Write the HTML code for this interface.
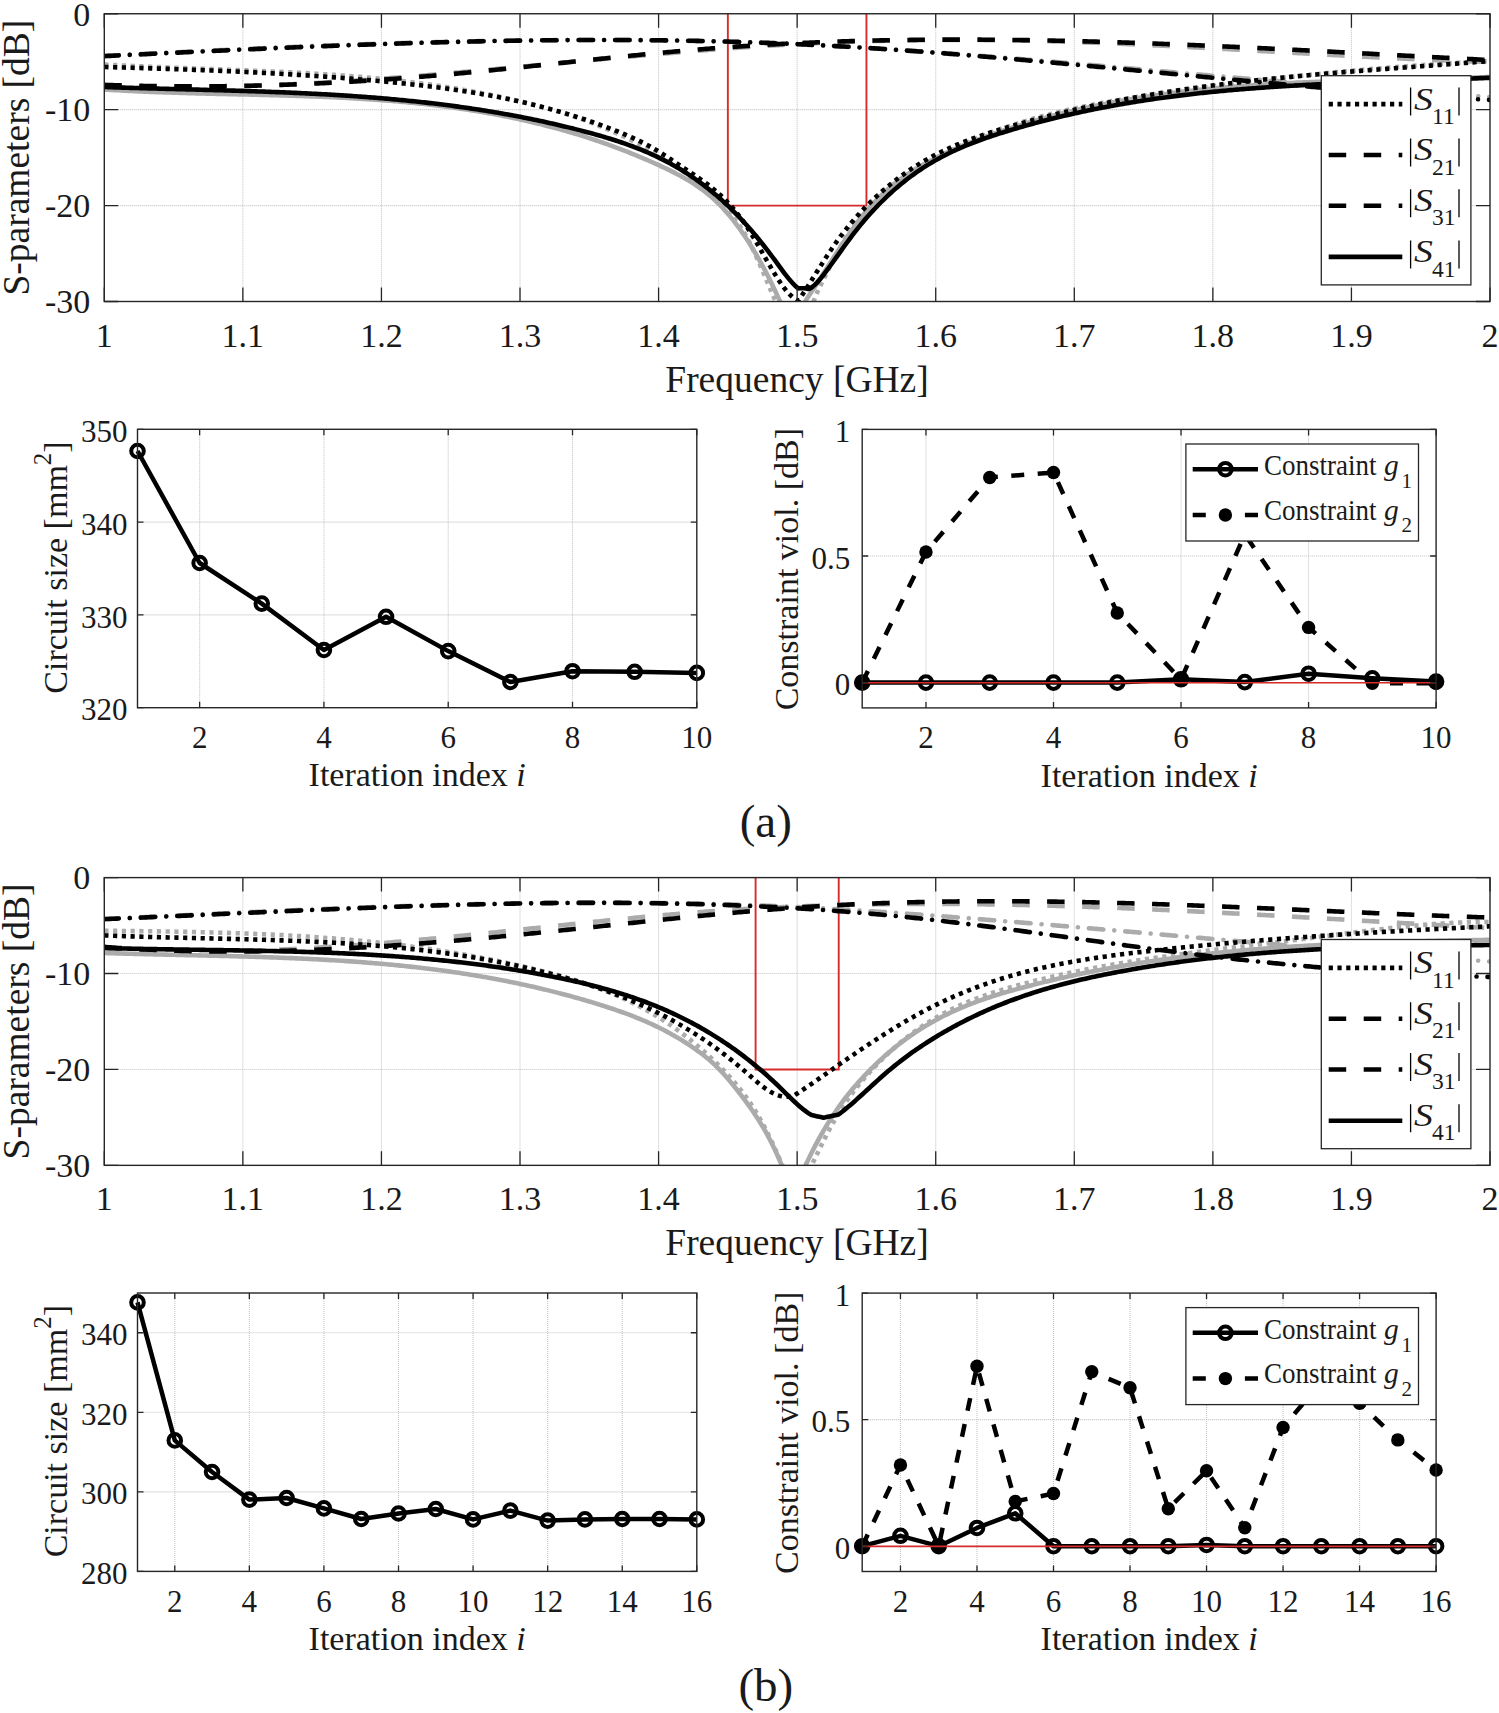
<!DOCTYPE html><html><head><meta charset="utf-8"><style>html,body{margin:0;padding:0;background:#fff;}svg{display:block;}text{font-family:"Liberation Serif",serif;fill:#1a1a1a;}</style></head><body>
<svg width="1499" height="1713" viewBox="0 0 1499 1713">
<rect width="1499" height="1713" fill="#fff"/>
<line x1="242.87" y1="13.75" x2="242.87" y2="301.5" stroke="#c4c4c4" stroke-width="1.1" stroke-dasharray="1 1"/>
<line x1="381.44" y1="13.75" x2="381.44" y2="301.5" stroke="#c4c4c4" stroke-width="1.1" stroke-dasharray="1 1"/>
<line x1="520.01" y1="13.75" x2="520.01" y2="301.5" stroke="#c4c4c4" stroke-width="1.1" stroke-dasharray="1 1"/>
<line x1="658.58" y1="13.75" x2="658.58" y2="301.5" stroke="#c4c4c4" stroke-width="1.1" stroke-dasharray="1 1"/>
<line x1="797.15" y1="13.75" x2="797.15" y2="301.5" stroke="#c4c4c4" stroke-width="1.1" stroke-dasharray="1 1"/>
<line x1="935.72" y1="13.75" x2="935.72" y2="301.5" stroke="#c4c4c4" stroke-width="1.1" stroke-dasharray="1 1"/>
<line x1="1074.29" y1="13.75" x2="1074.29" y2="301.5" stroke="#c4c4c4" stroke-width="1.1" stroke-dasharray="1 1"/>
<line x1="1212.86" y1="13.75" x2="1212.86" y2="301.5" stroke="#c4c4c4" stroke-width="1.1" stroke-dasharray="1 1"/>
<line x1="1351.43" y1="13.75" x2="1351.43" y2="301.5" stroke="#c4c4c4" stroke-width="1.1" stroke-dasharray="1 1"/>
<line x1="104.3" y1="109.67" x2="1490" y2="109.67" stroke="#c4c4c4" stroke-width="1.1" stroke-dasharray="1 1"/>
<line x1="104.3" y1="205.58" x2="1490" y2="205.58" stroke="#c4c4c4" stroke-width="1.1" stroke-dasharray="1 1"/>
<clipPath id="c13"><rect x="104.3" y="13.75" width="1385.7" height="287.75"/></clipPath>
<path d="M727.86,13.75 V205.58 H866.44 V13.75" stroke="#d82c2c" stroke-width="1.9" fill="none"/>
<g clip-path="url(#c13)" fill="none" stroke-width="4.6">
<path d="M104.3,85.02 L106.3,85.12 L108.3,85.2 L110.3,85.29 L112.3,85.37 L114.3,85.46 L116.3,85.53 L118.3,85.61 L120.3,85.69 L122.3,85.76 L124.3,85.83 L126.3,85.89 L128.3,85.96 L130.3,86.02 L132.3,86.08 L134.3,86.14 L136.3,86.19 L138.3,86.24 L140.3,86.29 L142.3,86.34 L144.3,86.39 L146.3,86.43 L148.3,86.47 L150.3,86.51 L152.3,86.55 L154.3,86.58 L156.3,86.61 L158.3,86.64 L160.3,86.67 L162.3,86.7 L164.3,86.72 L166.3,86.74 L168.3,86.76 L170.3,86.78 L172.3,86.79 L174.3,86.8 L176.3,86.81 L178.3,86.82 L180.3,86.83 L182.3,86.83 L184.3,86.83 L186.3,86.83 L188.3,86.83 L190.3,86.83 L192.3,86.82 L194.3,86.81 L196.3,86.8 L198.3,86.79 L200.3,86.78 L202.3,86.76 L204.3,86.74 L206.3,86.72 L208.3,86.7 L210.3,86.68 L212.3,86.65 L214.3,86.63 L216.3,86.6 L218.3,86.56 L220.3,86.53 L222.3,86.5 L224.3,86.46 L226.3,86.42 L228.3,86.38 L230.3,86.34 L232.3,86.29 L234.3,86.25 L236.3,86.2 L238.3,86.15 L240.3,86.1 L242.3,86.04 L244.3,85.99 L246.3,85.93 L248.3,85.87 L250.3,85.81 L252.3,85.75 L254.3,85.69 L256.3,85.62 L258.3,85.56 L260.3,85.49 L262.3,85.42 L264.3,85.35 L266.3,85.27 L268.3,85.2 L270.3,85.12 L272.3,85.05 L274.3,84.97 L276.3,84.88 L278.3,84.8 L280.3,84.72 L282.3,84.63 L284.3,84.54 L286.3,84.46 L288.3,84.37 L290.3,84.27 L292.3,84.18 L294.3,84.09 L296.3,83.99 L298.3,83.89 L300.3,83.79 L302.3,83.69 L304.3,83.59 L306.3,83.49 L308.3,83.38 L310.3,83.28 L312.3,83.17 L314.3,83.06 L316.3,82.95 L318.3,82.84 L320.3,82.73 L322.3,82.61 L324.3,82.5 L326.3,82.38 L328.3,82.27 L330.3,82.15 L332.3,82.03 L334.3,81.91 L336.3,81.78 L338.3,81.66 L340.3,81.53 L342.3,81.41 L344.3,81.28 L346.3,81.15 L348.3,81.02 L350.3,80.89 L352.3,80.76 L354.3,80.63 L356.3,80.49 L358.3,80.36 L360.3,80.22 L362.3,80.08 L364.3,79.94 L366.3,79.8 L368.3,79.66 L370.3,79.52 L372.3,79.38 L374.3,79.24 L376.3,79.09 L378.3,78.95 L380.3,78.8 L382.3,78.65 L384.3,78.5 L386.3,78.35 L388.3,78.2 L390.3,78.05 L392.3,77.9 L394.3,77.75 L396.3,77.59 L398.3,77.44 L400.3,77.28 L402.3,77.12 L404.3,76.97 L406.3,76.81 L408.3,76.65 L410.3,76.49 L412.3,76.33 L414.3,76.17 L416.3,76 L418.3,75.84 L420.3,75.68 L422.3,75.51 L424.3,75.35 L426.3,75.18 L428.3,75.02 L430.3,74.85 L432.3,74.68 L434.3,74.51 L436.3,74.34 L438.3,74.17 L440.3,74 L442.3,73.83 L444.3,73.66 L446.3,73.49 L448.3,73.31 L450.3,73.14 L452.3,72.96 L454.3,72.79 L456.3,72.61 L458.3,72.44 L460.3,72.26 L462.3,72.08 L464.3,71.91 L466.3,71.73 L468.3,71.55 L470.3,71.37 L472.3,71.19 L474.3,71.01 L476.3,70.83 L478.3,70.65 L480.3,70.47 L482.3,70.29 L484.3,70.11 L486.3,69.92 L488.3,69.74 L490.3,69.56 L492.3,69.38 L494.3,69.19 L496.3,69.01 L498.3,68.82 L500.3,68.64 L502.3,68.45 L504.3,68.27 L506.3,68.08 L508.3,67.9 L510.3,67.71 L512.3,67.52 L514.3,67.34 L516.3,67.15 L518.3,66.96 L520.3,66.78 L522.3,66.59 L524.3,66.4 L526.3,66.22 L528.3,66.03 L530.3,65.84 L532.3,65.65 L534.3,65.46 L536.3,65.28 L538.3,65.09 L540.3,64.9 L542.3,64.71 L544.3,64.52 L546.3,64.33 L548.3,64.14 L550.3,63.96 L552.3,63.77 L554.3,63.58 L556.3,63.39 L558.3,63.2 L560.3,63.01 L562.3,62.82 L564.3,62.64 L566.3,62.45 L568.3,62.26 L570.3,62.07 L572.3,61.88 L574.3,61.69 L576.3,61.51 L578.3,61.32 L580.3,61.13 L582.3,60.94 L584.3,60.76 L586.3,60.57 L588.3,60.38 L590.3,60.2 L592.3,60.01 L594.3,59.82 L596.3,59.64 L598.3,59.45 L600.3,59.27 L602.3,59.08 L604.3,58.9 L606.3,58.71 L608.3,58.53 L610.3,58.34 L612.3,58.16 L614.3,57.97 L616.3,57.79 L618.3,57.61 L620.3,57.43 L622.3,57.24 L624.3,57.06 L626.3,56.88 L628.3,56.7 L630.3,56.52 L632.3,56.34 L634.3,56.16 L636.3,55.98 L638.3,55.8 L640.3,55.63 L642.3,55.45 L644.3,55.27 L646.3,55.09 L648.3,54.92 L650.3,54.74 L652.3,54.57 L654.3,54.39 L656.3,54.22 L658.3,54.05 L660.3,53.87 L662.3,53.7 L664.3,53.53 L666.3,53.36 L668.3,53.19 L670.3,53.02 L672.3,52.85 L674.3,52.68 L676.3,52.52 L678.3,52.35 L680.3,52.18 L682.3,52.02 L684.3,51.85 L686.3,51.69 L688.3,51.53 L690.3,51.36 L692.3,51.2 L694.3,51.04 L696.3,50.88 L698.3,50.72 L700.3,50.56 L702.3,50.4 L704.3,50.25 L706.3,50.09 L708.3,49.94 L710.3,49.78 L712.3,49.63 L714.3,49.48 L716.3,49.33 L718.3,49.17 L720.3,49.03 L722.3,48.88 L724.3,48.73 L726.3,48.58 L728.3,48.44 L730.3,48.29 L732.3,48.15 L734.3,48 L736.3,47.86 L738.3,47.72 L740.3,47.58 L742.3,47.44 L744.3,47.31 L746.3,47.17 L748.3,47.03 L750.3,46.9 L752.3,46.77 L754.3,46.63 L756.3,46.5 L758.3,46.37 L760.3,46.24 L762.3,46.12 L764.3,45.99 L766.3,45.86 L768.3,45.74 L770.3,45.62 L772.3,45.5 L774.3,45.38 L776.3,45.26 L778.3,45.14 L780.3,45.02 L782.3,44.91 L784.3,44.79 L786.3,44.68 L788.3,44.57 L790.3,44.46 L792.3,44.35 L794.3,44.24 L796.3,44.14 L798.3,44.03 L800.3,43.93 L802.3,43.83 L804.3,43.72 L806.3,43.63 L808.3,43.53 L810.3,43.43 L812.3,43.34 L814.3,43.24 L816.3,43.15 L818.3,43.06 L820.3,42.97 L822.3,42.88 L824.3,42.79 L826.3,42.71 L828.3,42.62 L830.3,42.54 L832.3,42.46 L834.3,42.38 L836.3,42.3 L838.3,42.22 L840.3,42.15 L842.3,42.07 L844.3,42 L846.3,41.92 L848.3,41.85 L850.3,41.78 L852.3,41.72 L854.3,41.65 L856.3,41.58 L858.3,41.52 L860.3,41.46 L862.3,41.39 L864.3,41.33 L866.3,41.27 L868.3,41.22 L870.3,41.16 L872.3,41.11 L874.3,41.05 L876.3,41 L878.3,40.95 L880.3,40.9 L882.3,40.85 L884.3,40.8 L886.3,40.76 L888.3,40.71 L890.3,40.67 L892.3,40.63 L894.3,40.59 L896.3,40.55 L898.3,40.51 L900.3,40.47 L902.3,40.44 L904.3,40.4 L906.3,40.37 L908.3,40.34 L910.3,40.31 L912.3,40.28 L914.3,40.25 L916.3,40.22 L918.3,40.2 L920.3,40.18 L922.3,40.15 L924.3,40.13 L926.3,40.11 L928.3,40.09 L930.3,40.07 L932.3,40.06 L934.3,40.04 L936.3,40.03 L938.3,40.02 L940.3,40.01 L942.3,40 L944.3,39.99 L946.3,39.98 L948.3,39.98 L950.3,39.97 L952.3,39.97 L954.3,39.96 L956.3,39.96 L958.3,39.96 L960.3,39.97 L962.3,39.97 L964.3,39.97 L966.3,39.98 L968.3,39.98 L970.3,39.99 L972.3,40 L974.3,40.01 L976.3,40.02 L978.3,40.04 L980.3,40.05 L982.3,40.06 L984.3,40.08 L986.3,40.1 L988.3,40.12 L990.3,40.14 L992.3,40.16 L994.3,40.18 L996.3,40.21 L998.3,40.23 L1000.3,40.26 L1002.3,40.29 L1004.3,40.31 L1006.3,40.34 L1008.3,40.38 L1010.3,40.41 L1012.3,40.44 L1014.3,40.48 L1016.3,40.51 L1018.3,40.55 L1020.3,40.59 L1022.3,40.63 L1024.3,40.67 L1026.3,40.71 L1028.3,40.75 L1030.3,40.8 L1032.3,40.84 L1034.3,40.89 L1036.3,40.94 L1038.3,40.98 L1040.3,41.03 L1042.3,41.08 L1044.3,41.14 L1046.3,41.19 L1048.3,41.24 L1050.3,41.3 L1052.3,41.35 L1054.3,41.41 L1056.3,41.47 L1058.3,41.53 L1060.3,41.59 L1062.3,41.65 L1064.3,41.71 L1066.3,41.77 L1068.3,41.83 L1070.3,41.9 L1072.3,41.96 L1074.3,42.03 L1076.3,42.1 L1078.3,42.17 L1080.3,42.24 L1082.3,42.31 L1084.3,42.38 L1086.3,42.45 L1088.3,42.52 L1090.3,42.59 L1092.3,42.67 L1094.3,42.74 L1096.3,42.82 L1098.3,42.9 L1100.3,42.97 L1102.3,43.05 L1104.3,43.13 L1106.3,43.21 L1108.3,43.29 L1110.3,43.37 L1112.3,43.45 L1114.3,43.54 L1116.3,43.62 L1118.3,43.7 L1120.3,43.79 L1122.3,43.88 L1124.3,43.96 L1126.3,44.05 L1128.3,44.14 L1130.3,44.23 L1132.3,44.31 L1134.3,44.4 L1136.3,44.49 L1138.3,44.59 L1140.3,44.68 L1142.3,44.77 L1144.3,44.86 L1146.3,44.96 L1148.3,45.05 L1150.3,45.14 L1152.3,45.24 L1154.3,45.33 L1156.3,45.43 L1158.3,45.53 L1160.3,45.63 L1162.3,45.72 L1164.3,45.82 L1166.3,45.92 L1168.3,46.02 L1170.3,46.12 L1172.3,46.22 L1174.3,46.32 L1176.3,46.42 L1178.3,46.52 L1180.3,46.63 L1182.3,46.73 L1184.3,46.83 L1186.3,46.93 L1188.3,47.04 L1190.3,47.14 L1192.3,47.25 L1194.3,47.35 L1196.3,47.46 L1198.3,47.56 L1200.3,47.67 L1202.3,47.77 L1204.3,47.88 L1206.3,47.99 L1208.3,48.1 L1210.3,48.2 L1212.3,48.31 L1214.3,48.42 L1216.3,48.53 L1218.3,48.64 L1220.3,48.75 L1222.3,48.86 L1224.3,48.96 L1226.3,49.07 L1228.3,49.18 L1230.3,49.29 L1232.3,49.4 L1234.3,49.52 L1236.3,49.63 L1238.3,49.74 L1240.3,49.85 L1242.3,49.96 L1244.3,50.07 L1246.3,50.18 L1248.3,50.29 L1250.3,50.41 L1252.3,50.52 L1254.3,50.63 L1256.3,50.74 L1258.3,50.85 L1260.3,50.97 L1262.3,51.08 L1264.3,51.19 L1266.3,51.3 L1268.3,51.42 L1270.3,51.53 L1272.3,51.64 L1274.3,51.75 L1276.3,51.87 L1278.3,51.98 L1280.3,52.09 L1282.3,52.2 L1284.3,52.32 L1286.3,52.43 L1288.3,52.54 L1290.3,52.65 L1292.3,52.76 L1294.3,52.88 L1296.3,52.99 L1298.3,53.1 L1300.3,53.21 L1302.3,53.32 L1304.3,53.44 L1306.3,53.55 L1308.3,53.66 L1310.3,53.77 L1312.3,53.88 L1314.3,53.99 L1316.3,54.1 L1318.3,54.21 L1320.3,54.32 L1322.3,54.43 L1324.3,54.54 L1326.3,54.65 L1328.3,54.76 L1330.3,54.87 L1332.3,54.98 L1334.3,55.09 L1336.3,55.2 L1338.3,55.31 L1340.3,55.41 L1342.3,55.52 L1344.3,55.63 L1346.3,55.74 L1348.3,55.84 L1350.3,55.95 L1352.3,56.05 L1354.3,56.16 L1356.3,56.27 L1358.3,56.37 L1360.3,56.48 L1362.3,56.58 L1364.3,56.68 L1366.3,56.79 L1368.3,56.89 L1370.3,56.99 L1372.3,57.09 L1374.3,57.2 L1376.3,57.3 L1378.3,57.4 L1380.3,57.5 L1382.3,57.6 L1384.3,57.7 L1386.3,57.8 L1388.3,57.89 L1390.3,57.99 L1392.3,58.09 L1394.3,58.19 L1396.3,58.28 L1398.3,58.38 L1400.3,58.47 L1402.3,58.57 L1404.3,58.66 L1406.3,58.75 L1408.3,58.85 L1410.3,58.94 L1412.3,59.03 L1414.3,59.12 L1416.3,59.21 L1418.3,59.3 L1420.3,59.39 L1422.3,59.48 L1424.3,59.57 L1426.3,59.65 L1428.3,59.74 L1430.3,59.83 L1432.3,59.91 L1434.3,60 L1436.3,60.08 L1438.3,60.16 L1440.3,60.24 L1442.3,60.33 L1444.3,60.41 L1446.3,60.49 L1448.3,60.56 L1450.3,60.64 L1452.3,60.72 L1454.3,60.8 L1456.3,60.87 L1458.3,60.95 L1460.3,61.02 L1462.3,61.09 L1464.3,61.17 L1466.3,61.24 L1468.3,61.31 L1470.3,61.38 L1472.3,61.45 L1474.3,61.52 L1476.3,61.58 L1478.3,61.65 L1480.3,61.72 L1482.3,61.78 L1484.3,61.84 L1486.3,61.91 L1488.3,61.97 L1490,62.02" stroke="#ababab" stroke-dasharray="17.5 17.5" stroke-linecap="butt" stroke-linejoin="round"/>
<path d="M104.3,56.02 L106.3,55.91 L108.3,55.8 L110.3,55.7 L112.3,55.59 L114.3,55.49 L116.3,55.38 L118.3,55.28 L120.3,55.17 L122.3,55.06 L124.3,54.96 L126.3,54.86 L128.3,54.75 L130.3,54.65 L132.3,54.54 L134.3,54.44 L136.3,54.33 L138.3,54.23 L140.3,54.13 L142.3,54.02 L144.3,53.92 L146.3,53.82 L148.3,53.71 L150.3,53.61 L152.3,53.51 L154.3,53.41 L156.3,53.3 L158.3,53.2 L160.3,53.1 L162.3,53 L164.3,52.9 L166.3,52.8 L168.3,52.69 L170.3,52.59 L172.3,52.49 L174.3,52.39 L176.3,52.29 L178.3,52.19 L180.3,52.09 L182.3,51.99 L184.3,51.89 L186.3,51.8 L188.3,51.7 L190.3,51.6 L192.3,51.5 L194.3,51.4 L196.3,51.3 L198.3,51.21 L200.3,51.11 L202.3,51.01 L204.3,50.92 L206.3,50.82 L208.3,50.72 L210.3,50.63 L212.3,50.53 L214.3,50.44 L216.3,50.34 L218.3,50.25 L220.3,50.15 L222.3,50.06 L224.3,49.96 L226.3,49.87 L228.3,49.78 L230.3,49.68 L232.3,49.59 L234.3,49.5 L236.3,49.4 L238.3,49.31 L240.3,49.22 L242.3,49.13 L244.3,49.04 L246.3,48.95 L248.3,48.86 L250.3,48.77 L252.3,48.68 L254.3,48.59 L256.3,48.5 L258.3,48.41 L260.3,48.32 L262.3,48.23 L264.3,48.14 L266.3,48.06 L268.3,47.97 L270.3,47.88 L272.3,47.8 L274.3,47.71 L276.3,47.62 L278.3,47.54 L280.3,47.45 L282.3,47.37 L284.3,47.28 L286.3,47.2 L288.3,47.12 L290.3,47.03 L292.3,46.95 L294.3,46.87 L296.3,46.78 L298.3,46.7 L300.3,46.62 L302.3,46.54 L304.3,46.46 L306.3,46.38 L308.3,46.3 L310.3,46.22 L312.3,46.14 L314.3,46.06 L316.3,45.98 L318.3,45.9 L320.3,45.83 L322.3,45.75 L324.3,45.67 L326.3,45.6 L328.3,45.52 L330.3,45.44 L332.3,45.37 L334.3,45.29 L336.3,45.22 L338.3,45.15 L340.3,45.07 L342.3,45 L344.3,44.93 L346.3,44.85 L348.3,44.78 L350.3,44.71 L352.3,44.64 L354.3,44.57 L356.3,44.5 L358.3,44.43 L360.3,44.36 L362.3,44.29 L364.3,44.22 L366.3,44.16 L368.3,44.09 L370.3,44.02 L372.3,43.95 L374.3,43.89 L376.3,43.82 L378.3,43.76 L380.3,43.69 L382.3,43.63 L384.3,43.57 L386.3,43.5 L388.3,43.44 L390.3,43.38 L392.3,43.32 L394.3,43.25 L396.3,43.19 L398.3,43.13 L400.3,43.07 L402.3,43.02 L404.3,42.96 L406.3,42.9 L408.3,42.84 L410.3,42.78 L412.3,42.73 L414.3,42.67 L416.3,42.61 L418.3,42.56 L420.3,42.5 L422.3,42.45 L424.3,42.4 L426.3,42.34 L428.3,42.29 L430.3,42.24 L432.3,42.19 L434.3,42.14 L436.3,42.09 L438.3,42.04 L440.3,41.99 L442.3,41.94 L444.3,41.89 L446.3,41.84 L448.3,41.8 L450.3,41.75 L452.3,41.7 L454.3,41.66 L456.3,41.61 L458.3,41.57 L460.3,41.53 L462.3,41.48 L464.3,41.44 L466.3,41.4 L468.3,41.36 L470.3,41.32 L472.3,41.28 L474.3,41.24 L476.3,41.2 L478.3,41.16 L480.3,41.12 L482.3,41.08 L484.3,41.05 L486.3,41.01 L488.3,40.98 L490.3,40.94 L492.3,40.91 L494.3,40.87 L496.3,40.84 L498.3,40.81 L500.3,40.78 L502.3,40.75 L504.3,40.72 L506.3,40.69 L508.3,40.66 L510.3,40.63 L512.3,40.6 L514.3,40.57 L516.3,40.55 L518.3,40.52 L520.3,40.49 L522.3,40.47 L524.3,40.45 L526.3,40.42 L528.3,40.4 L530.3,40.38 L532.3,40.36 L534.3,40.34 L536.3,40.32 L538.3,40.3 L540.3,40.28 L542.3,40.26 L544.3,40.24 L546.3,40.22 L548.3,40.21 L550.3,40.19 L552.3,40.18 L554.3,40.16 L556.3,40.15 L558.3,40.14 L560.3,40.13 L562.3,40.12 L564.3,40.1 L566.3,40.1 L568.3,40.09 L570.3,40.08 L572.3,40.07 L574.3,40.06 L576.3,40.06 L578.3,40.05 L580.3,40.05 L582.3,40.04 L584.3,40.04 L586.3,40.04 L588.3,40.03 L590.3,40.03 L592.3,40.03 L594.3,40.03 L596.3,40.03 L598.3,40.04 L600.3,40.04 L602.3,40.04 L604.3,40.04 L606.3,40.05 L608.3,40.06 L610.3,40.06 L612.3,40.07 L614.3,40.08 L616.3,40.08 L618.3,40.09 L620.3,40.1 L622.3,40.11 L624.3,40.13 L626.3,40.14 L628.3,40.15 L630.3,40.17 L632.3,40.18 L634.3,40.2 L636.3,40.21 L638.3,40.23 L640.3,40.25 L642.3,40.27 L644.3,40.29 L646.3,40.31 L648.3,40.33 L650.3,40.35 L652.3,40.37 L654.3,40.4 L656.3,40.42 L658.3,40.44 L660.3,40.47 L662.3,40.5 L664.3,40.52 L666.3,40.55 L668.3,40.58 L670.3,40.61 L672.3,40.64 L674.3,40.68 L676.3,40.71 L678.3,40.74 L680.3,40.78 L682.3,40.81 L684.3,40.85 L686.3,40.88 L688.3,40.92 L690.3,40.96 L692.3,41 L694.3,41.04 L696.3,41.08 L698.3,41.12 L700.3,41.17 L702.3,41.21 L704.3,41.25 L706.3,41.3 L708.3,41.35 L710.3,41.39 L712.3,41.44 L714.3,41.49 L716.3,41.54 L718.3,41.59 L720.3,41.64 L722.3,41.69 L724.3,41.75 L726.3,41.8 L728.3,41.86 L730.3,41.91 L732.3,41.97 L734.3,42.03 L736.3,42.09 L738.3,42.15 L740.3,42.21 L742.3,42.27 L744.3,42.33 L746.3,42.4 L748.3,42.46 L750.3,42.53 L752.3,42.59 L754.3,42.66 L756.3,42.73 L758.3,42.8 L760.3,42.87 L762.3,42.94 L764.3,43.01 L766.3,43.08 L768.3,43.16 L770.3,43.23 L772.3,43.31 L774.3,43.38 L776.3,43.46 L778.3,43.54 L780.3,43.62 L782.3,43.7 L784.3,43.78 L786.3,43.86 L788.3,43.95 L790.3,44.03 L792.3,44.12 L794.3,44.2 L796.3,44.29 L798.3,44.38 L800.3,44.47 L802.3,44.56 L804.3,44.65 L806.3,44.74 L808.3,44.84 L810.3,44.93 L812.3,45.03 L814.3,45.12 L816.3,45.22 L818.3,45.32 L820.3,45.42 L822.3,45.52 L824.3,45.62 L826.3,45.72 L828.3,45.82 L830.3,45.92 L832.3,46.03 L834.3,46.13 L836.3,46.24 L838.3,46.35 L840.3,46.45 L842.3,46.56 L844.3,46.67 L846.3,46.78 L848.3,46.9 L850.3,47.01 L852.3,47.12 L854.3,47.23 L856.3,47.35 L858.3,47.46 L860.3,47.58 L862.3,47.7 L864.3,47.82 L866.3,47.93 L868.3,48.05 L870.3,48.17 L872.3,48.3 L874.3,48.42 L876.3,48.54 L878.3,48.66 L880.3,48.79 L882.3,48.91 L884.3,49.04 L886.3,49.17 L888.3,49.29 L890.3,49.42 L892.3,49.55 L894.3,49.68 L896.3,49.81 L898.3,49.94 L900.3,50.07 L902.3,50.2 L904.3,50.34 L906.3,50.47 L908.3,50.6 L910.3,50.74 L912.3,50.87 L914.3,51.01 L916.3,51.15 L918.3,51.29 L920.3,51.42 L922.3,51.56 L924.3,51.7 L926.3,51.84 L928.3,51.98 L930.3,52.12 L932.3,52.27 L934.3,52.41 L936.3,52.55 L938.3,52.7 L940.3,52.84 L942.3,52.99 L944.3,53.13 L946.3,53.28 L948.3,53.42 L950.3,53.57 L952.3,53.72 L954.3,53.87 L956.3,54.02 L958.3,54.17 L960.3,54.32 L962.3,54.47 L964.3,54.62 L966.3,54.77 L968.3,54.92 L970.3,55.08 L972.3,55.23 L974.3,55.38 L976.3,55.54 L978.3,55.69 L980.3,55.85 L982.3,56 L984.3,56.16 L986.3,56.31 L988.3,56.47 L990.3,56.63 L992.3,56.79 L994.3,56.95 L996.3,57.1 L998.3,57.26 L1000.3,57.42 L1002.3,57.58 L1004.3,57.74 L1006.3,57.9 L1008.3,58.07 L1010.3,58.23 L1012.3,58.39 L1014.3,58.55 L1016.3,58.72 L1018.3,58.88 L1020.3,59.04 L1022.3,59.21 L1024.3,59.37 L1026.3,59.54 L1028.3,59.7 L1030.3,59.87 L1032.3,60.03 L1034.3,60.2 L1036.3,60.36 L1038.3,60.53 L1040.3,60.7 L1042.3,60.86 L1044.3,61.03 L1046.3,61.2 L1048.3,61.37 L1050.3,61.54 L1052.3,61.71 L1054.3,61.87 L1056.3,62.04 L1058.3,62.21 L1060.3,62.38 L1062.3,62.55 L1064.3,62.72 L1066.3,62.89 L1068.3,63.07 L1070.3,63.24 L1072.3,63.41 L1074.3,63.58 L1076.3,63.75 L1078.3,63.92 L1080.3,64.09 L1082.3,64.27 L1084.3,64.44 L1086.3,64.61 L1088.3,64.78 L1090.3,64.96 L1092.3,65.13 L1094.3,65.3 L1096.3,65.48 L1098.3,65.65 L1100.3,65.83 L1102.3,66 L1104.3,66.17 L1106.3,66.35 L1108.3,66.52 L1110.3,66.7 L1112.3,66.87 L1114.3,67.05 L1116.3,67.22 L1118.3,67.4 L1120.3,67.57 L1122.3,67.75 L1124.3,67.92 L1126.3,68.1 L1128.3,68.27 L1130.3,68.45 L1132.3,68.62 L1134.3,68.8 L1136.3,68.98 L1138.3,69.15 L1140.3,69.33 L1142.3,69.5 L1144.3,69.68 L1146.3,69.86 L1148.3,70.03 L1150.3,70.21 L1152.3,70.39 L1154.3,70.56 L1156.3,70.74 L1158.3,70.92 L1160.3,71.09 L1162.3,71.27 L1164.3,71.45 L1166.3,71.62 L1168.3,71.8 L1170.3,71.97 L1172.3,72.15 L1174.3,72.33 L1176.3,72.5 L1178.3,72.68 L1180.3,72.86 L1182.3,73.03 L1184.3,73.21 L1186.3,73.39 L1188.3,73.56 L1190.3,73.74 L1192.3,73.91 L1194.3,74.09 L1196.3,74.27 L1198.3,74.44 L1200.3,74.62 L1202.3,74.79 L1204.3,74.97 L1206.3,75.15 L1208.3,75.32 L1210.3,75.5 L1212.3,75.67 L1214.3,75.85 L1216.3,76.02 L1218.3,76.2 L1220.3,76.37 L1222.3,76.55 L1224.3,76.72 L1226.3,76.9 L1228.3,77.07 L1230.3,77.25 L1232.3,77.42 L1234.3,77.59 L1236.3,77.77 L1238.3,77.94 L1240.3,78.12 L1242.3,78.29 L1244.3,78.46 L1246.3,78.63 L1248.3,78.81 L1250.3,78.98 L1252.3,79.15 L1254.3,79.33 L1256.3,79.5 L1258.3,79.67 L1260.3,79.84 L1262.3,80.01 L1264.3,80.18 L1266.3,80.35 L1268.3,80.53 L1270.3,80.7 L1272.3,80.87 L1274.3,81.04 L1276.3,81.21 L1278.3,81.38 L1280.3,81.55 L1282.3,81.71 L1284.3,81.88 L1286.3,82.05 L1288.3,82.22 L1290.3,82.39 L1292.3,82.56 L1294.3,82.72 L1296.3,82.89 L1298.3,83.06 L1300.3,83.22 L1302.3,83.39 L1304.3,83.56 L1306.3,83.72 L1308.3,83.89 L1310.3,84.05 L1312.3,84.22 L1314.3,84.38 L1316.3,84.54 L1318.3,84.71 L1320.3,84.87 L1322.3,85.03 L1324.3,85.2 L1326.3,85.36 L1328.3,85.52 L1330.3,85.68 L1332.3,85.84 L1334.3,86 L1336.3,86.17 L1338.3,86.33 L1340.3,86.48 L1342.3,86.64 L1344.3,86.8 L1346.3,86.96 L1348.3,87.12 L1350.3,87.28 L1352.3,87.43 L1354.3,87.59 L1356.3,87.75 L1358.3,87.9 L1360.3,88.06 L1362.3,88.21 L1364.3,88.37 L1366.3,88.52 L1368.3,88.68 L1370.3,88.83 L1372.3,88.98 L1374.3,89.13 L1376.3,89.29 L1378.3,89.44 L1380.3,89.59 L1382.3,89.74 L1384.3,89.89 L1386.3,90.04 L1388.3,90.19 L1390.3,90.34 L1392.3,90.48 L1394.3,90.63 L1396.3,90.78 L1398.3,90.92 L1400.3,91.07 L1402.3,91.21 L1404.3,91.36 L1406.3,91.5 L1408.3,91.65 L1410.3,91.79 L1412.3,91.93 L1414.3,92.07 L1416.3,92.22 L1418.3,92.36 L1420.3,92.5 L1422.3,92.64 L1424.3,92.78 L1426.3,92.91 L1428.3,93.05 L1430.3,93.19 L1432.3,93.33 L1434.3,93.46 L1436.3,93.6 L1438.3,93.73 L1440.3,93.87 L1442.3,94 L1444.3,94.13 L1446.3,94.27 L1448.3,94.4 L1450.3,94.53 L1452.3,94.66 L1454.3,94.79 L1456.3,94.92 L1458.3,95.05 L1460.3,95.17 L1462.3,95.3 L1464.3,95.43 L1466.3,95.55 L1468.3,95.68 L1470.3,95.8 L1472.3,95.93 L1474.3,96.05 L1476.3,96.17 L1478.3,96.29 L1480.3,96.42 L1482.3,96.54 L1484.3,96.65 L1486.3,96.77 L1488.3,96.89 L1490,96.99" stroke="#ababab" stroke-dasharray="14.5 11 0.01 11" stroke-linecap="round" stroke-linejoin="round"/>
<path d="M104.3,64.5 L106.3,64.61 L108.3,64.72 L110.3,64.83 L112.3,64.94 L114.3,65.05 L116.3,65.16 L118.3,65.26 L120.3,65.36 L122.3,65.47 L124.3,65.57 L126.3,65.67 L128.3,65.76 L130.3,65.86 L132.3,65.95 L134.3,66.05 L136.3,66.14 L138.3,66.23 L140.3,66.32 L142.3,66.41 L144.3,66.5 L146.3,66.59 L148.3,66.67 L150.3,66.76 L152.3,66.84 L154.3,66.93 L156.3,67.01 L158.3,67.09 L160.3,67.17 L162.3,67.25 L164.3,67.33 L166.3,67.41 L168.3,67.49 L170.3,67.57 L172.3,67.64 L174.3,67.72 L176.3,67.8 L178.3,67.87 L180.3,67.95 L182.3,68.02 L184.3,68.09 L186.3,68.17 L188.3,68.24 L190.3,68.31 L192.3,68.39 L194.3,68.46 L196.3,68.53 L198.3,68.6 L200.3,68.67 L202.3,68.75 L204.3,68.82 L206.3,68.89 L208.3,68.96 L210.3,69.03 L212.3,69.1 L214.3,69.18 L216.3,69.25 L218.3,69.32 L220.3,69.39 L222.3,69.47 L224.3,69.54 L226.3,69.61 L228.3,69.69 L230.3,69.76 L232.3,69.83 L234.3,69.91 L236.3,69.98 L238.3,70.06 L240.3,70.13 L242.3,70.21 L244.3,70.29 L246.3,70.37 L248.3,70.44 L250.3,70.52 L252.3,70.6 L254.3,70.68 L256.3,70.77 L258.3,70.85 L260.3,70.93 L262.3,71.02 L264.3,71.1 L266.3,71.19 L268.3,71.27 L270.3,71.36 L272.3,71.45 L274.3,71.54 L276.3,71.63 L278.3,71.72 L280.3,71.82 L282.3,71.91 L284.3,72.01 L286.3,72.1 L288.3,72.2 L290.3,72.3 L292.3,72.4 L294.3,72.51 L296.3,72.61 L298.3,72.72 L300.3,72.82 L302.3,72.93 L304.3,73.04 L306.3,73.15 L308.3,73.27 L310.3,73.38 L312.3,73.5 L314.3,73.62 L316.3,73.74 L318.3,73.86 L320.3,73.98 L322.3,74.11 L324.3,74.24 L326.3,74.37 L328.3,74.5 L330.3,74.63 L332.3,74.77 L334.3,74.91 L336.3,75.05 L338.3,75.19 L340.3,75.33 L342.3,75.48 L344.3,75.63 L346.3,75.78 L348.3,75.93 L350.3,76.09 L352.3,76.25 L354.3,76.41 L356.3,76.57 L358.3,76.74 L360.3,76.9 L362.3,77.07 L364.3,77.25 L366.3,77.42 L368.3,77.6 L370.3,77.78 L372.3,77.97 L374.3,78.15 L376.3,78.34 L378.3,78.53 L380.3,78.73 L382.3,78.92 L384.3,79.13 L386.3,79.33 L388.3,79.54 L390.3,79.74 L392.3,79.96 L394.3,80.17 L396.3,80.39 L398.3,80.61 L400.3,80.84 L402.3,81.07 L404.3,81.3 L406.3,81.53 L408.3,81.77 L410.3,82.01 L412.3,82.25 L414.3,82.5 L416.3,82.75 L418.3,83.01 L420.3,83.27 L422.3,83.53 L424.3,83.79 L426.3,84.06 L428.3,84.34 L430.3,84.61 L432.3,84.89 L434.3,85.18 L436.3,85.46 L438.3,85.75 L440.3,86.05 L442.3,86.35 L444.3,86.65 L446.3,86.96 L448.3,87.27 L450.3,87.58 L452.3,87.9 L454.3,88.23 L456.3,88.55 L458.3,88.88 L460.3,89.22 L462.3,89.56 L464.3,89.9 L466.3,90.25 L468.3,90.6 L470.3,90.96 L472.3,91.32 L474.3,91.68 L476.3,92.05 L478.3,92.43 L480.3,92.81 L482.3,93.19 L484.3,93.58 L486.3,93.97 L488.3,94.37 L490.3,94.77 L492.3,95.17 L494.3,95.58 L496.3,96 L498.3,96.42 L500.3,96.85 L502.3,97.28 L504.3,97.71 L506.3,98.15 L508.3,98.59 L510.3,99.04 L512.3,99.5 L514.3,99.96 L516.3,100.42 L518.3,100.89 L520.3,101.37 L522.3,101.85 L524.3,102.34 L526.3,102.83 L528.3,103.32 L530.3,103.83 L532.3,104.33 L534.3,104.85 L536.3,105.37 L538.3,105.9 L540.3,106.43 L542.3,106.97 L544.3,107.52 L546.3,108.07 L548.3,108.64 L550.3,109.21 L552.3,109.78 L554.3,110.37 L556.3,110.96 L558.3,111.56 L560.3,112.17 L562.3,112.78 L564.3,113.41 L566.3,114.04 L568.3,114.68 L570.3,115.33 L572.3,115.99 L574.3,116.66 L576.3,117.34 L578.3,118.02 L580.3,118.72 L582.3,119.43 L584.3,120.14 L586.3,120.87 L588.3,121.61 L590.3,122.36 L592.3,123.11 L594.3,123.88 L596.3,124.66 L598.3,125.45 L600.3,126.25 L602.3,127.06 L604.3,127.89 L606.3,128.72 L608.3,129.57 L610.3,130.43 L612.3,131.3 L614.3,132.18 L616.3,133.08 L618.3,133.99 L620.3,134.91 L622.3,135.84 L624.3,136.78 L626.3,137.74 L628.3,138.72 L630.3,139.7 L632.3,140.7 L634.3,141.71 L636.3,142.74 L638.3,143.78 L640.3,144.84 L642.3,145.91 L644.3,146.99 L646.3,148.09 L648.3,149.2 L650.3,150.33 L652.3,151.47 L654.3,152.63 L656.3,153.8 L658.3,154.99 L660.3,156.19 L662.3,157.42 L664.3,158.65 L666.3,159.91 L668.3,161.18 L670.3,162.48 L672.3,163.79 L674.3,165.12 L676.3,166.48 L678.3,167.86 L680.3,169.26 L682.3,170.68 L684.3,172.13 L686.3,173.61 L688.3,175.11 L690.3,176.64 L692.3,178.2 L694.3,179.78 L696.3,181.39 L698.3,183.04 L700.3,184.71 L702.3,186.42 L704.3,188.15 L706.3,189.92 L708.3,191.73 L710.3,193.57 L712.3,195.44 L714.3,197.35 L716.3,199.3 L718.3,201.28 L720.3,203.31 L722.3,205.37 L724.3,207.47 L726.3,209.61 L728.3,211.8 L730.3,214.04 L732.3,216.36 L734.3,218.77 L736.3,221.31 L738.3,223.97 L740.3,226.8 L742.3,229.79 L744.3,232.99 L746.3,236.39 L748.3,240.03 L750.3,243.89 L752.3,247.94 L754.3,252.16 L756.3,256.52 L758.3,261 L760.3,265.58 L762.3,270.23 L764.3,274.93 L766.3,279.65 L768.3,284.37 L770.3,289.05 L772.3,293.69 L774.3,298.25 L776.3,302.71 L778.3,307.04 L780.3,311.23 L782.3,315.23 L784.3,319.04 L786.3,322.63 L788.3,325.97 L790.3,329.03 L792.3,331.8 L794.3,334.24 L795,335.02 L797,336.99 L799,336.81 L801,334.8 L803,331.29 L805,326.63 L807,321.13 L809,315.15 L811,309.01 L813,303.05 L815,297.61 L817,292.82 L819,288.51 L821,284.46 L823,280.47 L825,276.49 L827,272.52 L829,268.57 L831,264.65 L833,260.77 L835,256.93 L837,253.14 L839,249.4 L841,245.73 L843,242.13 L845,238.61 L847,235.17 L849,231.82 L851,228.57 L853,225.42 L855,222.39 L857,219.48 L859,216.69 L861,214.03 L863,211.48 L865,209.05 L867,206.73 L869,204.51 L871,202.39 L873,200.36 L875,198.42 L877,196.56 L879,194.77 L881,193.05 L883,191.4 L885,189.81 L887,188.27 L889,186.78 L891,185.33 L893,183.91 L895,182.53 L897,181.18 L899,179.84 L901,178.52 L903,177.21 L905,175.92 L907,174.65 L909,173.39 L911,172.14 L913,170.9 L915,169.68 L917,168.48 L919,167.29 L921,166.11 L923,164.94 L925,163.79 L927,162.66 L929,161.53 L931,160.42 L933,159.32 L935,158.24 L937,157.17 L939,156.11 L941,155.06 L943,154.03 L945,153 L947,152 L949,151 L951,150.01 L953,149.04 L955,148.08 L957,147.13 L959,146.19 L961,145.27 L963,144.35 L965,143.45 L967,142.56 L969,141.68 L971,140.81 L973,139.95 L975,139.11 L977,138.27 L979,137.44 L981,136.63 L983,135.82 L985,135.03 L987,134.25 L989,133.47 L991,132.71 L993,131.95 L995,131.21 L997,130.48 L999,129.75 L1001,129.04 L1003,128.33 L1005,127.63 L1007,126.95 L1009,126.27 L1011,125.6 L1013,124.94 L1015,124.29 L1017,123.65 L1019,123.01 L1021,122.39 L1023,121.77 L1025,121.16 L1027,120.56 L1029,119.97 L1031,119.38 L1033,118.81 L1035,118.24 L1037,117.68 L1039,117.12 L1041,116.58 L1043,116.04 L1045,115.5 L1047,114.98 L1049,114.46 L1051,113.95 L1053,113.45 L1055,112.95 L1057,112.46 L1059,111.97 L1061,111.5 L1063,111.03 L1065,110.56 L1067,110.1 L1069,109.65 L1071,109.2 L1073,108.76 L1075,108.32 L1077,107.89 L1079,107.47 L1081,107.05 L1083,106.63 L1085,106.22 L1087,105.82 L1089,105.42 L1091,105.03 L1093,104.64 L1095,104.25 L1097,103.87 L1099,103.49 L1101,103.12 L1103,102.75 L1105,102.39 L1107,102.03 L1109,101.67 L1111,101.32 L1113,100.97 L1115,100.63 L1117,100.29 L1119,99.95 L1121,99.62 L1123,99.28 L1125,98.95 L1127,98.63 L1129,98.31 L1131,97.99 L1133,97.67 L1135,97.35 L1137,97.04 L1139,96.73 L1141,96.42 L1143,96.12 L1145,95.81 L1147,95.51 L1149,95.21 L1151,94.91 L1153,94.61 L1155,94.32 L1157,94.02 L1159,93.73 L1161,93.44 L1163,93.15 L1165,92.86 L1167,92.57 L1169,92.28 L1171,92 L1173,91.71 L1175,91.43 L1177,91.14 L1179,90.86 L1181,90.58 L1183,90.3 L1185,90.02 L1187,89.75 L1189,89.47 L1191,89.19 L1193,88.92 L1195,88.65 L1197,88.38 L1199,88.1 L1201,87.84 L1203,87.57 L1205,87.3 L1207,87.03 L1209,86.77 L1211,86.5 L1213,86.24 L1215,85.98 L1217,85.72 L1219,85.46 L1221,85.2 L1223,84.94 L1225,84.69 L1227,84.43 L1229,84.18 L1231,83.92 L1233,83.67 L1235,83.42 L1237,83.17 L1239,82.92 L1241,82.68 L1243,82.43 L1245,82.19 L1247,81.94 L1249,81.7 L1251,81.46 L1253,81.22 L1255,80.98 L1257,80.74 L1259,80.5 L1261,80.27 L1263,80.03 L1265,79.8 L1267,79.57 L1269,79.34 L1271,79.11 L1273,78.88 L1275,78.65 L1277,78.42 L1279,78.2 L1281,77.97 L1283,77.75 L1285,77.53 L1287,77.31 L1289,77.09 L1291,76.87 L1293,76.65 L1295,76.43 L1297,76.22 L1299,76 L1301,75.79 L1303,75.58 L1305,75.37 L1307,75.16 L1309,74.95 L1311,74.74 L1313,74.54 L1315,74.33 L1317,74.13 L1319,73.93 L1321,73.73 L1323,73.53 L1325,73.33 L1327,73.13 L1329,72.93 L1331,72.74 L1333,72.54 L1335,72.35 L1337,72.16 L1339,71.97 L1341,71.78 L1343,71.59 L1345,71.4 L1347,71.22 L1349,71.03 L1351,70.85 L1353,70.66 L1355,70.48 L1357,70.3 L1359,70.12 L1361,69.95 L1363,69.77 L1365,69.59 L1367,69.42 L1369,69.25 L1371,69.07 L1373,68.9 L1375,68.73 L1377,68.57 L1379,68.4 L1381,68.23 L1383,68.07 L1385,67.9 L1387,67.74 L1389,67.58 L1391,67.42 L1393,67.26 L1395,67.1 L1397,66.95 L1399,66.79 L1401,66.64 L1403,66.48 L1405,66.33 L1407,66.18 L1409,66.03 L1411,65.88 L1413,65.74 L1415,65.59 L1417,65.45 L1419,65.3 L1421,65.16 L1423,65.02 L1425,64.88 L1427,64.74 L1429,64.61 L1431,64.47 L1433,64.33 L1435,64.2 L1437,64.07 L1439,63.94 L1441,63.81 L1443,63.68 L1445,63.55 L1447,63.42 L1449,63.3 L1451,63.17 L1453,63.05 L1455,62.93 L1457,62.81 L1459,62.69 L1461,62.57 L1463,62.46 L1465,62.34 L1467,62.23 L1469,62.11 L1471,62 L1473,61.89 L1475,61.78 L1477,61.67 L1479,61.57 L1481,61.46 L1483,61.36 L1485,61.25 L1487,61.15 L1489,61.05 L1490,61" stroke="#ababab" stroke-dasharray="4.2 4.56" stroke-linecap="butt" stroke-linejoin="round"/>
<path d="M104.3,89.49 L106.3,89.62 L108.3,89.74 L110.3,89.86 L112.3,89.98 L114.3,90.1 L116.3,90.21 L118.3,90.32 L120.3,90.44 L122.3,90.54 L124.3,90.65 L126.3,90.75 L128.3,90.85 L130.3,90.95 L132.3,91.05 L134.3,91.15 L136.3,91.24 L138.3,91.33 L140.3,91.42 L142.3,91.51 L144.3,91.59 L146.3,91.68 L148.3,91.76 L150.3,91.84 L152.3,91.92 L154.3,92 L156.3,92.08 L158.3,92.15 L160.3,92.22 L162.3,92.3 L164.3,92.37 L166.3,92.44 L168.3,92.5 L170.3,92.57 L172.3,92.63 L174.3,92.7 L176.3,92.76 L178.3,92.82 L180.3,92.88 L182.3,92.94 L184.3,93 L186.3,93.06 L188.3,93.12 L190.3,93.17 L192.3,93.23 L194.3,93.28 L196.3,93.33 L198.3,93.39 L200.3,93.44 L202.3,93.49 L204.3,93.54 L206.3,93.59 L208.3,93.64 L210.3,93.69 L212.3,93.74 L214.3,93.78 L216.3,93.83 L218.3,93.88 L220.3,93.92 L222.3,93.97 L224.3,94.02 L226.3,94.06 L228.3,94.11 L230.3,94.16 L232.3,94.2 L234.3,94.25 L236.3,94.29 L238.3,94.34 L240.3,94.38 L242.3,94.43 L244.3,94.48 L246.3,94.52 L248.3,94.57 L250.3,94.62 L252.3,94.66 L254.3,94.71 L256.3,94.76 L258.3,94.81 L260.3,94.85 L262.3,94.9 L264.3,94.95 L266.3,95 L268.3,95.05 L270.3,95.11 L272.3,95.16 L274.3,95.21 L276.3,95.26 L278.3,95.32 L280.3,95.37 L282.3,95.43 L284.3,95.49 L286.3,95.54 L288.3,95.6 L290.3,95.66 L292.3,95.72 L294.3,95.79 L296.3,95.85 L298.3,95.91 L300.3,95.98 L302.3,96.05 L304.3,96.12 L306.3,96.18 L308.3,96.26 L310.3,96.33 L312.3,96.4 L314.3,96.48 L316.3,96.55 L318.3,96.63 L320.3,96.71 L322.3,96.79 L324.3,96.88 L326.3,96.96 L328.3,97.05 L330.3,97.14 L332.3,97.23 L334.3,97.32 L336.3,97.42 L338.3,97.51 L340.3,97.61 L342.3,97.71 L344.3,97.81 L346.3,97.92 L348.3,98.02 L350.3,98.13 L352.3,98.24 L354.3,98.36 L356.3,98.47 L358.3,98.59 L360.3,98.71 L362.3,98.83 L364.3,98.96 L366.3,99.09 L368.3,99.22 L370.3,99.35 L372.3,99.49 L374.3,99.62 L376.3,99.77 L378.3,99.91 L380.3,100.05 L382.3,100.2 L384.3,100.36 L386.3,100.51 L388.3,100.67 L390.3,100.83 L392.3,100.99 L394.3,101.16 L396.3,101.33 L398.3,101.5 L400.3,101.68 L402.3,101.86 L404.3,102.04 L406.3,102.23 L408.3,102.42 L410.3,102.61 L412.3,102.8 L414.3,103 L416.3,103.21 L418.3,103.41 L420.3,103.62 L422.3,103.83 L424.3,104.05 L426.3,104.27 L428.3,104.5 L430.3,104.72 L432.3,104.96 L434.3,105.19 L436.3,105.43 L438.3,105.67 L440.3,105.92 L442.3,106.17 L444.3,106.43 L446.3,106.69 L448.3,106.95 L450.3,107.22 L452.3,107.49 L454.3,107.77 L456.3,108.05 L458.3,108.33 L460.3,108.62 L462.3,108.91 L464.3,109.21 L466.3,109.51 L468.3,109.82 L470.3,110.13 L472.3,110.44 L474.3,110.76 L476.3,111.09 L478.3,111.42 L480.3,111.75 L482.3,112.09 L484.3,112.43 L486.3,112.78 L488.3,113.13 L490.3,113.49 L492.3,113.86 L494.3,114.22 L496.3,114.6 L498.3,114.97 L500.3,115.36 L502.3,115.74 L504.3,116.14 L506.3,116.54 L508.3,116.94 L510.3,117.35 L512.3,117.76 L514.3,118.18 L516.3,118.61 L518.3,119.04 L520.3,119.47 L522.3,119.92 L524.3,120.36 L526.3,120.81 L528.3,121.27 L530.3,121.74 L532.3,122.21 L534.3,122.68 L536.3,123.16 L538.3,123.65 L540.3,124.14 L542.3,124.64 L544.3,125.15 L546.3,125.66 L548.3,126.17 L550.3,126.69 L552.3,127.22 L554.3,127.76 L556.3,128.3 L558.3,128.85 L560.3,129.4 L562.3,129.96 L564.3,130.53 L566.3,131.1 L568.3,131.68 L570.3,132.26 L572.3,132.85 L574.3,133.45 L576.3,134.06 L578.3,134.67 L580.3,135.28 L582.3,135.91 L584.3,136.54 L586.3,137.18 L588.3,137.82 L590.3,138.47 L592.3,139.13 L594.3,139.8 L596.3,140.47 L598.3,141.15 L600.3,141.84 L602.3,142.53 L604.3,143.23 L606.3,143.94 L608.3,144.65 L610.3,145.37 L612.3,146.1 L614.3,146.84 L616.3,147.58 L618.3,148.33 L620.3,149.09 L622.3,149.86 L624.3,150.63 L626.3,151.41 L628.3,152.2 L630.3,153 L632.3,153.8 L634.3,154.61 L636.3,155.43 L638.3,156.26 L640.3,157.09 L642.3,157.94 L644.3,158.79 L646.3,159.64 L648.3,160.51 L650.3,161.38 L652.3,162.27 L654.3,163.16 L656.3,164.05 L658.3,164.96 L660.3,165.88 L662.3,166.8 L664.3,167.73 L666.3,168.68 L668.3,169.64 L670.3,170.62 L672.3,171.62 L674.3,172.63 L676.3,173.67 L678.3,174.72 L680.3,175.8 L682.3,176.91 L684.3,178.04 L686.3,179.2 L688.3,180.4 L690.3,181.62 L692.3,182.87 L694.3,184.17 L696.3,185.49 L698.3,186.86 L700.3,188.27 L702.3,189.73 L704.3,191.24 L706.3,192.8 L708.3,194.41 L710.3,196.09 L712.3,197.82 L714.3,199.62 L716.3,201.49 L718.3,203.42 L720.3,205.43 L722.3,207.52 L724.3,209.68 L726.3,211.91 L728.3,214.23 L730.3,216.62 L732.3,219.09 L734.3,221.63 L736.3,224.25 L738.3,226.95 L740.3,229.72 L742.3,232.58 L744.3,235.51 L746.3,238.51 L748.3,241.6 L750.3,244.76 L752.3,248 L754.3,251.32 L756.3,254.72 L758.3,258.2 L760.3,261.76 L762.3,265.4 L764.3,269.12 L766.3,272.93 L768.3,276.82 L770.3,280.8 L772.3,284.87 L774.3,289.03 L776.3,293.28 L778.3,297.62 L780.3,302.06 L782.3,306.59 L784.3,311.22 L786.3,315.95 L788.3,320.78 L790.3,325.71 L792,329.99 L794,324.38 L796,319.33 L798,314.79 L800,310.67 L802,306.91 L804,303.43 L806,300.16 L808,297.02 L810,293.98 L812,290.97 L814,287.94 L816,284.89 L818,281.82 L820,278.74 L822,275.64 L824,272.54 L826,269.42 L828,266.3 L830,263.18 L832,260.07 L834,256.95 L836,253.84 L838,250.74 L840,247.66 L842,244.59 L844,241.56 L846,238.55 L848,235.59 L850,232.68 L852,229.82 L854,227.01 L856,224.27 L858,221.61 L860,219.01 L862,216.48 L864,214.02 L866,211.62 L868,209.29 L870,207.02 L872,204.81 L874,202.66 L876,200.57 L878,198.54 L880,196.56 L882,194.64 L884,192.77 L886,190.95 L888,189.18 L890,187.46 L892,185.78 L894,184.15 L896,182.57 L898,181.03 L900,179.53 L902,178.06 L904,176.64 L906,175.25 L908,173.9 L910,172.59 L912,171.3 L914,170.05 L916,168.82 L918,167.63 L920,166.46 L922,165.32 L924,164.2 L926,163.1 L928,162.02 L930,160.96 L932,159.92 L934,158.9 L936,157.89 L938,156.9 L940,155.92 L942,154.95 L944,154 L946,153.06 L948,152.13 L950,151.21 L952,150.31 L954,149.42 L956,148.54 L958,147.67 L960,146.81 L962,145.97 L964,145.13 L966,144.31 L968,143.49 L970,142.69 L972,141.89 L974,141.11 L976,140.33 L978,139.57 L980,138.81 L982,138.06 L984,137.32 L986,136.59 L988,135.87 L990,135.15 L992,134.44 L994,133.74 L996,133.05 L998,132.37 L1000,131.69 L1002,131.02 L1004,130.35 L1006,129.69 L1008,129.04 L1010,128.39 L1012,127.75 L1014,127.11 L1016,126.48 L1018,125.86 L1020,125.24 L1022,124.63 L1024,124.02 L1026,123.42 L1028,122.83 L1030,122.24 L1032,121.65 L1034,121.08 L1036,120.5 L1038,119.94 L1040,119.38 L1042,118.82 L1044,118.27 L1046,117.73 L1048,117.19 L1050,116.65 L1052,116.12 L1054,115.6 L1056,115.08 L1058,114.57 L1060,114.06 L1062,113.56 L1064,113.07 L1066,112.57 L1068,112.09 L1070,111.61 L1072,111.13 L1074,110.66 L1076,110.19 L1078,109.73 L1080,109.28 L1082,108.82 L1084,108.38 L1086,107.94 L1088,107.5 L1090,107.07 L1092,106.64 L1094,106.22 L1096,105.8 L1098,105.39 L1100,104.98 L1102,104.58 L1104,104.18 L1106,103.78 L1108,103.39 L1110,103.01 L1112,102.63 L1114,102.25 L1116,101.88 L1118,101.51 L1120,101.15 L1122,100.79 L1124,100.43 L1126,100.08 L1128,99.74 L1130,99.4 L1132,99.06 L1134,98.72 L1136,98.4 L1138,98.07 L1140,97.75 L1142,97.43 L1144,97.12 L1146,96.81 L1148,96.5 L1150,96.2 L1152,95.9 L1154,95.61 L1156,95.32 L1158,95.04 L1160,94.75 L1162,94.47 L1164,94.2 L1166,93.93 L1168,93.66 L1170,93.4 L1172,93.14 L1174,92.88 L1176,92.63 L1178,92.38 L1180,92.13 L1182,91.89 L1184,91.65 L1186,91.41 L1188,91.18 L1190,90.95 L1192,90.72 L1194,90.5 L1196,90.28 L1198,90.07 L1200,89.85 L1202,89.64 L1204,89.43 L1206,89.23 L1208,89.03 L1210,88.83 L1212,88.64 L1214,88.45 L1216,88.26 L1218,88.07 L1220,87.89 L1222,87.71 L1224,87.53 L1226,87.35 L1228,87.18 L1230,87.01 L1232,86.85 L1234,86.68 L1236,86.52 L1238,86.36 L1240,86.21 L1242,86.05 L1244,85.9 L1246,85.75 L1248,85.61 L1250,85.46 L1252,85.32 L1254,85.18 L1256,85.05 L1258,84.91 L1260,84.78 L1262,84.65 L1264,84.52 L1266,84.4 L1268,84.27 L1270,84.15 L1272,84.03 L1274,83.92 L1276,83.8 L1278,83.69 L1280,83.58 L1282,83.47 L1284,83.36 L1286,83.26 L1288,83.15 L1290,83.05 L1292,82.95 L1294,82.85 L1296,82.76 L1298,82.66 L1300,82.57 L1302,82.48 L1304,82.39 L1306,82.3 L1308,82.22 L1310,82.13 L1312,82.05 L1314,81.96 L1316,81.88 L1318,81.81 L1320,81.73 L1322,81.65 L1324,81.58 L1326,81.5 L1328,81.43 L1330,81.36 L1332,81.29 L1334,81.22 L1336,81.15 L1338,81.08 L1340,81.02 L1342,80.95 L1344,80.89 L1346,80.83 L1348,80.77 L1350,80.71 L1352,80.65 L1354,80.59 L1356,80.53 L1358,80.47 L1360,80.42 L1362,80.36 L1364,80.3 L1366,80.25 L1368,80.2 L1370,80.14 L1372,80.09 L1374,80.04 L1376,79.99 L1378,79.94 L1380,79.89 L1382,79.84 L1384,79.79 L1386,79.74 L1388,79.69 L1390,79.64 L1392,79.59 L1394,79.55 L1396,79.5 L1398,79.45 L1400,79.4 L1402,79.36 L1404,79.31 L1406,79.26 L1408,79.22 L1410,79.17 L1412,79.12 L1414,79.08 L1416,79.03 L1418,78.98 L1420,78.94 L1422,78.89 L1424,78.84 L1426,78.79 L1428,78.75 L1430,78.7 L1432,78.65 L1434,78.6 L1436,78.55 L1438,78.5 L1440,78.45 L1442,78.4 L1444,78.35 L1446,78.3 L1448,78.25 L1450,78.2 L1452,78.14 L1454,78.09 L1456,78.04 L1458,77.98 L1460,77.93 L1462,77.87 L1464,77.81 L1466,77.75 L1468,77.7 L1470,77.64 L1472,77.58 L1474,77.51 L1476,77.45 L1478,77.39 L1480,77.32 L1482,77.26 L1484,77.19 L1486,77.13 L1488,77.06 L1490,76.99" stroke="#ababab" stroke-linecap="butt" stroke-linejoin="round"/>
<path d="M104.3,84.88 L106.3,84.95 L108.3,85.02 L110.3,85.08 L112.3,85.15 L114.3,85.21 L116.3,85.27 L118.3,85.33 L120.3,85.38 L122.3,85.44 L124.3,85.49 L126.3,85.55 L128.3,85.6 L130.3,85.65 L132.3,85.69 L134.3,85.74 L136.3,85.78 L138.3,85.83 L140.3,85.87 L142.3,85.91 L144.3,85.94 L146.3,85.98 L148.3,86.01 L150.3,86.05 L152.3,86.08 L154.3,86.11 L156.3,86.14 L158.3,86.16 L160.3,86.19 L162.3,86.21 L164.3,86.24 L166.3,86.26 L168.3,86.28 L170.3,86.29 L172.3,86.31 L174.3,86.32 L176.3,86.34 L178.3,86.35 L180.3,86.36 L182.3,86.36 L184.3,86.37 L186.3,86.38 L188.3,86.38 L190.3,86.38 L192.3,86.38 L194.3,86.38 L196.3,86.38 L198.3,86.37 L200.3,86.37 L202.3,86.36 L204.3,86.35 L206.3,86.34 L208.3,86.33 L210.3,86.32 L212.3,86.3 L214.3,86.29 L216.3,86.27 L218.3,86.25 L220.3,86.23 L222.3,86.2 L224.3,86.18 L226.3,86.16 L228.3,86.13 L230.3,86.1 L232.3,86.07 L234.3,86.04 L236.3,86.01 L238.3,85.97 L240.3,85.93 L242.3,85.9 L244.3,85.86 L246.3,85.82 L248.3,85.78 L250.3,85.73 L252.3,85.69 L254.3,85.64 L256.3,85.59 L258.3,85.54 L260.3,85.49 L262.3,85.44 L264.3,85.39 L266.3,85.33 L268.3,85.28 L270.3,85.22 L272.3,85.16 L274.3,85.1 L276.3,85.03 L278.3,84.97 L280.3,84.9 L282.3,84.84 L284.3,84.77 L286.3,84.7 L288.3,84.63 L290.3,84.56 L292.3,84.48 L294.3,84.41 L296.3,84.33 L298.3,84.25 L300.3,84.17 L302.3,84.09 L304.3,84.01 L306.3,83.92 L308.3,83.84 L310.3,83.75 L312.3,83.66 L314.3,83.57 L316.3,83.48 L318.3,83.39 L320.3,83.29 L322.3,83.2 L324.3,83.1 L326.3,83 L328.3,82.9 L330.3,82.8 L332.3,82.7 L334.3,82.59 L336.3,82.49 L338.3,82.38 L340.3,82.27 L342.3,82.16 L344.3,82.05 L346.3,81.94 L348.3,81.82 L350.3,81.71 L352.3,81.59 L354.3,81.47 L356.3,81.35 L358.3,81.23 L360.3,81.11 L362.3,80.99 L364.3,80.86 L366.3,80.74 L368.3,80.61 L370.3,80.48 L372.3,80.35 L374.3,80.22 L376.3,80.08 L378.3,79.95 L380.3,79.81 L382.3,79.68 L384.3,79.54 L386.3,79.4 L388.3,79.26 L390.3,79.11 L392.3,78.97 L394.3,78.82 L396.3,78.68 L398.3,78.53 L400.3,78.38 L402.3,78.23 L404.3,78.08 L406.3,77.92 L408.3,77.77 L410.3,77.61 L412.3,77.45 L414.3,77.29 L416.3,77.13 L418.3,76.97 L420.3,76.81 L422.3,76.65 L424.3,76.48 L426.3,76.31 L428.3,76.14 L430.3,75.98 L432.3,75.8 L434.3,75.63 L436.3,75.46 L438.3,75.28 L440.3,75.11 L442.3,74.93 L444.3,74.75 L446.3,74.57 L448.3,74.39 L450.3,74.21 L452.3,74.03 L454.3,73.84 L456.3,73.66 L458.3,73.47 L460.3,73.29 L462.3,73.1 L464.3,72.91 L466.3,72.72 L468.3,72.53 L470.3,72.34 L472.3,72.14 L474.3,71.95 L476.3,71.75 L478.3,71.56 L480.3,71.36 L482.3,71.17 L484.3,70.97 L486.3,70.77 L488.3,70.57 L490.3,70.37 L492.3,70.17 L494.3,69.97 L496.3,69.77 L498.3,69.56 L500.3,69.36 L502.3,69.15 L504.3,68.95 L506.3,68.74 L508.3,68.54 L510.3,68.33 L512.3,68.13 L514.3,67.92 L516.3,67.71 L518.3,67.5 L520.3,67.29 L522.3,67.09 L524.3,66.88 L526.3,66.67 L528.3,66.46 L530.3,66.25 L532.3,66.04 L534.3,65.82 L536.3,65.61 L538.3,65.4 L540.3,65.19 L542.3,64.98 L544.3,64.77 L546.3,64.55 L548.3,64.34 L550.3,64.13 L552.3,63.92 L554.3,63.7 L556.3,63.49 L558.3,63.28 L560.3,63.07 L562.3,62.85 L564.3,62.64 L566.3,62.43 L568.3,62.22 L570.3,62 L572.3,61.79 L574.3,61.58 L576.3,61.37 L578.3,61.15 L580.3,60.94 L582.3,60.73 L584.3,60.52 L586.3,60.31 L588.3,60.1 L590.3,59.89 L592.3,59.68 L594.3,59.47 L596.3,59.26 L598.3,59.05 L600.3,58.84 L602.3,58.63 L604.3,58.42 L606.3,58.22 L608.3,58.01 L610.3,57.8 L612.3,57.6 L614.3,57.39 L616.3,57.19 L618.3,56.98 L620.3,56.78 L622.3,56.57 L624.3,56.37 L626.3,56.17 L628.3,55.97 L630.3,55.77 L632.3,55.57 L634.3,55.37 L636.3,55.17 L638.3,54.97 L640.3,54.78 L642.3,54.58 L644.3,54.39 L646.3,54.19 L648.3,54 L650.3,53.81 L652.3,53.62 L654.3,53.42 L656.3,53.24 L658.3,53.05 L660.3,52.86 L662.3,52.67 L664.3,52.49 L666.3,52.3 L668.3,52.12 L670.3,51.94 L672.3,51.76 L674.3,51.58 L676.3,51.4 L678.3,51.22 L680.3,51.04 L682.3,50.87 L684.3,50.69 L686.3,50.52 L688.3,50.35 L690.3,50.18 L692.3,50.01 L694.3,49.84 L696.3,49.68 L698.3,49.51 L700.3,49.35 L702.3,49.19 L704.3,49.03 L706.3,48.87 L708.3,48.71 L710.3,48.55 L712.3,48.4 L714.3,48.25 L716.3,48.09 L718.3,47.94 L720.3,47.8 L722.3,47.65 L724.3,47.5 L726.3,47.36 L728.3,47.22 L730.3,47.08 L732.3,46.94 L734.3,46.8 L736.3,46.66 L738.3,46.53 L740.3,46.39 L742.3,46.26 L744.3,46.13 L746.3,46 L748.3,45.87 L750.3,45.75 L752.3,45.62 L754.3,45.5 L756.3,45.38 L758.3,45.26 L760.3,45.14 L762.3,45.02 L764.3,44.9 L766.3,44.79 L768.3,44.67 L770.3,44.56 L772.3,44.45 L774.3,44.34 L776.3,44.23 L778.3,44.13 L780.3,44.02 L782.3,43.92 L784.3,43.82 L786.3,43.71 L788.3,43.61 L790.3,43.52 L792.3,43.42 L794.3,43.32 L796.3,43.23 L798.3,43.14 L800.3,43.04 L802.3,42.95 L804.3,42.86 L806.3,42.78 L808.3,42.69 L810.3,42.6 L812.3,42.52 L814.3,42.44 L816.3,42.36 L818.3,42.28 L820.3,42.2 L822.3,42.12 L824.3,42.04 L826.3,41.97 L828.3,41.89 L830.3,41.82 L832.3,41.75 L834.3,41.68 L836.3,41.61 L838.3,41.55 L840.3,41.48 L842.3,41.41 L844.3,41.35 L846.3,41.29 L848.3,41.23 L850.3,41.17 L852.3,41.11 L854.3,41.05 L856.3,40.99 L858.3,40.94 L860.3,40.88 L862.3,40.83 L864.3,40.78 L866.3,40.73 L868.3,40.68 L870.3,40.63 L872.3,40.59 L874.3,40.54 L876.3,40.5 L878.3,40.45 L880.3,40.41 L882.3,40.37 L884.3,40.33 L886.3,40.29 L888.3,40.25 L890.3,40.22 L892.3,40.18 L894.3,40.15 L896.3,40.11 L898.3,40.08 L900.3,40.05 L902.3,40.02 L904.3,39.99 L906.3,39.96 L908.3,39.94 L910.3,39.91 L912.3,39.89 L914.3,39.86 L916.3,39.84 L918.3,39.82 L920.3,39.8 L922.3,39.78 L924.3,39.76 L926.3,39.74 L928.3,39.73 L930.3,39.71 L932.3,39.7 L934.3,39.69 L936.3,39.68 L938.3,39.66 L940.3,39.65 L942.3,39.65 L944.3,39.64 L946.3,39.63 L948.3,39.63 L950.3,39.62 L952.3,39.62 L954.3,39.61 L956.3,39.61 L958.3,39.61 L960.3,39.61 L962.3,39.61 L964.3,39.62 L966.3,39.62 L968.3,39.62 L970.3,39.63 L972.3,39.63 L974.3,39.64 L976.3,39.65 L978.3,39.66 L980.3,39.67 L982.3,39.68 L984.3,39.69 L986.3,39.7 L988.3,39.71 L990.3,39.73 L992.3,39.74 L994.3,39.76 L996.3,39.78 L998.3,39.79 L1000.3,39.81 L1002.3,39.83 L1004.3,39.85 L1006.3,39.87 L1008.3,39.9 L1010.3,39.92 L1012.3,39.94 L1014.3,39.97 L1016.3,39.99 L1018.3,40.02 L1020.3,40.05 L1022.3,40.08 L1024.3,40.1 L1026.3,40.13 L1028.3,40.17 L1030.3,40.2 L1032.3,40.23 L1034.3,40.26 L1036.3,40.3 L1038.3,40.33 L1040.3,40.37 L1042.3,40.4 L1044.3,40.44 L1046.3,40.48 L1048.3,40.52 L1050.3,40.56 L1052.3,40.6 L1054.3,40.64 L1056.3,40.68 L1058.3,40.72 L1060.3,40.76 L1062.3,40.81 L1064.3,40.85 L1066.3,40.9 L1068.3,40.94 L1070.3,40.99 L1072.3,41.04 L1074.3,41.09 L1076.3,41.14 L1078.3,41.19 L1080.3,41.24 L1082.3,41.29 L1084.3,41.34 L1086.3,41.39 L1088.3,41.45 L1090.3,41.5 L1092.3,41.55 L1094.3,41.61 L1096.3,41.67 L1098.3,41.72 L1100.3,41.78 L1102.3,41.84 L1104.3,41.9 L1106.3,41.96 L1108.3,42.02 L1110.3,42.08 L1112.3,42.14 L1114.3,42.2 L1116.3,42.26 L1118.3,42.33 L1120.3,42.39 L1122.3,42.45 L1124.3,42.52 L1126.3,42.58 L1128.3,42.65 L1130.3,42.72 L1132.3,42.78 L1134.3,42.85 L1136.3,42.92 L1138.3,42.99 L1140.3,43.06 L1142.3,43.13 L1144.3,43.2 L1146.3,43.27 L1148.3,43.34 L1150.3,43.42 L1152.3,43.49 L1154.3,43.56 L1156.3,43.64 L1158.3,43.71 L1160.3,43.79 L1162.3,43.86 L1164.3,43.94 L1166.3,44.02 L1168.3,44.09 L1170.3,44.17 L1172.3,44.25 L1174.3,44.33 L1176.3,44.41 L1178.3,44.49 L1180.3,44.57 L1182.3,44.65 L1184.3,44.73 L1186.3,44.81 L1188.3,44.89 L1190.3,44.98 L1192.3,45.06 L1194.3,45.14 L1196.3,45.23 L1198.3,45.31 L1200.3,45.4 L1202.3,45.48 L1204.3,45.57 L1206.3,45.65 L1208.3,45.74 L1210.3,45.83 L1212.3,45.92 L1214.3,46 L1216.3,46.09 L1218.3,46.18 L1220.3,46.27 L1222.3,46.36 L1224.3,46.45 L1226.3,46.54 L1228.3,46.63 L1230.3,46.72 L1232.3,46.81 L1234.3,46.9 L1236.3,47 L1238.3,47.09 L1240.3,47.18 L1242.3,47.27 L1244.3,47.37 L1246.3,47.46 L1248.3,47.56 L1250.3,47.65 L1252.3,47.75 L1254.3,47.84 L1256.3,47.94 L1258.3,48.03 L1260.3,48.13 L1262.3,48.23 L1264.3,48.32 L1266.3,48.42 L1268.3,48.52 L1270.3,48.61 L1272.3,48.71 L1274.3,48.81 L1276.3,48.91 L1278.3,49.01 L1280.3,49.11 L1282.3,49.21 L1284.3,49.3 L1286.3,49.4 L1288.3,49.5 L1290.3,49.6 L1292.3,49.71 L1294.3,49.81 L1296.3,49.91 L1298.3,50.01 L1300.3,50.11 L1302.3,50.21 L1304.3,50.31 L1306.3,50.42 L1308.3,50.52 L1310.3,50.62 L1312.3,50.72 L1314.3,50.83 L1316.3,50.93 L1318.3,51.03 L1320.3,51.14 L1322.3,51.24 L1324.3,51.34 L1326.3,51.45 L1328.3,51.55 L1330.3,51.65 L1332.3,51.76 L1334.3,51.86 L1336.3,51.97 L1338.3,52.07 L1340.3,52.18 L1342.3,52.28 L1344.3,52.39 L1346.3,52.49 L1348.3,52.6 L1350.3,52.7 L1352.3,52.81 L1354.3,52.92 L1356.3,53.02 L1358.3,53.13 L1360.3,53.23 L1362.3,53.34 L1364.3,53.45 L1366.3,53.55 L1368.3,53.66 L1370.3,53.76 L1372.3,53.87 L1374.3,53.98 L1376.3,54.08 L1378.3,54.19 L1380.3,54.3 L1382.3,54.4 L1384.3,54.51 L1386.3,54.62 L1388.3,54.72 L1390.3,54.83 L1392.3,54.94 L1394.3,55.04 L1396.3,55.15 L1398.3,55.26 L1400.3,55.36 L1402.3,55.47 L1404.3,55.58 L1406.3,55.69 L1408.3,55.79 L1410.3,55.9 L1412.3,56.01 L1414.3,56.11 L1416.3,56.22 L1418.3,56.33 L1420.3,56.43 L1422.3,56.54 L1424.3,56.64 L1426.3,56.75 L1428.3,56.86 L1430.3,56.96 L1432.3,57.07 L1434.3,57.18 L1436.3,57.28 L1438.3,57.39 L1440.3,57.49 L1442.3,57.6 L1444.3,57.71 L1446.3,57.81 L1448.3,57.92 L1450.3,58.02 L1452.3,58.13 L1454.3,58.23 L1456.3,58.34 L1458.3,58.44 L1460.3,58.55 L1462.3,58.65 L1464.3,58.76 L1466.3,58.86 L1468.3,58.96 L1470.3,59.07 L1472.3,59.17 L1474.3,59.28 L1476.3,59.38 L1478.3,59.48 L1480.3,59.59 L1482.3,59.69 L1484.3,59.79 L1486.3,59.89 L1488.3,60 L1490,60.08" stroke="#000" stroke-dasharray="17.5 17.5" stroke-linecap="butt" stroke-linejoin="round"/>
<path d="M104.3,56.12 L106.3,56.02 L108.3,55.92 L110.3,55.83 L112.3,55.73 L114.3,55.64 L116.3,55.54 L118.3,55.44 L120.3,55.35 L122.3,55.25 L124.3,55.15 L126.3,55.06 L128.3,54.96 L130.3,54.87 L132.3,54.77 L134.3,54.68 L136.3,54.58 L138.3,54.48 L140.3,54.39 L142.3,54.29 L144.3,54.2 L146.3,54.1 L148.3,54 L150.3,53.91 L152.3,53.81 L154.3,53.72 L156.3,53.62 L158.3,53.53 L160.3,53.43 L162.3,53.34 L164.3,53.24 L166.3,53.15 L168.3,53.05 L170.3,52.96 L172.3,52.86 L174.3,52.77 L176.3,52.67 L178.3,52.58 L180.3,52.48 L182.3,52.39 L184.3,52.3 L186.3,52.2 L188.3,52.11 L190.3,52.01 L192.3,51.92 L194.3,51.83 L196.3,51.73 L198.3,51.64 L200.3,51.55 L202.3,51.45 L204.3,51.36 L206.3,51.27 L208.3,51.18 L210.3,51.08 L212.3,50.99 L214.3,50.9 L216.3,50.81 L218.3,50.71 L220.3,50.62 L222.3,50.53 L224.3,50.44 L226.3,50.35 L228.3,50.26 L230.3,50.17 L232.3,50.08 L234.3,49.99 L236.3,49.9 L238.3,49.81 L240.3,49.72 L242.3,49.63 L244.3,49.54 L246.3,49.45 L248.3,49.36 L250.3,49.27 L252.3,49.18 L254.3,49.09 L256.3,49.01 L258.3,48.92 L260.3,48.83 L262.3,48.74 L264.3,48.66 L266.3,48.57 L268.3,48.48 L270.3,48.4 L272.3,48.31 L274.3,48.22 L276.3,48.14 L278.3,48.05 L280.3,47.97 L282.3,47.88 L284.3,47.8 L286.3,47.71 L288.3,47.63 L290.3,47.55 L292.3,47.46 L294.3,47.38 L296.3,47.3 L298.3,47.21 L300.3,47.13 L302.3,47.05 L304.3,46.97 L306.3,46.89 L308.3,46.8 L310.3,46.72 L312.3,46.64 L314.3,46.56 L316.3,46.48 L318.3,46.4 L320.3,46.32 L322.3,46.25 L324.3,46.17 L326.3,46.09 L328.3,46.01 L330.3,45.93 L332.3,45.86 L334.3,45.78 L336.3,45.7 L338.3,45.63 L340.3,45.55 L342.3,45.48 L344.3,45.4 L346.3,45.33 L348.3,45.25 L350.3,45.18 L352.3,45.1 L354.3,45.03 L356.3,44.96 L358.3,44.89 L360.3,44.81 L362.3,44.74 L364.3,44.67 L366.3,44.6 L368.3,44.53 L370.3,44.46 L372.3,44.39 L374.3,44.32 L376.3,44.25 L378.3,44.18 L380.3,44.12 L382.3,44.05 L384.3,43.98 L386.3,43.91 L388.3,43.85 L390.3,43.78 L392.3,43.72 L394.3,43.65 L396.3,43.59 L398.3,43.52 L400.3,43.46 L402.3,43.4 L404.3,43.34 L406.3,43.27 L408.3,43.21 L410.3,43.15 L412.3,43.09 L414.3,43.03 L416.3,42.97 L418.3,42.91 L420.3,42.85 L422.3,42.79 L424.3,42.74 L426.3,42.68 L428.3,42.62 L430.3,42.57 L432.3,42.51 L434.3,42.45 L436.3,42.4 L438.3,42.35 L440.3,42.29 L442.3,42.24 L444.3,42.19 L446.3,42.13 L448.3,42.08 L450.3,42.03 L452.3,41.98 L454.3,41.93 L456.3,41.88 L458.3,41.83 L460.3,41.78 L462.3,41.74 L464.3,41.69 L466.3,41.64 L468.3,41.6 L470.3,41.55 L472.3,41.51 L474.3,41.46 L476.3,41.42 L478.3,41.38 L480.3,41.33 L482.3,41.29 L484.3,41.25 L486.3,41.21 L488.3,41.17 L490.3,41.13 L492.3,41.09 L494.3,41.05 L496.3,41.01 L498.3,40.98 L500.3,40.94 L502.3,40.9 L504.3,40.87 L506.3,40.83 L508.3,40.8 L510.3,40.77 L512.3,40.73 L514.3,40.7 L516.3,40.67 L518.3,40.64 L520.3,40.61 L522.3,40.58 L524.3,40.55 L526.3,40.52 L528.3,40.49 L530.3,40.47 L532.3,40.44 L534.3,40.41 L536.3,40.39 L538.3,40.36 L540.3,40.34 L542.3,40.32 L544.3,40.3 L546.3,40.27 L548.3,40.25 L550.3,40.23 L552.3,40.21 L554.3,40.2 L556.3,40.18 L558.3,40.16 L560.3,40.14 L562.3,40.13 L564.3,40.11 L566.3,40.1 L568.3,40.08 L570.3,40.07 L572.3,40.06 L574.3,40.05 L576.3,40.04 L578.3,40.03 L580.3,40.02 L582.3,40.01 L584.3,40 L586.3,39.99 L588.3,39.99 L590.3,39.98 L592.3,39.98 L594.3,39.97 L596.3,39.97 L598.3,39.97 L600.3,39.97 L602.3,39.96 L604.3,39.96 L606.3,39.97 L608.3,39.97 L610.3,39.97 L612.3,39.97 L614.3,39.98 L616.3,39.98 L618.3,39.99 L620.3,39.99 L622.3,40 L624.3,40.01 L626.3,40.02 L628.3,40.03 L630.3,40.04 L632.3,40.05 L634.3,40.06 L636.3,40.07 L638.3,40.09 L640.3,40.1 L642.3,40.12 L644.3,40.13 L646.3,40.15 L648.3,40.17 L650.3,40.19 L652.3,40.2 L654.3,40.23 L656.3,40.25 L658.3,40.27 L660.3,40.29 L662.3,40.32 L664.3,40.34 L666.3,40.37 L668.3,40.39 L670.3,40.42 L672.3,40.45 L674.3,40.48 L676.3,40.51 L678.3,40.54 L680.3,40.57 L682.3,40.6 L684.3,40.64 L686.3,40.67 L688.3,40.71 L690.3,40.75 L692.3,40.78 L694.3,40.82 L696.3,40.86 L698.3,40.9 L700.3,40.94 L702.3,40.98 L704.3,41.03 L706.3,41.07 L708.3,41.12 L710.3,41.16 L712.3,41.21 L714.3,41.26 L716.3,41.31 L718.3,41.36 L720.3,41.41 L722.3,41.46 L724.3,41.51 L726.3,41.56 L728.3,41.62 L730.3,41.68 L732.3,41.73 L734.3,41.79 L736.3,41.85 L738.3,41.91 L740.3,41.97 L742.3,42.03 L744.3,42.09 L746.3,42.16 L748.3,42.22 L750.3,42.29 L752.3,42.35 L754.3,42.42 L756.3,42.49 L758.3,42.56 L760.3,42.63 L762.3,42.7 L764.3,42.78 L766.3,42.85 L768.3,42.92 L770.3,43 L772.3,43.08 L774.3,43.16 L776.3,43.24 L778.3,43.32 L780.3,43.4 L782.3,43.48 L784.3,43.56 L786.3,43.65 L788.3,43.73 L790.3,43.82 L792.3,43.91 L794.3,44 L796.3,44.09 L798.3,44.18 L800.3,44.27 L802.3,44.36 L804.3,44.46 L806.3,44.55 L808.3,44.65 L810.3,44.75 L812.3,44.85 L814.3,44.94 L816.3,45.05 L818.3,45.15 L820.3,45.25 L822.3,45.35 L824.3,45.46 L826.3,45.56 L828.3,45.67 L830.3,45.78 L832.3,45.89 L834.3,46 L836.3,46.11 L838.3,46.22 L840.3,46.33 L842.3,46.45 L844.3,46.56 L846.3,46.68 L848.3,46.79 L850.3,46.91 L852.3,47.03 L854.3,47.15 L856.3,47.27 L858.3,47.39 L860.3,47.51 L862.3,47.64 L864.3,47.76 L866.3,47.88 L868.3,48.01 L870.3,48.14 L872.3,48.26 L874.3,48.39 L876.3,48.52 L878.3,48.65 L880.3,48.78 L882.3,48.92 L884.3,49.05 L886.3,49.18 L888.3,49.32 L890.3,49.45 L892.3,49.59 L894.3,49.72 L896.3,49.86 L898.3,50 L900.3,50.14 L902.3,50.28 L904.3,50.42 L906.3,50.56 L908.3,50.7 L910.3,50.85 L912.3,50.99 L914.3,51.13 L916.3,51.28 L918.3,51.43 L920.3,51.57 L922.3,51.72 L924.3,51.87 L926.3,52.02 L928.3,52.17 L930.3,52.32 L932.3,52.47 L934.3,52.62 L936.3,52.77 L938.3,52.93 L940.3,53.08 L942.3,53.23 L944.3,53.39 L946.3,53.54 L948.3,53.7 L950.3,53.86 L952.3,54.02 L954.3,54.17 L956.3,54.33 L958.3,54.49 L960.3,54.65 L962.3,54.81 L964.3,54.97 L966.3,55.14 L968.3,55.3 L970.3,55.46 L972.3,55.63 L974.3,55.79 L976.3,55.95 L978.3,56.12 L980.3,56.29 L982.3,56.45 L984.3,56.62 L986.3,56.79 L988.3,56.96 L990.3,57.12 L992.3,57.29 L994.3,57.46 L996.3,57.63 L998.3,57.8 L1000.3,57.98 L1002.3,58.15 L1004.3,58.32 L1006.3,58.49 L1008.3,58.66 L1010.3,58.84 L1012.3,59.01 L1014.3,59.19 L1016.3,59.36 L1018.3,59.54 L1020.3,59.71 L1022.3,59.89 L1024.3,60.07 L1026.3,60.24 L1028.3,60.42 L1030.3,60.6 L1032.3,60.78 L1034.3,60.95 L1036.3,61.13 L1038.3,61.31 L1040.3,61.49 L1042.3,61.67 L1044.3,61.85 L1046.3,62.03 L1048.3,62.22 L1050.3,62.4 L1052.3,62.58 L1054.3,62.76 L1056.3,62.94 L1058.3,63.13 L1060.3,63.31 L1062.3,63.49 L1064.3,63.68 L1066.3,63.86 L1068.3,64.05 L1070.3,64.23 L1072.3,64.42 L1074.3,64.6 L1076.3,64.79 L1078.3,64.97 L1080.3,65.16 L1082.3,65.35 L1084.3,65.53 L1086.3,65.72 L1088.3,65.91 L1090.3,66.09 L1092.3,66.28 L1094.3,66.47 L1096.3,66.66 L1098.3,66.84 L1100.3,67.03 L1102.3,67.22 L1104.3,67.41 L1106.3,67.6 L1108.3,67.79 L1110.3,67.98 L1112.3,68.17 L1114.3,68.36 L1116.3,68.54 L1118.3,68.73 L1120.3,68.92 L1122.3,69.11 L1124.3,69.3 L1126.3,69.49 L1128.3,69.69 L1130.3,69.88 L1132.3,70.07 L1134.3,70.26 L1136.3,70.45 L1138.3,70.64 L1140.3,70.83 L1142.3,71.02 L1144.3,71.21 L1146.3,71.4 L1148.3,71.59 L1150.3,71.79 L1152.3,71.98 L1154.3,72.17 L1156.3,72.36 L1158.3,72.55 L1160.3,72.74 L1162.3,72.93 L1164.3,73.12 L1166.3,73.32 L1168.3,73.51 L1170.3,73.7 L1172.3,73.89 L1174.3,74.08 L1176.3,74.27 L1178.3,74.46 L1180.3,74.66 L1182.3,74.85 L1184.3,75.04 L1186.3,75.23 L1188.3,75.42 L1190.3,75.61 L1192.3,75.8 L1194.3,75.99 L1196.3,76.18 L1198.3,76.37 L1200.3,76.56 L1202.3,76.75 L1204.3,76.94 L1206.3,77.13 L1208.3,77.32 L1210.3,77.51 L1212.3,77.7 L1214.3,77.89 L1216.3,78.08 L1218.3,78.27 L1220.3,78.46 L1222.3,78.65 L1224.3,78.84 L1226.3,79.03 L1228.3,79.22 L1230.3,79.4 L1232.3,79.59 L1234.3,79.78 L1236.3,79.97 L1238.3,80.15 L1240.3,80.34 L1242.3,80.53 L1244.3,80.71 L1246.3,80.9 L1248.3,81.09 L1250.3,81.27 L1252.3,81.46 L1254.3,81.64 L1256.3,81.83 L1258.3,82.01 L1260.3,82.2 L1262.3,82.38 L1264.3,82.57 L1266.3,82.75 L1268.3,82.93 L1270.3,83.12 L1272.3,83.3 L1274.3,83.48 L1276.3,83.66 L1278.3,83.85 L1280.3,84.03 L1282.3,84.21 L1284.3,84.39 L1286.3,84.57 L1288.3,84.75 L1290.3,84.93 L1292.3,85.11 L1294.3,85.29 L1296.3,85.47 L1298.3,85.64 L1300.3,85.82 L1302.3,86 L1304.3,86.18 L1306.3,86.35 L1308.3,86.53 L1310.3,86.7 L1312.3,86.88 L1314.3,87.05 L1316.3,87.23 L1318.3,87.4 L1320.3,87.57 L1322.3,87.75 L1324.3,87.92 L1326.3,88.09 L1328.3,88.26 L1330.3,88.43 L1332.3,88.6 L1334.3,88.77 L1336.3,88.94 L1338.3,89.11 L1340.3,89.28 L1342.3,89.45 L1344.3,89.62 L1346.3,89.78 L1348.3,89.95 L1350.3,90.11 L1352.3,90.28 L1354.3,90.44 L1356.3,90.61 L1358.3,90.77 L1360.3,90.93 L1362.3,91.1 L1364.3,91.26 L1366.3,91.42 L1368.3,91.58 L1370.3,91.74 L1372.3,91.9 L1374.3,92.06 L1376.3,92.22 L1378.3,92.37 L1380.3,92.53 L1382.3,92.69 L1384.3,92.84 L1386.3,93 L1388.3,93.15 L1390.3,93.3 L1392.3,93.46 L1394.3,93.61 L1396.3,93.76 L1398.3,93.91 L1400.3,94.06 L1402.3,94.21 L1404.3,94.36 L1406.3,94.51 L1408.3,94.65 L1410.3,94.8 L1412.3,94.94 L1414.3,95.09 L1416.3,95.23 L1418.3,95.38 L1420.3,95.52 L1422.3,95.66 L1424.3,95.8 L1426.3,95.94 L1428.3,96.08 L1430.3,96.22 L1432.3,96.36 L1434.3,96.5 L1436.3,96.63 L1438.3,96.77 L1440.3,96.9 L1442.3,97.04 L1444.3,97.17 L1446.3,97.3 L1448.3,97.43 L1450.3,97.56 L1452.3,97.69 L1454.3,97.82 L1456.3,97.95 L1458.3,98.08 L1460.3,98.2 L1462.3,98.33 L1464.3,98.45 L1466.3,98.58 L1468.3,98.7 L1470.3,98.82 L1472.3,98.94 L1474.3,99.06 L1476.3,99.18 L1478.3,99.3 L1480.3,99.41 L1482.3,99.53 L1484.3,99.65 L1486.3,99.76 L1488.3,99.87 L1490,99.97" stroke="#000" stroke-dasharray="14.5 11 0.01 11" stroke-linecap="round" stroke-linejoin="round"/>
<path d="M104.3,67.01 L106.3,67.06 L108.3,67.12 L110.3,67.17 L112.3,67.23 L114.3,67.28 L116.3,67.34 L118.3,67.39 L120.3,67.45 L122.3,67.51 L124.3,67.56 L126.3,67.62 L128.3,67.68 L130.3,67.74 L132.3,67.79 L134.3,67.85 L136.3,67.91 L138.3,67.97 L140.3,68.03 L142.3,68.09 L144.3,68.15 L146.3,68.21 L148.3,68.27 L150.3,68.33 L152.3,68.4 L154.3,68.46 L156.3,68.52 L158.3,68.59 L160.3,68.65 L162.3,68.71 L164.3,68.78 L166.3,68.85 L168.3,68.91 L170.3,68.98 L172.3,69.05 L174.3,69.11 L176.3,69.18 L178.3,69.25 L180.3,69.32 L182.3,69.39 L184.3,69.46 L186.3,69.53 L188.3,69.61 L190.3,69.68 L192.3,69.75 L194.3,69.83 L196.3,69.9 L198.3,69.98 L200.3,70.05 L202.3,70.13 L204.3,70.21 L206.3,70.29 L208.3,70.37 L210.3,70.45 L212.3,70.53 L214.3,70.61 L216.3,70.69 L218.3,70.77 L220.3,70.86 L222.3,70.94 L224.3,71.03 L226.3,71.11 L228.3,71.2 L230.3,71.29 L232.3,71.38 L234.3,71.47 L236.3,71.56 L238.3,71.65 L240.3,71.74 L242.3,71.84 L244.3,71.93 L246.3,72.03 L248.3,72.13 L250.3,72.22 L252.3,72.32 L254.3,72.42 L256.3,72.52 L258.3,72.62 L260.3,72.73 L262.3,72.83 L264.3,72.93 L266.3,73.04 L268.3,73.15 L270.3,73.25 L272.3,73.36 L274.3,73.47 L276.3,73.59 L278.3,73.7 L280.3,73.81 L282.3,73.93 L284.3,74.04 L286.3,74.16 L288.3,74.28 L290.3,74.4 L292.3,74.52 L294.3,74.64 L296.3,74.76 L298.3,74.89 L300.3,75.01 L302.3,75.14 L304.3,75.27 L306.3,75.4 L308.3,75.53 L310.3,75.66 L312.3,75.79 L314.3,75.93 L316.3,76.06 L318.3,76.2 L320.3,76.34 L322.3,76.48 L324.3,76.62 L326.3,76.77 L328.3,76.91 L330.3,77.06 L332.3,77.2 L334.3,77.35 L336.3,77.5 L338.3,77.65 L340.3,77.81 L342.3,77.96 L344.3,78.12 L346.3,78.27 L348.3,78.43 L350.3,78.59 L352.3,78.75 L354.3,78.92 L356.3,79.08 L358.3,79.25 L360.3,79.42 L362.3,79.59 L364.3,79.76 L366.3,79.93 L368.3,80.11 L370.3,80.28 L372.3,80.46 L374.3,80.64 L376.3,80.82 L378.3,81 L380.3,81.19 L382.3,81.38 L384.3,81.56 L386.3,81.75 L388.3,81.94 L390.3,82.14 L392.3,82.33 L394.3,82.53 L396.3,82.73 L398.3,82.93 L400.3,83.14 L402.3,83.35 L404.3,83.55 L406.3,83.77 L408.3,83.98 L410.3,84.2 L412.3,84.42 L414.3,84.64 L416.3,84.86 L418.3,85.09 L420.3,85.32 L422.3,85.55 L424.3,85.79 L426.3,86.03 L428.3,86.27 L430.3,86.51 L432.3,86.76 L434.3,87.01 L436.3,87.27 L438.3,87.53 L440.3,87.79 L442.3,88.05 L444.3,88.32 L446.3,88.59 L448.3,88.87 L450.3,89.15 L452.3,89.43 L454.3,89.72 L456.3,90.01 L458.3,90.3 L460.3,90.6 L462.3,90.9 L464.3,91.21 L466.3,91.52 L468.3,91.84 L470.3,92.16 L472.3,92.48 L474.3,92.81 L476.3,93.14 L478.3,93.48 L480.3,93.82 L482.3,94.17 L484.3,94.52 L486.3,94.87 L488.3,95.23 L490.3,95.6 L492.3,95.97 L494.3,96.34 L496.3,96.72 L498.3,97.11 L500.3,97.5 L502.3,97.89 L504.3,98.3 L506.3,98.7 L508.3,99.11 L510.3,99.53 L512.3,99.95 L514.3,100.38 L516.3,100.81 L518.3,101.25 L520.3,101.7 L522.3,102.15 L524.3,102.61 L526.3,103.07 L528.3,103.54 L530.3,104.01 L532.3,104.49 L534.3,104.98 L536.3,105.47 L538.3,105.97 L540.3,106.48 L542.3,106.99 L544.3,107.5 L546.3,108.03 L548.3,108.56 L550.3,109.1 L552.3,109.64 L554.3,110.19 L556.3,110.75 L558.3,111.32 L560.3,111.89 L562.3,112.47 L564.3,113.05 L566.3,113.64 L568.3,114.24 L570.3,114.85 L572.3,115.46 L574.3,116.08 L576.3,116.71 L578.3,117.35 L580.3,117.99 L582.3,118.64 L584.3,119.3 L586.3,119.97 L588.3,120.64 L590.3,121.32 L592.3,122.01 L594.3,122.71 L596.3,123.41 L598.3,124.13 L600.3,124.85 L602.3,125.58 L604.3,126.31 L606.3,127.06 L608.3,127.81 L610.3,128.58 L612.3,129.35 L614.3,130.12 L616.3,130.91 L618.3,131.71 L620.3,132.52 L622.3,133.34 L624.3,134.17 L626.3,135.02 L628.3,135.88 L630.3,136.76 L632.3,137.66 L634.3,138.57 L636.3,139.5 L638.3,140.45 L640.3,141.43 L642.3,142.42 L644.3,143.44 L646.3,144.48 L648.3,145.55 L650.3,146.64 L652.3,147.76 L654.3,148.9 L656.3,150.08 L658.3,151.28 L660.3,152.52 L662.3,153.78 L664.3,155.07 L666.3,156.37 L668.3,157.7 L670.3,159.03 L672.3,160.37 L674.3,161.72 L676.3,163.06 L678.3,164.4 L680.3,165.73 L682.3,167.05 L684.3,168.37 L686.3,169.68 L688.3,170.99 L690.3,172.3 L692.3,173.62 L694.3,174.96 L696.3,176.3 L698.3,177.67 L700.3,179.06 L702.3,180.48 L704.3,181.92 L706.3,183.4 L708.3,184.92 L710.3,186.48 L712.3,188.09 L714.3,189.74 L716.3,191.45 L718.3,193.21 L720.3,195.04 L722.3,196.93 L724.3,198.88 L726.3,200.91 L728.3,203.02 L730.3,205.2 L732.3,207.47 L734.3,209.82 L736.3,212.26 L738.3,214.8 L740.3,217.44 L742.3,220.18 L744.3,223.02 L746.3,225.98 L748.3,229.04 L750.3,232.21 L752.3,235.47 L754.3,238.8 L756.3,242.2 L758.3,245.64 L760.3,249.11 L762.3,252.61 L764.3,256.11 L766.3,259.6 L768.3,263.07 L770.3,266.5 L772.3,269.88 L774.3,273.2 L776.3,276.43 L778.3,279.56 L780.3,282.57 L782.3,285.43 L784.3,288.12 L786.3,290.63 L788.3,292.92 L790.3,294.99 L792.3,296.79 L794.3,298.32 L796.3,299.55 L798.3,300.46 L798.5,300.54 L800.5,297.53 L802.5,294.49 L804.5,291.41 L806.5,288.29 L808.5,285.15 L810.5,281.99 L812.5,278.82 L814.5,275.63 L816.5,272.45 L818.5,269.27 L820.5,266.1 L822.5,262.95 L824.5,259.82 L826.5,256.73 L828.5,253.67 L830.5,250.65 L832.5,247.69 L834.5,244.78 L836.5,241.93 L838.5,239.15 L840.5,236.44 L842.5,233.79 L844.5,231.2 L846.5,228.66 L848.5,226.19 L850.5,223.77 L852.5,221.4 L854.5,219.09 L856.5,216.82 L858.5,214.6 L860.5,212.42 L862.5,210.29 L864.5,208.2 L866.5,206.14 L868.5,204.13 L870.5,202.15 L872.5,200.2 L874.5,198.3 L876.5,196.42 L878.5,194.59 L880.5,192.78 L882.5,191.01 L884.5,189.28 L886.5,187.57 L888.5,185.9 L890.5,184.26 L892.5,182.65 L894.5,181.08 L896.5,179.53 L898.5,178.01 L900.5,176.53 L902.5,175.07 L904.5,173.64 L906.5,172.24 L908.5,170.87 L910.5,169.52 L912.5,168.2 L914.5,166.91 L916.5,165.64 L918.5,164.4 L920.5,163.18 L922.5,161.99 L924.5,160.82 L926.5,159.67 L928.5,158.55 L930.5,157.45 L932.5,156.37 L934.5,155.32 L936.5,154.28 L938.5,153.26 L940.5,152.27 L942.5,151.29 L944.5,150.34 L946.5,149.4 L948.5,148.48 L950.5,147.58 L952.5,146.69 L954.5,145.83 L956.5,144.98 L958.5,144.14 L960.5,143.32 L962.5,142.52 L964.5,141.72 L966.5,140.95 L968.5,140.18 L970.5,139.43 L972.5,138.7 L974.5,137.97 L976.5,137.26 L978.5,136.55 L980.5,135.86 L982.5,135.18 L984.5,134.51 L986.5,133.84 L988.5,133.19 L990.5,132.54 L992.5,131.9 L994.5,131.27 L996.5,130.65 L998.5,130.03 L1000.5,129.42 L1002.5,128.81 L1004.5,128.21 L1006.5,127.61 L1008.5,127.02 L1010.5,126.43 L1012.5,125.84 L1014.5,125.26 L1016.5,124.69 L1018.5,124.12 L1020.5,123.55 L1022.5,122.99 L1024.5,122.43 L1026.5,121.87 L1028.5,121.32 L1030.5,120.78 L1032.5,120.24 L1034.5,119.7 L1036.5,119.16 L1038.5,118.63 L1040.5,118.11 L1042.5,117.58 L1044.5,117.07 L1046.5,116.55 L1048.5,116.04 L1050.5,115.54 L1052.5,115.03 L1054.5,114.53 L1056.5,114.04 L1058.5,113.55 L1060.5,113.06 L1062.5,112.58 L1064.5,112.1 L1066.5,111.62 L1068.5,111.15 L1070.5,110.68 L1072.5,110.22 L1074.5,109.76 L1076.5,109.3 L1078.5,108.85 L1080.5,108.4 L1082.5,107.95 L1084.5,107.51 L1086.5,107.07 L1088.5,106.63 L1090.5,106.2 L1092.5,105.77 L1094.5,105.34 L1096.5,104.92 L1098.5,104.5 L1100.5,104.09 L1102.5,103.67 L1104.5,103.27 L1106.5,102.86 L1108.5,102.46 L1110.5,102.06 L1112.5,101.66 L1114.5,101.27 L1116.5,100.88 L1118.5,100.5 L1120.5,100.11 L1122.5,99.73 L1124.5,99.36 L1126.5,98.98 L1128.5,98.61 L1130.5,98.24 L1132.5,97.88 L1134.5,97.52 L1136.5,97.16 L1138.5,96.81 L1140.5,96.45 L1142.5,96.1 L1144.5,95.76 L1146.5,95.41 L1148.5,95.07 L1150.5,94.73 L1152.5,94.4 L1154.5,94.07 L1156.5,93.74 L1158.5,93.41 L1160.5,93.09 L1162.5,92.77 L1164.5,92.45 L1166.5,92.13 L1168.5,91.82 L1170.5,91.51 L1172.5,91.2 L1174.5,90.89 L1176.5,90.59 L1178.5,90.29 L1180.5,89.99 L1182.5,89.7 L1184.5,89.4 L1186.5,89.11 L1188.5,88.83 L1190.5,88.54 L1192.5,88.26 L1194.5,87.98 L1196.5,87.7 L1198.5,87.42 L1200.5,87.15 L1202.5,86.88 L1204.5,86.61 L1206.5,86.34 L1208.5,86.08 L1210.5,85.81 L1212.5,85.55 L1214.5,85.3 L1216.5,85.04 L1218.5,84.79 L1220.5,84.53 L1222.5,84.28 L1224.5,84.04 L1226.5,83.79 L1228.5,83.55 L1230.5,83.31 L1232.5,83.07 L1234.5,82.83 L1236.5,82.59 L1238.5,82.36 L1240.5,82.13 L1242.5,81.9 L1244.5,81.67 L1246.5,81.44 L1248.5,81.22 L1250.5,81 L1252.5,80.78 L1254.5,80.56 L1256.5,80.34 L1258.5,80.12 L1260.5,79.91 L1262.5,79.7 L1264.5,79.49 L1266.5,79.28 L1268.5,79.07 L1270.5,78.86 L1272.5,78.66 L1274.5,78.46 L1276.5,78.25 L1278.5,78.05 L1280.5,77.86 L1282.5,77.66 L1284.5,77.46 L1286.5,77.27 L1288.5,77.08 L1290.5,76.88 L1292.5,76.69 L1294.5,76.5 L1296.5,76.32 L1298.5,76.13 L1300.5,75.95 L1302.5,75.76 L1304.5,75.58 L1306.5,75.4 L1308.5,75.22 L1310.5,75.04 L1312.5,74.86 L1314.5,74.68 L1316.5,74.51 L1318.5,74.33 L1320.5,74.16 L1322.5,73.99 L1324.5,73.82 L1326.5,73.64 L1328.5,73.47 L1330.5,73.31 L1332.5,73.14 L1334.5,72.97 L1336.5,72.81 L1338.5,72.64 L1340.5,72.48 L1342.5,72.31 L1344.5,72.15 L1346.5,71.99 L1348.5,71.83 L1350.5,71.66 L1352.5,71.5 L1354.5,71.35 L1356.5,71.19 L1358.5,71.03 L1360.5,70.87 L1362.5,70.71 L1364.5,70.56 L1366.5,70.4 L1368.5,70.25 L1370.5,70.09 L1372.5,69.94 L1374.5,69.79 L1376.5,69.63 L1378.5,69.48 L1380.5,69.33 L1382.5,69.18 L1384.5,69.02 L1386.5,68.87 L1388.5,68.72 L1390.5,68.57 L1392.5,68.42 L1394.5,68.27 L1396.5,68.12 L1398.5,67.97 L1400.5,67.82 L1402.5,67.67 L1404.5,67.52 L1406.5,67.37 L1408.5,67.22 L1410.5,67.08 L1412.5,66.93 L1414.5,66.78 L1416.5,66.63 L1418.5,66.48 L1420.5,66.33 L1422.5,66.18 L1424.5,66.03 L1426.5,65.89 L1428.5,65.74 L1430.5,65.59 L1432.5,65.44 L1434.5,65.29 L1436.5,65.14 L1438.5,64.99 L1440.5,64.84 L1442.5,64.69 L1444.5,64.54 L1446.5,64.39 L1448.5,64.23 L1450.5,64.08 L1452.5,63.93 L1454.5,63.78 L1456.5,63.63 L1458.5,63.47 L1460.5,63.32 L1462.5,63.16 L1464.5,63.01 L1466.5,62.85 L1468.5,62.7 L1470.5,62.54 L1472.5,62.39 L1474.5,62.23 L1476.5,62.07 L1478.5,61.91 L1480.5,61.75 L1482.5,61.59 L1484.5,61.43 L1486.5,61.27 L1488.5,61.11 L1490,60.99" stroke="#000" stroke-dasharray="4.2 4.56" stroke-linecap="butt" stroke-linejoin="round"/>
<path d="M104.3,86.99 L106.3,87.06 L108.3,87.13 L110.3,87.2 L112.3,87.26 L114.3,87.33 L116.3,87.4 L118.3,87.46 L120.3,87.53 L122.3,87.59 L124.3,87.65 L126.3,87.71 L128.3,87.77 L130.3,87.83 L132.3,87.89 L134.3,87.95 L136.3,88.01 L138.3,88.07 L140.3,88.13 L142.3,88.18 L144.3,88.24 L146.3,88.3 L148.3,88.35 L150.3,88.41 L152.3,88.46 L154.3,88.52 L156.3,88.57 L158.3,88.63 L160.3,88.68 L162.3,88.73 L164.3,88.79 L166.3,88.84 L168.3,88.89 L170.3,88.94 L172.3,89 L174.3,89.05 L176.3,89.1 L178.3,89.15 L180.3,89.2 L182.3,89.25 L184.3,89.31 L186.3,89.36 L188.3,89.41 L190.3,89.46 L192.3,89.51 L194.3,89.57 L196.3,89.62 L198.3,89.67 L200.3,89.72 L202.3,89.78 L204.3,89.83 L206.3,89.88 L208.3,89.94 L210.3,89.99 L212.3,90.04 L214.3,90.1 L216.3,90.15 L218.3,90.21 L220.3,90.26 L222.3,90.32 L224.3,90.38 L226.3,90.43 L228.3,90.49 L230.3,90.55 L232.3,90.61 L234.3,90.67 L236.3,90.73 L238.3,90.79 L240.3,90.85 L242.3,90.91 L244.3,90.97 L246.3,91.03 L248.3,91.1 L250.3,91.16 L252.3,91.23 L254.3,91.29 L256.3,91.36 L258.3,91.43 L260.3,91.5 L262.3,91.57 L264.3,91.64 L266.3,91.71 L268.3,91.78 L270.3,91.86 L272.3,91.93 L274.3,92.01 L276.3,92.08 L278.3,92.16 L280.3,92.24 L282.3,92.32 L284.3,92.4 L286.3,92.48 L288.3,92.57 L290.3,92.65 L292.3,92.74 L294.3,92.83 L296.3,92.92 L298.3,93.01 L300.3,93.1 L302.3,93.19 L304.3,93.28 L306.3,93.38 L308.3,93.48 L310.3,93.58 L312.3,93.68 L314.3,93.78 L316.3,93.88 L318.3,93.99 L320.3,94.09 L322.3,94.2 L324.3,94.31 L326.3,94.42 L328.3,94.53 L330.3,94.65 L332.3,94.77 L334.3,94.88 L336.3,95 L338.3,95.13 L340.3,95.25 L342.3,95.38 L344.3,95.5 L346.3,95.63 L348.3,95.76 L350.3,95.9 L352.3,96.03 L354.3,96.17 L356.3,96.31 L358.3,96.45 L360.3,96.59 L362.3,96.74 L364.3,96.89 L366.3,97.03 L368.3,97.19 L370.3,97.34 L372.3,97.5 L374.3,97.66 L376.3,97.82 L378.3,97.98 L380.3,98.14 L382.3,98.31 L384.3,98.48 L386.3,98.65 L388.3,98.83 L390.3,99.01 L392.3,99.19 L394.3,99.37 L396.3,99.55 L398.3,99.74 L400.3,99.93 L402.3,100.12 L404.3,100.32 L406.3,100.51 L408.3,100.71 L410.3,100.92 L412.3,101.12 L414.3,101.33 L416.3,101.54 L418.3,101.76 L420.3,101.97 L422.3,102.19 L424.3,102.41 L426.3,102.64 L428.3,102.87 L430.3,103.1 L432.3,103.33 L434.3,103.57 L436.3,103.81 L438.3,104.05 L440.3,104.29 L442.3,104.54 L444.3,104.79 L446.3,105.05 L448.3,105.31 L450.3,105.57 L452.3,105.83 L454.3,106.1 L456.3,106.37 L458.3,106.64 L460.3,106.92 L462.3,107.2 L464.3,107.48 L466.3,107.77 L468.3,108.06 L470.3,108.35 L472.3,108.65 L474.3,108.95 L476.3,109.26 L478.3,109.56 L480.3,109.87 L482.3,110.19 L484.3,110.51 L486.3,110.83 L488.3,111.15 L490.3,111.48 L492.3,111.81 L494.3,112.15 L496.3,112.49 L498.3,112.83 L500.3,113.18 L502.3,113.53 L504.3,113.89 L506.3,114.24 L508.3,114.61 L510.3,114.97 L512.3,115.34 L514.3,115.72 L516.3,116.09 L518.3,116.47 L520.3,116.86 L522.3,117.25 L524.3,117.64 L526.3,118.04 L528.3,118.44 L530.3,118.85 L532.3,119.26 L534.3,119.67 L536.3,120.09 L538.3,120.51 L540.3,120.94 L542.3,121.37 L544.3,121.81 L546.3,122.24 L548.3,122.69 L550.3,123.14 L552.3,123.59 L554.3,124.04 L556.3,124.51 L558.3,124.97 L560.3,125.44 L562.3,125.92 L564.3,126.39 L566.3,126.88 L568.3,127.37 L570.3,127.86 L572.3,128.35 L574.3,128.86 L576.3,129.36 L578.3,129.87 L580.3,130.39 L582.3,130.91 L584.3,131.43 L586.3,131.96 L588.3,132.5 L590.3,133.04 L592.3,133.58 L594.3,134.13 L596.3,134.69 L598.3,135.26 L600.3,135.83 L602.3,136.41 L604.3,136.99 L606.3,137.59 L608.3,138.19 L610.3,138.81 L612.3,139.43 L614.3,140.06 L616.3,140.71 L618.3,141.36 L620.3,142.03 L622.3,142.7 L624.3,143.39 L626.3,144.09 L628.3,144.81 L630.3,145.54 L632.3,146.28 L634.3,147.04 L636.3,147.81 L638.3,148.59 L640.3,149.39 L642.3,150.21 L644.3,151.05 L646.3,151.9 L648.3,152.76 L650.3,153.65 L652.3,154.55 L654.3,155.47 L656.3,156.41 L658.3,157.37 L660.3,158.35 L662.3,159.35 L664.3,160.37 L666.3,161.41 L668.3,162.47 L670.3,163.55 L672.3,164.65 L674.3,165.78 L676.3,166.93 L678.3,168.1 L680.3,169.3 L682.3,170.52 L684.3,171.77 L686.3,173.04 L688.3,174.33 L690.3,175.65 L692.3,177 L694.3,178.37 L696.3,179.78 L698.3,181.2 L700.3,182.66 L702.3,184.14 L704.3,185.66 L706.3,187.2 L708.3,188.77 L710.3,190.37 L712.3,192.01 L714.3,193.67 L716.3,195.36 L718.3,197.09 L720.3,198.84 L722.3,200.63 L724.3,202.46 L726.3,204.31 L728.3,206.2 L730.3,208.12 L732.3,210.08 L734.3,212.07 L736.3,214.1 L738.3,216.16 L740.3,218.26 L742.3,220.39 L744.3,222.55 L746.3,224.76 L748.3,227 L750.3,229.27 L752.3,231.58 L754.3,233.93 L756.3,236.32 L758.3,238.74 L760.3,241.2 L762.3,243.7 L764.3,246.23 L766.3,248.8 L768.3,251.41 L770.3,254.06 L772.3,256.75 L774.3,259.47 L776.3,262.21 L778.3,264.96 L780.3,267.68 L782.3,270.37 L784.3,273.02 L786.3,275.59 L788.3,278.07 L790.3,280.45 L792.3,282.71 L794.3,284.84 L796.3,286.8 L798,288.33 L800,288.3 L802,288.3 L804,288.3 L806,288.58 L808,288.86 L809,289 L811,287.9 L813,286.4 L815,284.63 L817,282.62 L819,280.4 L821,278.01 L823,275.49 L825,272.88 L827,270.21 L829,267.49 L831,264.75 L833,261.98 L835,259.2 L837,256.4 L839,253.6 L841,250.8 L843,248.01 L845,245.24 L847,242.49 L849,239.78 L851,237.1 L853,234.46 L855,231.87 L857,229.33 L859,226.83 L861,224.38 L863,221.97 L865,219.61 L867,217.29 L869,215.02 L871,212.79 L873,210.6 L875,208.45 L877,206.34 L879,204.27 L881,202.25 L883,200.26 L885,198.31 L887,196.4 L889,194.53 L891,192.69 L893,190.9 L895,189.13 L897,187.41 L899,185.72 L901,184.06 L903,182.44 L905,180.85 L907,179.29 L909,177.76 L911,176.27 L913,174.81 L915,173.38 L917,171.98 L919,170.61 L921,169.26 L923,167.95 L925,166.66 L927,165.41 L929,164.17 L931,162.97 L933,161.79 L935,160.63 L937,159.5 L939,158.4 L941,157.32 L943,156.26 L945,155.22 L947,154.2 L949,153.21 L951,152.24 L953,151.28 L955,150.35 L957,149.44 L959,148.54 L961,147.66 L963,146.8 L965,145.96 L967,145.13 L969,144.32 L971,143.53 L973,142.75 L975,141.98 L977,141.23 L979,140.49 L981,139.76 L983,139.04 L985,138.34 L987,137.65 L989,136.96 L991,136.29 L993,135.63 L995,134.97 L997,134.32 L999,133.68 L1001,133.05 L1003,132.43 L1005,131.81 L1007,131.19 L1009,130.58 L1011,129.98 L1013,129.38 L1015,128.79 L1017,128.2 L1019,127.62 L1021,127.04 L1023,126.47 L1025,125.9 L1027,125.34 L1029,124.78 L1031,124.23 L1033,123.68 L1035,123.14 L1037,122.6 L1039,122.07 L1041,121.55 L1043,121.02 L1045,120.51 L1047,119.99 L1049,119.49 L1051,118.98 L1053,118.49 L1055,117.99 L1057,117.51 L1059,117.02 L1061,116.54 L1063,116.07 L1065,115.6 L1067,115.14 L1069,114.68 L1071,114.22 L1073,113.77 L1075,113.32 L1077,112.88 L1079,112.44 L1081,112.01 L1083,111.58 L1085,111.15 L1087,110.73 L1089,110.32 L1091,109.91 L1093,109.5 L1095,109.09 L1097,108.7 L1099,108.3 L1101,107.91 L1103,107.52 L1105,107.14 L1107,106.76 L1109,106.39 L1111,106.02 L1113,105.65 L1115,105.29 L1117,104.93 L1119,104.58 L1121,104.22 L1123,103.88 L1125,103.53 L1127,103.2 L1129,102.86 L1131,102.53 L1133,102.2 L1135,101.88 L1137,101.56 L1139,101.24 L1141,100.93 L1143,100.62 L1145,100.31 L1147,100.01 L1149,99.71 L1151,99.41 L1153,99.12 L1155,98.83 L1157,98.55 L1159,98.26 L1161,97.99 L1163,97.71 L1165,97.44 L1167,97.17 L1169,96.9 L1171,96.64 L1173,96.38 L1175,96.13 L1177,95.87 L1179,95.62 L1181,95.38 L1183,95.13 L1185,94.89 L1187,94.66 L1189,94.42 L1191,94.19 L1193,93.96 L1195,93.74 L1197,93.51 L1199,93.29 L1201,93.08 L1203,92.86 L1205,92.65 L1207,92.44 L1209,92.24 L1211,92.03 L1213,91.83 L1215,91.63 L1217,91.44 L1219,91.25 L1221,91.06 L1223,90.87 L1225,90.68 L1227,90.5 L1229,90.32 L1231,90.14 L1233,89.97 L1235,89.79 L1237,89.62 L1239,89.45 L1241,89.29 L1243,89.12 L1245,88.96 L1247,88.8 L1249,88.64 L1251,88.49 L1253,88.34 L1255,88.19 L1257,88.04 L1259,87.89 L1261,87.75 L1263,87.6 L1265,87.46 L1267,87.32 L1269,87.19 L1271,87.05 L1273,86.92 L1275,86.79 L1277,86.66 L1279,86.53 L1281,86.4 L1283,86.28 L1285,86.16 L1287,86.04 L1289,85.92 L1291,85.8 L1293,85.68 L1295,85.57 L1297,85.46 L1299,85.35 L1301,85.24 L1303,85.13 L1305,85.02 L1307,84.92 L1309,84.81 L1311,84.71 L1313,84.61 L1315,84.51 L1317,84.41 L1319,84.31 L1321,84.22 L1323,84.12 L1325,84.03 L1327,83.93 L1329,83.84 L1331,83.75 L1333,83.66 L1335,83.58 L1337,83.49 L1339,83.4 L1341,83.32 L1343,83.23 L1345,83.15 L1347,83.07 L1349,82.98 L1351,82.9 L1353,82.82 L1355,82.74 L1357,82.67 L1359,82.59 L1361,82.51 L1363,82.43 L1365,82.36 L1367,82.28 L1369,82.21 L1371,82.14 L1373,82.06 L1375,81.99 L1377,81.92 L1379,81.84 L1381,81.77 L1383,81.7 L1385,81.63 L1387,81.56 L1389,81.49 L1391,81.42 L1393,81.35 L1395,81.28 L1397,81.21 L1399,81.15 L1401,81.08 L1403,81.01 L1405,80.94 L1407,80.87 L1409,80.8 L1411,80.74 L1413,80.67 L1415,80.6 L1417,80.53 L1419,80.46 L1421,80.39 L1423,80.33 L1425,80.26 L1427,80.19 L1429,80.12 L1431,80.05 L1433,79.98 L1435,79.91 L1437,79.84 L1439,79.77 L1441,79.7 L1443,79.63 L1445,79.56 L1447,79.49 L1449,79.41 L1451,79.34 L1453,79.27 L1455,79.19 L1457,79.12 L1459,79.04 L1461,78.97 L1463,78.89 L1465,78.82 L1467,78.74 L1469,78.66 L1471,78.58 L1473,78.5 L1475,78.42 L1477,78.34 L1479,78.25 L1481,78.17 L1483,78.09 L1485,78 L1487,77.92 L1489,77.83 L1490,77.78" stroke="#000" stroke-linecap="butt" stroke-linejoin="round"/>
</g>
<path d="M104.3,301.5 V287.5 M104.3,13.75 V27.75 M242.87,301.5 V287.5 M242.87,13.75 V27.75 M381.44,301.5 V287.5 M381.44,13.75 V27.75 M520.01,301.5 V287.5 M520.01,13.75 V27.75 M658.58,301.5 V287.5 M658.58,13.75 V27.75 M797.15,301.5 V287.5 M797.15,13.75 V27.75 M935.72,301.5 V287.5 M935.72,13.75 V27.75 M1074.29,301.5 V287.5 M1074.29,13.75 V27.75 M1212.86,301.5 V287.5 M1212.86,13.75 V27.75 M1351.43,301.5 V287.5 M1351.43,13.75 V27.75 M1490,301.5 V287.5 M1490,13.75 V27.75 M104.3,13.75 H118.3 M1490,13.75 H1476 M104.3,109.67 H118.3 M1490,109.67 H1476 M104.3,205.58 H118.3 M1490,205.58 H1476 M104.3,301.5 H118.3 M1490,301.5 H1476" stroke="#262626" stroke-width="1.3" fill="none"/>
<rect x="104.3" y="13.75" width="1385.7" height="287.75" stroke="#262626" stroke-width="1.4" fill="none"/>
<text x="104.3" y="346.5" font-size="34" text-anchor="middle">1</text>
<text x="242.87" y="346.5" font-size="34" text-anchor="middle">1.1</text>
<text x="381.44" y="346.5" font-size="34" text-anchor="middle">1.2</text>
<text x="520.01" y="346.5" font-size="34" text-anchor="middle">1.3</text>
<text x="658.58" y="346.5" font-size="34" text-anchor="middle">1.4</text>
<text x="797.15" y="346.5" font-size="34" text-anchor="middle">1.5</text>
<text x="935.72" y="346.5" font-size="34" text-anchor="middle">1.6</text>
<text x="1074.29" y="346.5" font-size="34" text-anchor="middle">1.7</text>
<text x="1212.86" y="346.5" font-size="34" text-anchor="middle">1.8</text>
<text x="1351.43" y="346.5" font-size="34" text-anchor="middle">1.9</text>
<text x="1490" y="346.5" font-size="34" text-anchor="middle">2</text>
<text x="90.3" y="25.55" font-size="34" text-anchor="end">0</text>
<text x="90.3" y="121.47" font-size="34" text-anchor="end">-10</text>
<text x="90.3" y="217.38" font-size="34" text-anchor="end">-20</text>
<text x="90.3" y="313.3" font-size="34" text-anchor="end">-30</text>
<text x="797" y="391.5" font-size="37.5" text-anchor="middle">Frequency [GHz]</text>
<text transform="translate(29,157.62) rotate(-90)" font-size="37.5" text-anchor="middle">S-parameters [dB]</text>
<rect x="1321.3" y="75.7" width="149.6" height="209.2" fill="#fff" stroke="#262626" stroke-width="1.3"/>
<line x1="1328.7" y1="104.1" x2="1402.3" y2="104.1" stroke="#000" stroke-width="4.6" stroke-dasharray="4.2 4.56"/>
<line x1="1328.7" y1="155" x2="1402.3" y2="155" stroke="#000" stroke-width="4.6" stroke-dasharray="17.5 17.5"/>
<line x1="1328.7" y1="205.7" x2="1402.3" y2="205.7" stroke="#000" stroke-width="4.6" stroke-dasharray="17.5 17.5"/>
<line x1="1328.7" y1="256.9" x2="1402.3" y2="256.9" stroke="#000" stroke-width="4.6"/>
<path d="M1410.6,87.6 v28 M1459,87.6 v28" stroke="#000" stroke-width="1.3"/>
<text transform="translate(1414.1,109.5) scale(1.22,1)" font-size="31" font-style="italic" fill="#000">S</text>
<text x="1432.1" y="123.7" font-size="23.5" fill="#000">11</text>
<path d="M1410.6,138.5 v28 M1459,138.5 v28" stroke="#000" stroke-width="1.3"/>
<text transform="translate(1414.1,160.4) scale(1.22,1)" font-size="31" font-style="italic" fill="#000">S</text>
<text x="1432.1" y="174.6" font-size="23.5" fill="#000">21</text>
<path d="M1410.6,189.2 v28 M1459,189.2 v28" stroke="#000" stroke-width="1.3"/>
<text transform="translate(1414.1,211.1) scale(1.22,1)" font-size="31" font-style="italic" fill="#000">S</text>
<text x="1432.1" y="225.3" font-size="23.5" fill="#000">31</text>
<path d="M1410.6,240.4 v28 M1459,240.4 v28" stroke="#000" stroke-width="1.3"/>
<text transform="translate(1414.1,262.3) scale(1.22,1)" font-size="31" font-style="italic" fill="#000">S</text>
<text x="1432.1" y="276.5" font-size="23.5" fill="#000">41</text>
<line x1="242.87" y1="877.6" x2="242.87" y2="1165.35" stroke="#c4c4c4" stroke-width="1.1" stroke-dasharray="1 1"/>
<line x1="381.44" y1="877.6" x2="381.44" y2="1165.35" stroke="#c4c4c4" stroke-width="1.1" stroke-dasharray="1 1"/>
<line x1="520.01" y1="877.6" x2="520.01" y2="1165.35" stroke="#c4c4c4" stroke-width="1.1" stroke-dasharray="1 1"/>
<line x1="658.58" y1="877.6" x2="658.58" y2="1165.35" stroke="#c4c4c4" stroke-width="1.1" stroke-dasharray="1 1"/>
<line x1="797.15" y1="877.6" x2="797.15" y2="1165.35" stroke="#c4c4c4" stroke-width="1.1" stroke-dasharray="1 1"/>
<line x1="935.72" y1="877.6" x2="935.72" y2="1165.35" stroke="#c4c4c4" stroke-width="1.1" stroke-dasharray="1 1"/>
<line x1="1074.29" y1="877.6" x2="1074.29" y2="1165.35" stroke="#c4c4c4" stroke-width="1.1" stroke-dasharray="1 1"/>
<line x1="1212.86" y1="877.6" x2="1212.86" y2="1165.35" stroke="#c4c4c4" stroke-width="1.1" stroke-dasharray="1 1"/>
<line x1="1351.43" y1="877.6" x2="1351.43" y2="1165.35" stroke="#c4c4c4" stroke-width="1.1" stroke-dasharray="1 1"/>
<line x1="104.3" y1="973.52" x2="1490" y2="973.52" stroke="#c4c4c4" stroke-width="1.1" stroke-dasharray="1 1"/>
<line x1="104.3" y1="1069.43" x2="1490" y2="1069.43" stroke="#c4c4c4" stroke-width="1.1" stroke-dasharray="1 1"/>
<clipPath id="c877"><rect x="104.3" y="877.6" width="1385.7" height="287.75"/></clipPath>
<path d="M755.58,877.6 V1069.43 H838.72 V877.6" stroke="#d82c2c" stroke-width="1.9" fill="none"/>
<g clip-path="url(#c877)" fill="none" stroke-width="4.6">
<path d="M104.3,947.97 L106.3,948.11 L108.3,948.24 L110.3,948.38 L112.3,948.5 L114.3,948.63 L116.3,948.75 L118.3,948.87 L120.3,948.99 L122.3,949.1 L124.3,949.21 L126.3,949.32 L128.3,949.42 L130.3,949.53 L132.3,949.62 L134.3,949.72 L136.3,949.81 L138.3,949.9 L140.3,949.99 L142.3,950.07 L144.3,950.15 L146.3,950.23 L148.3,950.31 L150.3,950.38 L152.3,950.45 L154.3,950.51 L156.3,950.58 L158.3,950.64 L160.3,950.7 L162.3,950.75 L164.3,950.8 L166.3,950.85 L168.3,950.9 L170.3,950.94 L172.3,950.99 L174.3,951.02 L176.3,951.06 L178.3,951.09 L180.3,951.12 L182.3,951.15 L184.3,951.18 L186.3,951.2 L188.3,951.22 L190.3,951.24 L192.3,951.25 L194.3,951.27 L196.3,951.28 L198.3,951.28 L200.3,951.29 L202.3,951.29 L204.3,951.29 L206.3,951.29 L208.3,951.28 L210.3,951.28 L212.3,951.27 L214.3,951.26 L216.3,951.24 L218.3,951.22 L220.3,951.2 L222.3,951.18 L224.3,951.16 L226.3,951.13 L228.3,951.1 L230.3,951.07 L232.3,951.04 L234.3,951 L236.3,950.97 L238.3,950.93 L240.3,950.88 L242.3,950.84 L244.3,950.79 L246.3,950.74 L248.3,950.69 L250.3,950.64 L252.3,950.59 L254.3,950.53 L256.3,950.47 L258.3,950.41 L260.3,950.34 L262.3,950.28 L264.3,950.21 L266.3,950.14 L268.3,950.07 L270.3,949.99 L272.3,949.92 L274.3,949.84 L276.3,949.76 L278.3,949.68 L280.3,949.59 L282.3,949.51 L284.3,949.42 L286.3,949.33 L288.3,949.24 L290.3,949.15 L292.3,949.05 L294.3,948.96 L296.3,948.86 L298.3,948.76 L300.3,948.65 L302.3,948.55 L304.3,948.44 L306.3,948.34 L308.3,948.23 L310.3,948.12 L312.3,948 L314.3,947.89 L316.3,947.77 L318.3,947.65 L320.3,947.54 L322.3,947.41 L324.3,947.29 L326.3,947.17 L328.3,947.04 L330.3,946.91 L332.3,946.78 L334.3,946.65 L336.3,946.52 L338.3,946.39 L340.3,946.25 L342.3,946.12 L344.3,945.98 L346.3,945.84 L348.3,945.7 L350.3,945.55 L352.3,945.41 L354.3,945.26 L356.3,945.12 L358.3,944.97 L360.3,944.82 L362.3,944.67 L364.3,944.52 L366.3,944.36 L368.3,944.21 L370.3,944.05 L372.3,943.89 L374.3,943.74 L376.3,943.58 L378.3,943.41 L380.3,943.25 L382.3,943.09 L384.3,942.92 L386.3,942.76 L388.3,942.59 L390.3,942.42 L392.3,942.25 L394.3,942.08 L396.3,941.91 L398.3,941.74 L400.3,941.56 L402.3,941.39 L404.3,941.21 L406.3,941.03 L408.3,940.86 L410.3,940.68 L412.3,940.5 L414.3,940.31 L416.3,940.13 L418.3,939.95 L420.3,939.77 L422.3,939.58 L424.3,939.39 L426.3,939.21 L428.3,939.02 L430.3,938.83 L432.3,938.64 L434.3,938.45 L436.3,938.26 L438.3,938.07 L440.3,937.88 L442.3,937.68 L444.3,937.49 L446.3,937.29 L448.3,937.1 L450.3,936.9 L452.3,936.7 L454.3,936.51 L456.3,936.31 L458.3,936.11 L460.3,935.91 L462.3,935.71 L464.3,935.51 L466.3,935.3 L468.3,935.1 L470.3,934.9 L472.3,934.7 L474.3,934.49 L476.3,934.29 L478.3,934.08 L480.3,933.88 L482.3,933.67 L484.3,933.46 L486.3,933.26 L488.3,933.05 L490.3,932.84 L492.3,932.63 L494.3,932.42 L496.3,932.21 L498.3,932 L500.3,931.79 L502.3,931.58 L504.3,931.37 L506.3,931.16 L508.3,930.95 L510.3,930.74 L512.3,930.53 L514.3,930.32 L516.3,930.1 L518.3,929.89 L520.3,929.68 L522.3,929.47 L524.3,929.25 L526.3,929.04 L528.3,928.83 L530.3,928.61 L532.3,928.4 L534.3,928.19 L536.3,927.97 L538.3,927.76 L540.3,927.54 L542.3,927.33 L544.3,927.12 L546.3,926.9 L548.3,926.69 L550.3,926.48 L552.3,926.26 L554.3,926.05 L556.3,925.84 L558.3,925.62 L560.3,925.41 L562.3,925.2 L564.3,924.99 L566.3,924.78 L568.3,924.56 L570.3,924.35 L572.3,924.14 L574.3,923.93 L576.3,923.72 L578.3,923.51 L580.3,923.3 L582.3,923.09 L584.3,922.88 L586.3,922.67 L588.3,922.46 L590.3,922.26 L592.3,922.05 L594.3,921.84 L596.3,921.64 L598.3,921.43 L600.3,921.23 L602.3,921.02 L604.3,920.82 L606.3,920.61 L608.3,920.41 L610.3,920.21 L612.3,920.01 L614.3,919.81 L616.3,919.61 L618.3,919.41 L620.3,919.21 L622.3,919.01 L624.3,918.81 L626.3,918.62 L628.3,918.42 L630.3,918.23 L632.3,918.03 L634.3,917.84 L636.3,917.65 L638.3,917.46 L640.3,917.27 L642.3,917.08 L644.3,916.89 L646.3,916.7 L648.3,916.52 L650.3,916.33 L652.3,916.15 L654.3,915.96 L656.3,915.78 L658.3,915.6 L660.3,915.42 L662.3,915.24 L664.3,915.07 L666.3,914.89 L668.3,914.71 L670.3,914.54 L672.3,914.37 L674.3,914.2 L676.3,914.02 L678.3,913.86 L680.3,913.69 L682.3,913.52 L684.3,913.36 L686.3,913.19 L688.3,913.03 L690.3,912.87 L692.3,912.71 L694.3,912.55 L696.3,912.39 L698.3,912.24 L700.3,912.09 L702.3,911.93 L704.3,911.78 L706.3,911.63 L708.3,911.49 L710.3,911.34 L712.3,911.2 L714.3,911.05 L716.3,910.91 L718.3,910.77 L720.3,910.63 L722.3,910.5 L724.3,910.36 L726.3,910.23 L728.3,910.1 L730.3,909.97 L732.3,909.84 L734.3,909.71 L736.3,909.58 L738.3,909.46 L740.3,909.34 L742.3,909.22 L744.3,909.1 L746.3,908.98 L748.3,908.86 L750.3,908.75 L752.3,908.63 L754.3,908.52 L756.3,908.41 L758.3,908.3 L760.3,908.19 L762.3,908.09 L764.3,907.98 L766.3,907.88 L768.3,907.78 L770.3,907.68 L772.3,907.58 L774.3,907.48 L776.3,907.38 L778.3,907.29 L780.3,907.19 L782.3,907.1 L784.3,907.01 L786.3,906.92 L788.3,906.84 L790.3,906.75 L792.3,906.66 L794.3,906.58 L796.3,906.5 L798.3,906.42 L800.3,906.34 L802.3,906.26 L804.3,906.18 L806.3,906.11 L808.3,906.04 L810.3,905.96 L812.3,905.89 L814.3,905.82 L816.3,905.75 L818.3,905.69 L820.3,905.62 L822.3,905.56 L824.3,905.49 L826.3,905.43 L828.3,905.37 L830.3,905.31 L832.3,905.25 L834.3,905.2 L836.3,905.14 L838.3,905.09 L840.3,905.04 L842.3,904.98 L844.3,904.93 L846.3,904.89 L848.3,904.84 L850.3,904.79 L852.3,904.75 L854.3,904.7 L856.3,904.66 L858.3,904.62 L860.3,904.58 L862.3,904.54 L864.3,904.5 L866.3,904.47 L868.3,904.43 L870.3,904.4 L872.3,904.36 L874.3,904.33 L876.3,904.3 L878.3,904.27 L880.3,904.24 L882.3,904.22 L884.3,904.19 L886.3,904.17 L888.3,904.14 L890.3,904.12 L892.3,904.1 L894.3,904.08 L896.3,904.06 L898.3,904.04 L900.3,904.03 L902.3,904.01 L904.3,904 L906.3,903.98 L908.3,903.97 L910.3,903.96 L912.3,903.95 L914.3,903.94 L916.3,903.94 L918.3,903.93 L920.3,903.92 L922.3,903.92 L924.3,903.92 L926.3,903.91 L928.3,903.91 L930.3,903.91 L932.3,903.91 L934.3,903.92 L936.3,903.92 L938.3,903.92 L940.3,903.93 L942.3,903.94 L944.3,903.94 L946.3,903.95 L948.3,903.96 L950.3,903.97 L952.3,903.98 L954.3,903.99 L956.3,904.01 L958.3,904.02 L960.3,904.04 L962.3,904.05 L964.3,904.07 L966.3,904.09 L968.3,904.11 L970.3,904.13 L972.3,904.15 L974.3,904.17 L976.3,904.2 L978.3,904.22 L980.3,904.25 L982.3,904.27 L984.3,904.3 L986.3,904.33 L988.3,904.36 L990.3,904.39 L992.3,904.42 L994.3,904.45 L996.3,904.48 L998.3,904.51 L1000.3,904.55 L1002.3,904.58 L1004.3,904.62 L1006.3,904.66 L1008.3,904.69 L1010.3,904.73 L1012.3,904.77 L1014.3,904.81 L1016.3,904.85 L1018.3,904.9 L1020.3,904.94 L1022.3,904.98 L1024.3,905.03 L1026.3,905.07 L1028.3,905.12 L1030.3,905.17 L1032.3,905.22 L1034.3,905.26 L1036.3,905.31 L1038.3,905.36 L1040.3,905.42 L1042.3,905.47 L1044.3,905.52 L1046.3,905.57 L1048.3,905.63 L1050.3,905.68 L1052.3,905.74 L1054.3,905.8 L1056.3,905.85 L1058.3,905.91 L1060.3,905.97 L1062.3,906.03 L1064.3,906.09 L1066.3,906.15 L1068.3,906.21 L1070.3,906.28 L1072.3,906.34 L1074.3,906.41 L1076.3,906.47 L1078.3,906.54 L1080.3,906.6 L1082.3,906.67 L1084.3,906.74 L1086.3,906.8 L1088.3,906.87 L1090.3,906.94 L1092.3,907.01 L1094.3,907.09 L1096.3,907.16 L1098.3,907.23 L1100.3,907.3 L1102.3,907.38 L1104.3,907.45 L1106.3,907.53 L1108.3,907.6 L1110.3,907.68 L1112.3,907.75 L1114.3,907.83 L1116.3,907.91 L1118.3,907.99 L1120.3,908.07 L1122.3,908.15 L1124.3,908.23 L1126.3,908.31 L1128.3,908.39 L1130.3,908.47 L1132.3,908.56 L1134.3,908.64 L1136.3,908.72 L1138.3,908.81 L1140.3,908.89 L1142.3,908.98 L1144.3,909.07 L1146.3,909.15 L1148.3,909.24 L1150.3,909.33 L1152.3,909.42 L1154.3,909.51 L1156.3,909.6 L1158.3,909.69 L1160.3,909.78 L1162.3,909.87 L1164.3,909.96 L1166.3,910.05 L1168.3,910.14 L1170.3,910.24 L1172.3,910.33 L1174.3,910.42 L1176.3,910.52 L1178.3,910.61 L1180.3,910.71 L1182.3,910.81 L1184.3,910.9 L1186.3,911 L1188.3,911.1 L1190.3,911.19 L1192.3,911.29 L1194.3,911.39 L1196.3,911.49 L1198.3,911.59 L1200.3,911.69 L1202.3,911.79 L1204.3,911.89 L1206.3,911.99 L1208.3,912.09 L1210.3,912.19 L1212.3,912.3 L1214.3,912.4 L1216.3,912.5 L1218.3,912.6 L1220.3,912.71 L1222.3,912.81 L1224.3,912.92 L1226.3,913.02 L1228.3,913.13 L1230.3,913.23 L1232.3,913.34 L1234.3,913.44 L1236.3,913.55 L1238.3,913.66 L1240.3,913.76 L1242.3,913.87 L1244.3,913.98 L1246.3,914.09 L1248.3,914.2 L1250.3,914.3 L1252.3,914.41 L1254.3,914.52 L1256.3,914.63 L1258.3,914.74 L1260.3,914.85 L1262.3,914.96 L1264.3,915.07 L1266.3,915.18 L1268.3,915.3 L1270.3,915.41 L1272.3,915.52 L1274.3,915.63 L1276.3,915.74 L1278.3,915.85 L1280.3,915.97 L1282.3,916.08 L1284.3,916.19 L1286.3,916.31 L1288.3,916.42 L1290.3,916.53 L1292.3,916.65 L1294.3,916.76 L1296.3,916.88 L1298.3,916.99 L1300.3,917.1 L1302.3,917.22 L1304.3,917.33 L1306.3,917.45 L1308.3,917.56 L1310.3,917.68 L1312.3,917.79 L1314.3,917.91 L1316.3,918.03 L1318.3,918.14 L1320.3,918.26 L1322.3,918.37 L1324.3,918.49 L1326.3,918.61 L1328.3,918.72 L1330.3,918.84 L1332.3,918.96 L1334.3,919.07 L1336.3,919.19 L1338.3,919.31 L1340.3,919.42 L1342.3,919.54 L1344.3,919.66 L1346.3,919.78 L1348.3,919.89 L1350.3,920.01 L1352.3,920.13 L1354.3,920.25 L1356.3,920.36 L1358.3,920.48 L1360.3,920.6 L1362.3,920.72 L1364.3,920.83 L1366.3,920.95 L1368.3,921.07 L1370.3,921.19 L1372.3,921.3 L1374.3,921.42 L1376.3,921.54 L1378.3,921.66 L1380.3,921.77 L1382.3,921.89 L1384.3,922.01 L1386.3,922.13 L1388.3,922.25 L1390.3,922.36 L1392.3,922.48 L1394.3,922.6 L1396.3,922.71 L1398.3,922.83 L1400.3,922.95 L1402.3,923.07 L1404.3,923.18 L1406.3,923.3 L1408.3,923.42 L1410.3,923.53 L1412.3,923.65 L1414.3,923.77 L1416.3,923.88 L1418.3,924 L1420.3,924.12 L1422.3,924.23 L1424.3,924.35 L1426.3,924.47 L1428.3,924.58 L1430.3,924.7 L1432.3,924.81 L1434.3,924.93 L1436.3,925.04 L1438.3,925.16 L1440.3,925.27 L1442.3,925.39 L1444.3,925.5 L1446.3,925.62 L1448.3,925.73 L1450.3,925.85 L1452.3,925.96 L1454.3,926.07 L1456.3,926.19 L1458.3,926.3 L1460.3,926.41 L1462.3,926.53 L1464.3,926.64 L1466.3,926.75 L1468.3,926.86 L1470.3,926.97 L1472.3,927.09 L1474.3,927.2 L1476.3,927.31 L1478.3,927.42 L1480.3,927.53 L1482.3,927.64 L1484.3,927.75 L1486.3,927.86 L1488.3,927.97 L1490,928.06" stroke="#ababab" stroke-dasharray="17.5 17.5" stroke-linecap="butt" stroke-linejoin="round"/>
<path d="M104.3,919.06 L106.3,918.96 L108.3,918.87 L110.3,918.77 L112.3,918.68 L114.3,918.58 L116.3,918.49 L118.3,918.39 L120.3,918.29 L122.3,918.2 L124.3,918.1 L126.3,918.01 L128.3,917.91 L130.3,917.82 L132.3,917.72 L134.3,917.62 L136.3,917.53 L138.3,917.43 L140.3,917.34 L142.3,917.24 L144.3,917.14 L146.3,917.05 L148.3,916.95 L150.3,916.86 L152.3,916.76 L154.3,916.67 L156.3,916.57 L158.3,916.47 L160.3,916.38 L162.3,916.28 L164.3,916.19 L166.3,916.09 L168.3,916 L170.3,915.9 L172.3,915.81 L174.3,915.71 L176.3,915.61 L178.3,915.52 L180.3,915.42 L182.3,915.33 L184.3,915.23 L186.3,915.14 L188.3,915.04 L190.3,914.95 L192.3,914.86 L194.3,914.76 L196.3,914.67 L198.3,914.57 L200.3,914.48 L202.3,914.38 L204.3,914.29 L206.3,914.2 L208.3,914.1 L210.3,914.01 L212.3,913.91 L214.3,913.82 L216.3,913.73 L218.3,913.64 L220.3,913.54 L222.3,913.45 L224.3,913.36 L226.3,913.26 L228.3,913.17 L230.3,913.08 L232.3,912.99 L234.3,912.9 L236.3,912.8 L238.3,912.71 L240.3,912.62 L242.3,912.53 L244.3,912.44 L246.3,912.35 L248.3,912.26 L250.3,912.17 L252.3,912.08 L254.3,911.99 L256.3,911.9 L258.3,911.81 L260.3,911.72 L262.3,911.63 L264.3,911.54 L266.3,911.45 L268.3,911.36 L270.3,911.27 L272.3,911.19 L274.3,911.1 L276.3,911.01 L278.3,910.92 L280.3,910.84 L282.3,910.75 L284.3,910.66 L286.3,910.58 L288.3,910.49 L290.3,910.41 L292.3,910.32 L294.3,910.24 L296.3,910.15 L298.3,910.07 L300.3,909.98 L302.3,909.9 L304.3,909.81 L306.3,909.73 L308.3,909.65 L310.3,909.56 L312.3,909.48 L314.3,909.4 L316.3,909.32 L318.3,909.24 L320.3,909.15 L322.3,909.07 L324.3,908.99 L326.3,908.91 L328.3,908.83 L330.3,908.75 L332.3,908.67 L334.3,908.59 L336.3,908.52 L338.3,908.44 L340.3,908.36 L342.3,908.28 L344.3,908.2 L346.3,908.13 L348.3,908.05 L350.3,907.98 L352.3,907.9 L354.3,907.82 L356.3,907.75 L358.3,907.68 L360.3,907.6 L362.3,907.53 L364.3,907.45 L366.3,907.38 L368.3,907.31 L370.3,907.24 L372.3,907.16 L374.3,907.09 L376.3,907.02 L378.3,906.95 L380.3,906.88 L382.3,906.81 L384.3,906.74 L386.3,906.67 L388.3,906.61 L390.3,906.54 L392.3,906.47 L394.3,906.4 L396.3,906.34 L398.3,906.27 L400.3,906.21 L402.3,906.14 L404.3,906.08 L406.3,906.01 L408.3,905.95 L410.3,905.88 L412.3,905.82 L414.3,905.76 L416.3,905.7 L418.3,905.64 L420.3,905.58 L422.3,905.52 L424.3,905.46 L426.3,905.4 L428.3,905.34 L430.3,905.28 L432.3,905.22 L434.3,905.17 L436.3,905.11 L438.3,905.05 L440.3,905 L442.3,904.94 L444.3,904.89 L446.3,904.83 L448.3,904.78 L450.3,904.73 L452.3,904.67 L454.3,904.62 L456.3,904.57 L458.3,904.52 L460.3,904.47 L462.3,904.42 L464.3,904.37 L466.3,904.32 L468.3,904.28 L470.3,904.23 L472.3,904.18 L474.3,904.14 L476.3,904.09 L478.3,904.05 L480.3,904 L482.3,903.96 L484.3,903.92 L486.3,903.87 L488.3,903.83 L490.3,903.79 L492.3,903.75 L494.3,903.71 L496.3,903.67 L498.3,903.63 L500.3,903.6 L502.3,903.56 L504.3,903.52 L506.3,903.49 L508.3,903.45 L510.3,903.42 L512.3,903.38 L514.3,903.35 L516.3,903.32 L518.3,903.28 L520.3,903.25 L522.3,903.22 L524.3,903.19 L526.3,903.16 L528.3,903.13 L530.3,903.11 L532.3,903.08 L534.3,903.05 L536.3,903.03 L538.3,903 L540.3,902.98 L542.3,902.95 L544.3,902.93 L546.3,902.91 L548.3,902.89 L550.3,902.87 L552.3,902.85 L554.3,902.83 L556.3,902.81 L558.3,902.79 L560.3,902.77 L562.3,902.76 L564.3,902.74 L566.3,902.73 L568.3,902.71 L570.3,902.7 L572.3,902.69 L574.3,902.68 L576.3,902.67 L578.3,902.66 L580.3,902.65 L582.3,902.64 L584.3,902.63 L586.3,902.62 L588.3,902.62 L590.3,902.61 L592.3,902.61 L594.3,902.6 L596.3,902.6 L598.3,902.6 L600.3,902.6 L602.3,902.6 L604.3,902.6 L606.3,902.6 L608.3,902.6 L610.3,902.6 L612.3,902.61 L614.3,902.61 L616.3,902.62 L618.3,902.62 L620.3,902.63 L622.3,902.64 L624.3,902.65 L626.3,902.66 L628.3,902.67 L630.3,902.68 L632.3,902.69 L634.3,902.7 L636.3,902.72 L638.3,902.73 L640.3,902.75 L642.3,902.76 L644.3,902.78 L646.3,902.8 L648.3,902.82 L650.3,902.84 L652.3,902.86 L654.3,902.88 L656.3,902.91 L658.3,902.93 L660.3,902.96 L662.3,902.98 L664.3,903.01 L666.3,903.04 L668.3,903.06 L670.3,903.09 L672.3,903.12 L674.3,903.16 L676.3,903.19 L678.3,903.22 L680.3,903.26 L682.3,903.29 L684.3,903.33 L686.3,903.36 L688.3,903.4 L690.3,903.44 L692.3,903.48 L694.3,903.52 L696.3,903.57 L698.3,903.61 L700.3,903.65 L702.3,903.7 L704.3,903.74 L706.3,903.79 L708.3,903.84 L710.3,903.89 L712.3,903.94 L714.3,903.99 L716.3,904.04 L718.3,904.1 L720.3,904.15 L722.3,904.21 L724.3,904.26 L726.3,904.32 L728.3,904.38 L730.3,904.44 L732.3,904.5 L734.3,904.56 L736.3,904.62 L738.3,904.69 L740.3,904.75 L742.3,904.82 L744.3,904.88 L746.3,904.95 L748.3,905.02 L750.3,905.09 L752.3,905.16 L754.3,905.24 L756.3,905.31 L758.3,905.38 L760.3,905.46 L762.3,905.54 L764.3,905.61 L766.3,905.69 L768.3,905.77 L770.3,905.85 L772.3,905.94 L774.3,906.02 L776.3,906.11 L778.3,906.19 L780.3,906.28 L782.3,906.37 L784.3,906.45 L786.3,906.54 L788.3,906.64 L790.3,906.73 L792.3,906.82 L794.3,906.92 L796.3,907.01 L798.3,907.11 L800.3,907.2 L802.3,907.3 L804.3,907.4 L806.3,907.5 L808.3,907.6 L810.3,907.71 L812.3,907.81 L814.3,907.91 L816.3,908.02 L818.3,908.13 L820.3,908.23 L822.3,908.34 L824.3,908.45 L826.3,908.56 L828.3,908.67 L830.3,908.78 L832.3,908.9 L834.3,909.01 L836.3,909.12 L838.3,909.24 L840.3,909.36 L842.3,909.47 L844.3,909.59 L846.3,909.71 L848.3,909.83 L850.3,909.95 L852.3,910.07 L854.3,910.19 L856.3,910.32 L858.3,910.44 L860.3,910.56 L862.3,910.69 L864.3,910.82 L866.3,910.94 L868.3,911.07 L870.3,911.2 L872.3,911.33 L874.3,911.46 L876.3,911.59 L878.3,911.72 L880.3,911.85 L882.3,911.98 L884.3,912.12 L886.3,912.25 L888.3,912.39 L890.3,912.52 L892.3,912.66 L894.3,912.8 L896.3,912.93 L898.3,913.07 L900.3,913.21 L902.3,913.35 L904.3,913.49 L906.3,913.63 L908.3,913.77 L910.3,913.92 L912.3,914.06 L914.3,914.2 L916.3,914.35 L918.3,914.49 L920.3,914.63 L922.3,914.78 L924.3,914.93 L926.3,915.07 L928.3,915.22 L930.3,915.37 L932.3,915.52 L934.3,915.67 L936.3,915.82 L938.3,915.97 L940.3,916.12 L942.3,916.27 L944.3,916.42 L946.3,916.57 L948.3,916.72 L950.3,916.88 L952.3,917.03 L954.3,917.18 L956.3,917.34 L958.3,917.49 L960.3,917.65 L962.3,917.8 L964.3,917.96 L966.3,918.11 L968.3,918.27 L970.3,918.43 L972.3,918.59 L974.3,918.74 L976.3,918.9 L978.3,919.06 L980.3,919.22 L982.3,919.38 L984.3,919.54 L986.3,919.7 L988.3,919.86 L990.3,920.02 L992.3,920.18 L994.3,920.34 L996.3,920.5 L998.3,920.67 L1000.3,920.83 L1002.3,920.99 L1004.3,921.15 L1006.3,921.32 L1008.3,921.48 L1010.3,921.64 L1012.3,921.81 L1014.3,921.97 L1016.3,922.13 L1018.3,922.3 L1020.3,922.46 L1022.3,922.63 L1024.3,922.79 L1026.3,922.96 L1028.3,923.12 L1030.3,923.29 L1032.3,923.46 L1034.3,923.62 L1036.3,923.79 L1038.3,923.96 L1040.3,924.12 L1042.3,924.29 L1044.3,924.46 L1046.3,924.62 L1048.3,924.79 L1050.3,924.96 L1052.3,925.13 L1054.3,925.3 L1056.3,925.46 L1058.3,925.63 L1060.3,925.8 L1062.3,925.97 L1064.3,926.14 L1066.3,926.31 L1068.3,926.48 L1070.3,926.65 L1072.3,926.82 L1074.3,926.99 L1076.3,927.16 L1078.3,927.33 L1080.3,927.5 L1082.3,927.67 L1084.3,927.84 L1086.3,928.01 L1088.3,928.18 L1090.3,928.35 L1092.3,928.53 L1094.3,928.7 L1096.3,928.87 L1098.3,929.04 L1100.3,929.21 L1102.3,929.38 L1104.3,929.56 L1106.3,929.73 L1108.3,929.9 L1110.3,930.07 L1112.3,930.25 L1114.3,930.42 L1116.3,930.59 L1118.3,930.77 L1120.3,930.94 L1122.3,931.11 L1124.3,931.28 L1126.3,931.46 L1128.3,931.63 L1130.3,931.8 L1132.3,931.98 L1134.3,932.15 L1136.3,932.33 L1138.3,932.5 L1140.3,932.67 L1142.3,932.85 L1144.3,933.02 L1146.3,933.19 L1148.3,933.37 L1150.3,933.54 L1152.3,933.72 L1154.3,933.89 L1156.3,934.07 L1158.3,934.24 L1160.3,934.41 L1162.3,934.59 L1164.3,934.76 L1166.3,934.94 L1168.3,935.11 L1170.3,935.29 L1172.3,935.46 L1174.3,935.63 L1176.3,935.81 L1178.3,935.98 L1180.3,936.16 L1182.3,936.33 L1184.3,936.51 L1186.3,936.68 L1188.3,936.86 L1190.3,937.03 L1192.3,937.21 L1194.3,937.38 L1196.3,937.56 L1198.3,937.73 L1200.3,937.9 L1202.3,938.08 L1204.3,938.25 L1206.3,938.43 L1208.3,938.6 L1210.3,938.78 L1212.3,938.95 L1214.3,939.13 L1216.3,939.3 L1218.3,939.47 L1220.3,939.65 L1222.3,939.82 L1224.3,940 L1226.3,940.17 L1228.3,940.34 L1230.3,940.52 L1232.3,940.69 L1234.3,940.87 L1236.3,941.04 L1238.3,941.21 L1240.3,941.39 L1242.3,941.56 L1244.3,941.73 L1246.3,941.91 L1248.3,942.08 L1250.3,942.25 L1252.3,942.43 L1254.3,942.6 L1256.3,942.77 L1258.3,942.95 L1260.3,943.12 L1262.3,943.29 L1264.3,943.46 L1266.3,943.64 L1268.3,943.81 L1270.3,943.98 L1272.3,944.15 L1274.3,944.32 L1276.3,944.5 L1278.3,944.67 L1280.3,944.84 L1282.3,945.01 L1284.3,945.18 L1286.3,945.35 L1288.3,945.52 L1290.3,945.69 L1292.3,945.87 L1294.3,946.04 L1296.3,946.21 L1298.3,946.38 L1300.3,946.55 L1302.3,946.72 L1304.3,946.89 L1306.3,947.06 L1308.3,947.22 L1310.3,947.39 L1312.3,947.56 L1314.3,947.73 L1316.3,947.9 L1318.3,948.07 L1320.3,948.24 L1322.3,948.41 L1324.3,948.57 L1326.3,948.74 L1328.3,948.91 L1330.3,949.08 L1332.3,949.24 L1334.3,949.41 L1336.3,949.58 L1338.3,949.74 L1340.3,949.91 L1342.3,950.08 L1344.3,950.24 L1346.3,950.41 L1348.3,950.57 L1350.3,950.74 L1352.3,950.9 L1354.3,951.07 L1356.3,951.23 L1358.3,951.4 L1360.3,951.56 L1362.3,951.72 L1364.3,951.89 L1366.3,952.05 L1368.3,952.21 L1370.3,952.38 L1372.3,952.54 L1374.3,952.7 L1376.3,952.86 L1378.3,953.02 L1380.3,953.19 L1382.3,953.35 L1384.3,953.51 L1386.3,953.67 L1388.3,953.83 L1390.3,953.99 L1392.3,954.15 L1394.3,954.31 L1396.3,954.47 L1398.3,954.62 L1400.3,954.78 L1402.3,954.94 L1404.3,955.1 L1406.3,955.26 L1408.3,955.41 L1410.3,955.57 L1412.3,955.73 L1414.3,955.88 L1416.3,956.04 L1418.3,956.2 L1420.3,956.35 L1422.3,956.51 L1424.3,956.66 L1426.3,956.81 L1428.3,956.97 L1430.3,957.12 L1432.3,957.28 L1434.3,957.43 L1436.3,957.58 L1438.3,957.73 L1440.3,957.88 L1442.3,958.04 L1444.3,958.19 L1446.3,958.34 L1448.3,958.49 L1450.3,958.64 L1452.3,958.79 L1454.3,958.94 L1456.3,959.09 L1458.3,959.23 L1460.3,959.38 L1462.3,959.53 L1464.3,959.68 L1466.3,959.83 L1468.3,959.97 L1470.3,960.12 L1472.3,960.26 L1474.3,960.41 L1476.3,960.55 L1478.3,960.7 L1480.3,960.84 L1482.3,960.99 L1484.3,961.13 L1486.3,961.27 L1488.3,961.41 L1490,961.54" stroke="#ababab" stroke-dasharray="14.5 11 0.01 11" stroke-linecap="round" stroke-linejoin="round"/>
<path d="M104.3,930.8 L106.3,930.82 L108.3,930.84 L110.3,930.86 L112.3,930.88 L114.3,930.9 L116.3,930.91 L118.3,930.93 L120.3,930.95 L122.3,930.97 L124.3,930.99 L126.3,931.01 L128.3,931.04 L130.3,931.06 L132.3,931.08 L134.3,931.1 L136.3,931.12 L138.3,931.15 L140.3,931.17 L142.3,931.19 L144.3,931.22 L146.3,931.24 L148.3,931.27 L150.3,931.29 L152.3,931.32 L154.3,931.35 L156.3,931.37 L158.3,931.4 L160.3,931.43 L162.3,931.46 L164.3,931.49 L166.3,931.52 L168.3,931.55 L170.3,931.58 L172.3,931.62 L174.3,931.65 L176.3,931.69 L178.3,931.72 L180.3,931.76 L182.3,931.79 L184.3,931.83 L186.3,931.87 L188.3,931.91 L190.3,931.95 L192.3,931.99 L194.3,932.04 L196.3,932.08 L198.3,932.12 L200.3,932.17 L202.3,932.21 L204.3,932.26 L206.3,932.31 L208.3,932.36 L210.3,932.41 L212.3,932.46 L214.3,932.52 L216.3,932.57 L218.3,932.63 L220.3,932.68 L222.3,932.74 L224.3,932.8 L226.3,932.86 L228.3,932.92 L230.3,932.98 L232.3,933.05 L234.3,933.11 L236.3,933.18 L238.3,933.25 L240.3,933.32 L242.3,933.39 L244.3,933.46 L246.3,933.54 L248.3,933.61 L250.3,933.69 L252.3,933.77 L254.3,933.85 L256.3,933.93 L258.3,934.01 L260.3,934.1 L262.3,934.19 L264.3,934.27 L266.3,934.36 L268.3,934.45 L270.3,934.55 L272.3,934.64 L274.3,934.74 L276.3,934.84 L278.3,934.94 L280.3,935.04 L282.3,935.14 L284.3,935.25 L286.3,935.35 L288.3,935.46 L290.3,935.57 L292.3,935.69 L294.3,935.8 L296.3,935.92 L298.3,936.04 L300.3,936.16 L302.3,936.28 L304.3,936.41 L306.3,936.53 L308.3,936.66 L310.3,936.79 L312.3,936.92 L314.3,937.06 L316.3,937.2 L318.3,937.34 L320.3,937.48 L322.3,937.62 L324.3,937.77 L326.3,937.92 L328.3,938.07 L330.3,938.22 L332.3,938.37 L334.3,938.53 L336.3,938.69 L338.3,938.85 L340.3,939.02 L342.3,939.18 L344.3,939.35 L346.3,939.52 L348.3,939.7 L350.3,939.87 L352.3,940.05 L354.3,940.23 L356.3,940.42 L358.3,940.6 L360.3,940.79 L362.3,940.98 L364.3,941.18 L366.3,941.37 L368.3,941.57 L370.3,941.77 L372.3,941.98 L374.3,942.19 L376.3,942.4 L378.3,942.61 L380.3,942.82 L382.3,943.04 L384.3,943.26 L386.3,943.49 L388.3,943.71 L390.3,943.94 L392.3,944.17 L394.3,944.41 L396.3,944.65 L398.3,944.89 L400.3,945.13 L402.3,945.38 L404.3,945.63 L406.3,945.88 L408.3,946.14 L410.3,946.4 L412.3,946.66 L414.3,946.92 L416.3,947.19 L418.3,947.46 L420.3,947.74 L422.3,948.01 L424.3,948.29 L426.3,948.58 L428.3,948.86 L430.3,949.15 L432.3,949.45 L434.3,949.74 L436.3,950.04 L438.3,950.35 L440.3,950.65 L442.3,950.96 L444.3,951.28 L446.3,951.59 L448.3,951.91 L450.3,952.24 L452.3,952.56 L454.3,952.89 L456.3,953.23 L458.3,953.57 L460.3,953.91 L462.3,954.25 L464.3,954.6 L466.3,954.95 L468.3,955.3 L470.3,955.66 L472.3,956.03 L474.3,956.39 L476.3,956.76 L478.3,957.13 L480.3,957.51 L482.3,957.89 L484.3,958.28 L486.3,958.66 L488.3,959.06 L490.3,959.45 L492.3,959.85 L494.3,960.25 L496.3,960.66 L498.3,961.07 L500.3,961.49 L502.3,961.91 L504.3,962.33 L506.3,962.76 L508.3,963.19 L510.3,963.62 L512.3,964.06 L514.3,964.5 L516.3,964.95 L518.3,965.4 L520.3,965.85 L522.3,966.31 L524.3,966.78 L526.3,967.24 L528.3,967.72 L530.3,968.19 L532.3,968.67 L534.3,969.15 L536.3,969.64 L538.3,970.14 L540.3,970.63 L542.3,971.13 L544.3,971.64 L546.3,972.15 L548.3,972.67 L550.3,973.19 L552.3,973.71 L554.3,974.25 L556.3,974.79 L558.3,975.33 L560.3,975.88 L562.3,976.44 L564.3,977.01 L566.3,977.59 L568.3,978.17 L570.3,978.76 L572.3,979.36 L574.3,979.97 L576.3,980.59 L578.3,981.21 L580.3,981.85 L582.3,982.49 L584.3,983.15 L586.3,983.82 L588.3,984.5 L590.3,985.18 L592.3,985.88 L594.3,986.6 L596.3,987.32 L598.3,988.05 L600.3,988.8 L602.3,989.56 L604.3,990.34 L606.3,991.12 L608.3,991.92 L610.3,992.74 L612.3,993.57 L614.3,994.41 L616.3,995.27 L618.3,996.14 L620.3,997.03 L622.3,997.93 L624.3,998.85 L626.3,999.78 L628.3,1000.73 L630.3,1001.7 L632.3,1002.68 L634.3,1003.69 L636.3,1004.7 L638.3,1005.74 L640.3,1006.8 L642.3,1007.87 L644.3,1008.96 L646.3,1010.07 L648.3,1011.2 L650.3,1012.35 L652.3,1013.52 L654.3,1014.7 L656.3,1015.91 L658.3,1017.14 L660.3,1018.39 L662.3,1019.66 L664.3,1020.95 L666.3,1022.27 L668.3,1023.6 L670.3,1024.96 L672.3,1026.34 L674.3,1027.74 L676.3,1029.17 L678.3,1030.62 L680.3,1032.09 L682.3,1033.59 L684.3,1035.11 L686.3,1036.65 L688.3,1038.22 L690.3,1039.82 L692.3,1041.44 L694.3,1043.08 L696.3,1044.75 L698.3,1046.45 L700.3,1048.17 L702.3,1049.92 L704.3,1051.7 L706.3,1053.5 L708.3,1055.33 L710.3,1057.19 L712.3,1059.08 L714.3,1061 L716.3,1062.94 L718.3,1064.91 L720.3,1066.92 L722.3,1068.95 L724.3,1071.01 L726.3,1073.12 L728.3,1075.27 L730.3,1077.47 L732.3,1079.72 L734.3,1082.03 L736.3,1084.4 L738.3,1086.83 L740.3,1089.34 L742.3,1091.92 L744.3,1094.59 L746.3,1097.33 L748.3,1100.17 L750.3,1103.1 L752.3,1106.13 L754.3,1109.26 L756.3,1112.5 L758.3,1115.85 L760.3,1119.31 L762.3,1122.9 L764.3,1126.61 L766.3,1130.46 L768.3,1134.43 L770.3,1138.55 L772.3,1142.8 L774.3,1147.16 L776.3,1151.6 L778.3,1156.09 L780.3,1160.6 L782.3,1165.1 L784.3,1169.56 L786.3,1173.95 L788.3,1178.24 L790.3,1182.4 L792.3,1186.41 L794.3,1190.23 L796.3,1193.83 L797,1195.03 L799,1191.19 L801,1187.25 L803,1183.24 L805,1179.17 L807,1175.05 L809,1170.89 L811,1166.72 L813,1162.54 L815,1158.37 L817,1154.21 L819,1150.08 L821,1145.99 L823,1141.95 L825,1137.97 L827,1134.06 L829,1130.24 L831,1126.51 L833,1122.89 L835,1119.38 L837,1115.98 L839,1112.69 L841,1109.5 L843,1106.4 L845,1103.4 L847,1100.49 L849,1097.65 L851,1094.9 L853,1092.22 L855,1089.61 L857,1087.07 L859,1084.59 L861,1082.17 L863,1079.8 L865,1077.47 L867,1075.19 L869,1072.95 L871,1070.75 L873,1068.59 L875,1066.47 L877,1064.38 L879,1062.33 L881,1060.32 L883,1058.34 L885,1056.41 L887,1054.5 L889,1052.63 L891,1050.8 L893,1049 L895,1047.23 L897,1045.49 L899,1043.79 L901,1042.12 L903,1040.49 L905,1038.88 L907,1037.31 L909,1035.76 L911,1034.25 L913,1032.76 L915,1031.31 L917,1029.88 L919,1028.49 L921,1027.12 L923,1025.77 L925,1024.46 L927,1023.17 L929,1021.91 L931,1020.67 L933,1019.46 L935,1018.27 L937,1017.11 L939,1015.97 L941,1014.85 L943,1013.76 L945,1012.69 L947,1011.65 L949,1010.62 L951,1009.62 L953,1008.63 L955,1007.67 L957,1006.73 L959,1005.8 L961,1004.9 L963,1004.01 L965,1003.15 L967,1002.3 L969,1001.47 L971,1000.65 L973,999.85 L975,999.07 L977,998.3 L979,997.55 L981,996.81 L983,996.09 L985,995.38 L987,994.68 L989,994 L991,993.33 L993,992.67 L995,992.02 L997,991.38 L999,990.76 L1001,990.14 L1003,989.54 L1005,988.94 L1007,988.35 L1009,987.78 L1011,987.2 L1013,986.64 L1015,986.09 L1017,985.54 L1019,984.99 L1021,984.46 L1023,983.93 L1025,983.4 L1027,982.88 L1029,982.36 L1031,981.85 L1033,981.34 L1035,980.84 L1037,980.34 L1039,979.85 L1041,979.36 L1043,978.88 L1045,978.4 L1047,977.93 L1049,977.46 L1051,976.99 L1053,976.53 L1055,976.08 L1057,975.62 L1059,975.18 L1061,974.73 L1063,974.29 L1065,973.86 L1067,973.43 L1069,973 L1071,972.58 L1073,972.16 L1075,971.74 L1077,971.33 L1079,970.93 L1081,970.52 L1083,970.12 L1085,969.73 L1087,969.33 L1089,968.95 L1091,968.56 L1093,968.18 L1095,967.8 L1097,967.43 L1099,967.06 L1101,966.69 L1103,966.32 L1105,965.96 L1107,965.6 L1109,965.25 L1111,964.9 L1113,964.55 L1115,964.2 L1117,963.86 L1119,963.52 L1121,963.19 L1123,962.85 L1125,962.52 L1127,962.19 L1129,961.87 L1131,961.54 L1133,961.22 L1135,960.91 L1137,960.59 L1139,960.28 L1141,959.97 L1143,959.66 L1145,959.36 L1147,959.06 L1149,958.76 L1151,958.46 L1153,958.16 L1155,957.87 L1157,957.58 L1159,957.29 L1161,957 L1163,956.71 L1165,956.43 L1167,956.15 L1169,955.87 L1171,955.59 L1173,955.32 L1175,955.04 L1177,954.77 L1179,954.5 L1181,954.23 L1183,953.96 L1185,953.69 L1187,953.43 L1189,953.17 L1191,952.9 L1193,952.64 L1195,952.38 L1197,952.12 L1199,951.87 L1201,951.61 L1203,951.36 L1205,951.1 L1207,950.85 L1209,950.6 L1211,950.35 L1213,950.1 L1215,949.85 L1217,949.6 L1219,949.35 L1221,949.11 L1223,948.86 L1225,948.62 L1227,948.37 L1229,948.13 L1231,947.88 L1233,947.64 L1235,947.4 L1237,947.15 L1239,946.91 L1241,946.67 L1243,946.43 L1245,946.19 L1247,945.94 L1249,945.7 L1251,945.46 L1253,945.22 L1255,944.98 L1257,944.74 L1259,944.5 L1261,944.26 L1263,944.01 L1265,943.77 L1267,943.53 L1269,943.29 L1271,943.04 L1273,942.8 L1275,942.56 L1277,942.31 L1279,942.07 L1281,941.82 L1283,941.57 L1285,941.33 L1287,941.08 L1289,940.83 L1291,940.58 L1293,940.33 L1295,940.08 L1297,939.83 L1299,939.57 L1301,939.32 L1303,939.07 L1305,938.81 L1307,938.55 L1309,938.29 L1311,938.04 L1313,937.78 L1315,937.52 L1317,937.26 L1319,937 L1321,936.74 L1323,936.47 L1325,936.21 L1327,935.95 L1329,935.69 L1331,935.43 L1333,935.17 L1335,934.91 L1337,934.65 L1339,934.39 L1341,934.13 L1343,933.87 L1345,933.61 L1347,933.35 L1349,933.1 L1351,932.84 L1353,932.59 L1355,932.33 L1357,932.08 L1359,931.83 L1361,931.58 L1363,931.33 L1365,931.09 L1367,930.84 L1369,930.6 L1371,930.35 L1373,930.11 L1375,929.87 L1377,929.64 L1379,929.4 L1381,929.17 L1383,928.94 L1385,928.71 L1387,928.49 L1389,928.26 L1391,928.04 L1393,927.83 L1395,927.61 L1397,927.4 L1399,927.19 L1401,926.98 L1403,926.78 L1405,926.58 L1407,926.38 L1409,926.18 L1411,925.99 L1413,925.81 L1415,925.62 L1417,925.44 L1419,925.26 L1421,925.09 L1423,924.92 L1425,924.76 L1427,924.59 L1429,924.44 L1431,924.28 L1433,924.14 L1435,923.99 L1437,923.85 L1439,923.71 L1441,923.58 L1443,923.46 L1445,923.33 L1447,923.22 L1449,923.1 L1451,923 L1453,922.89 L1455,922.8 L1457,922.7 L1459,922.62 L1461,922.53 L1463,922.46 L1465,922.39 L1467,922.32 L1469,922.26 L1471,922.21 L1473,922.16 L1475,922.12 L1477,922.08 L1479,922.05 L1481,922.03 L1483,922.01 L1485,922 L1487,921.99 L1489,922 L1490,922" stroke="#ababab" stroke-dasharray="4.2 4.56" stroke-linecap="butt" stroke-linejoin="round"/>
<path d="M104.3,952.99 L106.3,953.05 L108.3,953.12 L110.3,953.18 L112.3,953.24 L114.3,953.3 L116.3,953.36 L118.3,953.42 L120.3,953.48 L122.3,953.53 L124.3,953.59 L126.3,953.65 L128.3,953.7 L130.3,953.75 L132.3,953.81 L134.3,953.86 L136.3,953.91 L138.3,953.96 L140.3,954.02 L142.3,954.07 L144.3,954.12 L146.3,954.16 L148.3,954.21 L150.3,954.26 L152.3,954.31 L154.3,954.36 L156.3,954.4 L158.3,954.45 L160.3,954.5 L162.3,954.54 L164.3,954.59 L166.3,954.63 L168.3,954.68 L170.3,954.72 L172.3,954.77 L174.3,954.81 L176.3,954.86 L178.3,954.9 L180.3,954.95 L182.3,954.99 L184.3,955.04 L186.3,955.08 L188.3,955.13 L190.3,955.17 L192.3,955.22 L194.3,955.26 L196.3,955.31 L198.3,955.35 L200.3,955.4 L202.3,955.44 L204.3,955.49 L206.3,955.53 L208.3,955.58 L210.3,955.63 L212.3,955.67 L214.3,955.72 L216.3,955.77 L218.3,955.82 L220.3,955.87 L222.3,955.92 L224.3,955.97 L226.3,956.02 L228.3,956.07 L230.3,956.12 L232.3,956.17 L234.3,956.23 L236.3,956.28 L238.3,956.33 L240.3,956.39 L242.3,956.45 L244.3,956.5 L246.3,956.56 L248.3,956.62 L250.3,956.68 L252.3,956.74 L254.3,956.8 L256.3,956.86 L258.3,956.92 L260.3,956.99 L262.3,957.05 L264.3,957.12 L266.3,957.19 L268.3,957.26 L270.3,957.33 L272.3,957.4 L274.3,957.47 L276.3,957.54 L278.3,957.62 L280.3,957.69 L282.3,957.77 L284.3,957.85 L286.3,957.93 L288.3,958.01 L290.3,958.09 L292.3,958.17 L294.3,958.26 L296.3,958.35 L298.3,958.44 L300.3,958.53 L302.3,958.62 L304.3,958.71 L306.3,958.8 L308.3,958.9 L310.3,959 L312.3,959.1 L314.3,959.2 L316.3,959.3 L318.3,959.41 L320.3,959.52 L322.3,959.62 L324.3,959.74 L326.3,959.85 L328.3,959.96 L330.3,960.08 L332.3,960.2 L334.3,960.32 L336.3,960.44 L338.3,960.56 L340.3,960.69 L342.3,960.82 L344.3,960.95 L346.3,961.08 L348.3,961.22 L350.3,961.36 L352.3,961.5 L354.3,961.64 L356.3,961.78 L358.3,961.93 L360.3,962.08 L362.3,962.23 L364.3,962.38 L366.3,962.54 L368.3,962.7 L370.3,962.86 L372.3,963.02 L374.3,963.19 L376.3,963.35 L378.3,963.53 L380.3,963.7 L382.3,963.88 L384.3,964.06 L386.3,964.24 L388.3,964.42 L390.3,964.61 L392.3,964.8 L394.3,964.99 L396.3,965.19 L398.3,965.39 L400.3,965.59 L402.3,965.79 L404.3,966 L406.3,966.21 L408.3,966.42 L410.3,966.64 L412.3,966.86 L414.3,967.08 L416.3,967.3 L418.3,967.53 L420.3,967.77 L422.3,968 L424.3,968.24 L426.3,968.48 L428.3,968.72 L430.3,968.97 L432.3,969.22 L434.3,969.48 L436.3,969.74 L438.3,970 L440.3,970.26 L442.3,970.53 L444.3,970.8 L446.3,971.08 L448.3,971.35 L450.3,971.64 L452.3,971.92 L454.3,972.21 L456.3,972.5 L458.3,972.8 L460.3,973.1 L462.3,973.41 L464.3,973.71 L466.3,974.02 L468.3,974.34 L470.3,974.66 L472.3,974.98 L474.3,975.31 L476.3,975.64 L478.3,975.97 L480.3,976.31 L482.3,976.66 L484.3,977 L486.3,977.35 L488.3,977.71 L490.3,978.07 L492.3,978.43 L494.3,978.8 L496.3,979.17 L498.3,979.54 L500.3,979.92 L502.3,980.31 L504.3,980.69 L506.3,981.09 L508.3,981.48 L510.3,981.89 L512.3,982.29 L514.3,982.7 L516.3,983.11 L518.3,983.53 L520.3,983.96 L522.3,984.38 L524.3,984.82 L526.3,985.25 L528.3,985.7 L530.3,986.14 L532.3,986.59 L534.3,987.05 L536.3,987.51 L538.3,987.97 L540.3,988.44 L542.3,988.92 L544.3,989.4 L546.3,989.88 L548.3,990.37 L550.3,990.86 L552.3,991.36 L554.3,991.87 L556.3,992.37 L558.3,992.89 L560.3,993.41 L562.3,993.93 L564.3,994.46 L566.3,994.99 L568.3,995.53 L570.3,996.08 L572.3,996.63 L574.3,997.18 L576.3,997.74 L578.3,998.3 L580.3,998.88 L582.3,999.45 L584.3,1000.03 L586.3,1000.62 L588.3,1001.21 L590.3,1001.81 L592.3,1002.41 L594.3,1003.02 L596.3,1003.63 L598.3,1004.25 L600.3,1004.88 L602.3,1005.51 L604.3,1006.14 L606.3,1006.79 L608.3,1007.44 L610.3,1008.09 L612.3,1008.76 L614.3,1009.43 L616.3,1010.11 L618.3,1010.81 L620.3,1011.51 L622.3,1012.22 L624.3,1012.94 L626.3,1013.68 L628.3,1014.42 L630.3,1015.18 L632.3,1015.95 L634.3,1016.73 L636.3,1017.52 L638.3,1018.33 L640.3,1019.16 L642.3,1020 L644.3,1020.85 L646.3,1021.72 L648.3,1022.6 L650.3,1023.5 L652.3,1024.42 L654.3,1025.36 L656.3,1026.31 L658.3,1027.28 L660.3,1028.27 L662.3,1029.28 L664.3,1030.31 L666.3,1031.36 L668.3,1032.43 L670.3,1033.52 L672.3,1034.64 L674.3,1035.77 L676.3,1036.93 L678.3,1038.11 L680.3,1039.31 L682.3,1040.54 L684.3,1041.79 L686.3,1043.06 L688.3,1044.36 L690.3,1045.69 L692.3,1047.04 L694.3,1048.42 L696.3,1049.82 L698.3,1051.26 L700.3,1052.74 L702.3,1054.25 L704.3,1055.81 L706.3,1057.42 L708.3,1059.08 L710.3,1060.79 L712.3,1062.57 L714.3,1064.4 L716.3,1066.31 L718.3,1068.28 L720.3,1070.33 L722.3,1072.45 L724.3,1074.65 L726.3,1076.91 L728.3,1079.24 L730.3,1081.62 L732.3,1084.05 L734.3,1086.52 L736.3,1089.04 L738.3,1091.58 L740.3,1094.16 L742.3,1096.77 L744.3,1099.41 L746.3,1102.09 L748.3,1104.82 L750.3,1107.61 L752.3,1110.46 L754.3,1113.39 L756.3,1116.4 L758.3,1119.51 L760.3,1122.71 L762.3,1126.01 L764.3,1129.43 L766.3,1132.97 L768.3,1136.64 L770.3,1140.45 L772.3,1144.41 L774.3,1148.52 L776.3,1152.78 L778.3,1157.21 L780.3,1161.8 L782.3,1166.55 L784.3,1171.48 L786.3,1176.59 L788.3,1181.87 L790.3,1187.34 L792.3,1192.99 L793,1195.01 L795,1189.92 L797,1185.02 L799,1180.25 L801,1175.6 L803,1171.06 L805,1166.64 L807,1162.33 L809,1158.13 L811,1154.04 L813,1150.05 L815,1146.16 L817,1142.38 L819,1138.69 L821,1135.1 L823,1131.6 L825,1128.19 L827,1124.87 L829,1121.63 L831,1118.48 L833,1115.41 L835,1112.41 L837,1109.49 L839,1106.64 L841,1103.86 L843,1101.16 L845,1098.51 L847,1095.93 L849,1093.41 L851,1090.95 L853,1088.54 L855,1086.19 L857,1083.89 L859,1081.63 L861,1079.43 L863,1077.26 L865,1075.14 L867,1073.05 L869,1071 L871,1068.99 L873,1067.01 L875,1065.06 L877,1063.15 L879,1061.27 L881,1059.42 L883,1057.61 L885,1055.82 L887,1054.07 L889,1052.35 L891,1050.67 L893,1049.01 L895,1047.38 L897,1045.78 L899,1044.21 L901,1042.67 L903,1041.16 L905,1039.68 L907,1038.22 L909,1036.79 L911,1035.39 L913,1034.02 L915,1032.67 L917,1031.35 L919,1030.05 L921,1028.78 L923,1027.53 L925,1026.3 L927,1025.1 L929,1023.92 L931,1022.77 L933,1021.64 L935,1020.53 L937,1019.44 L939,1018.37 L941,1017.33 L943,1016.3 L945,1015.29 L947,1014.31 L949,1013.34 L951,1012.39 L953,1011.46 L955,1010.55 L957,1009.66 L959,1008.78 L961,1007.92 L963,1007.08 L965,1006.26 L967,1005.44 L969,1004.65 L971,1003.87 L973,1003.1 L975,1002.35 L977,1001.61 L979,1000.89 L981,1000.17 L983,999.47 L985,998.79 L987,998.11 L989,997.45 L991,996.79 L993,996.15 L995,995.52 L997,994.89 L999,994.28 L1001,993.67 L1003,993.08 L1005,992.49 L1007,991.91 L1009,991.33 L1011,990.77 L1013,990.21 L1015,989.65 L1017,989.11 L1019,988.56 L1021,988.02 L1023,987.49 L1025,986.96 L1027,986.44 L1029,985.92 L1031,985.4 L1033,984.89 L1035,984.38 L1037,983.87 L1039,983.37 L1041,982.88 L1043,982.38 L1045,981.89 L1047,981.41 L1049,980.93 L1051,980.45 L1053,979.98 L1055,979.51 L1057,979.05 L1059,978.59 L1061,978.13 L1063,977.68 L1065,977.23 L1067,976.78 L1069,976.34 L1071,975.9 L1073,975.47 L1075,975.04 L1077,974.61 L1079,974.19 L1081,973.77 L1083,973.35 L1085,972.94 L1087,972.53 L1089,972.13 L1091,971.73 L1093,971.33 L1095,970.94 L1097,970.55 L1099,970.16 L1101,969.78 L1103,969.4 L1105,969.02 L1107,968.65 L1109,968.28 L1111,967.91 L1113,967.55 L1115,967.19 L1117,966.83 L1119,966.48 L1121,966.13 L1123,965.79 L1125,965.44 L1127,965.1 L1129,964.77 L1131,964.44 L1133,964.11 L1135,963.78 L1137,963.46 L1139,963.14 L1141,962.82 L1143,962.51 L1145,962.2 L1147,961.89 L1149,961.58 L1151,961.28 L1153,960.98 L1155,960.69 L1157,960.4 L1159,960.11 L1161,959.82 L1163,959.54 L1165,959.26 L1167,958.98 L1169,958.71 L1171,958.44 L1173,958.17 L1175,957.9 L1177,957.64 L1179,957.38 L1181,957.12 L1183,956.87 L1185,956.61 L1187,956.36 L1189,956.12 L1191,955.87 L1193,955.63 L1195,955.39 L1197,955.16 L1199,954.93 L1201,954.7 L1203,954.47 L1205,954.24 L1207,954.02 L1209,953.8 L1211,953.58 L1213,953.37 L1215,953.16 L1217,952.95 L1219,952.74 L1221,952.53 L1223,952.33 L1225,952.13 L1227,951.93 L1229,951.74 L1231,951.54 L1233,951.35 L1235,951.16 L1237,950.98 L1239,950.79 L1241,950.61 L1243,950.43 L1245,950.25 L1247,950.08 L1249,949.91 L1251,949.74 L1253,949.57 L1255,949.4 L1257,949.24 L1259,949.08 L1261,948.92 L1263,948.76 L1265,948.6 L1267,948.45 L1269,948.3 L1271,948.15 L1273,948 L1275,947.85 L1277,947.71 L1279,947.57 L1281,947.43 L1283,947.29 L1285,947.15 L1287,947.02 L1289,946.88 L1291,946.75 L1293,946.62 L1295,946.5 L1297,946.37 L1299,946.25 L1301,946.13 L1303,946.01 L1305,945.89 L1307,945.77 L1309,945.65 L1311,945.54 L1313,945.43 L1315,945.32 L1317,945.21 L1319,945.1 L1321,945 L1323,944.89 L1325,944.79 L1327,944.69 L1329,944.59 L1331,944.49 L1333,944.39 L1335,944.3 L1337,944.2 L1339,944.11 L1341,944.02 L1343,943.93 L1345,943.84 L1347,943.76 L1349,943.67 L1351,943.58 L1353,943.5 L1355,943.42 L1357,943.34 L1359,943.26 L1361,943.18 L1363,943.1 L1365,943.03 L1367,942.95 L1369,942.88 L1371,942.81 L1373,942.73 L1375,942.66 L1377,942.59 L1379,942.53 L1381,942.46 L1383,942.39 L1385,942.33 L1387,942.26 L1389,942.2 L1391,942.14 L1393,942.07 L1395,942.01 L1397,941.95 L1399,941.89 L1401,941.84 L1403,941.78 L1405,941.72 L1407,941.67 L1409,941.61 L1411,941.56 L1413,941.5 L1415,941.45 L1417,941.4 L1419,941.35 L1421,941.29 L1423,941.24 L1425,941.2 L1427,941.15 L1429,941.1 L1431,941.05 L1433,941 L1435,940.96 L1437,940.91 L1439,940.86 L1441,940.82 L1443,940.77 L1445,940.73 L1447,940.69 L1449,940.64 L1451,940.6 L1453,940.56 L1455,940.51 L1457,940.47 L1459,940.43 L1461,940.39 L1463,940.35 L1465,940.31 L1467,940.27 L1469,940.23 L1471,940.19 L1473,940.15 L1475,940.11 L1477,940.07 L1479,940.03 L1481,939.99 L1483,939.95 L1485,939.91 L1487,939.87 L1489,939.83 L1490,939.81" stroke="#ababab" stroke-linecap="butt" stroke-linejoin="round"/>
<path d="M104.3,946.91 L106.3,947.06 L108.3,947.21 L110.3,947.36 L112.3,947.5 L114.3,947.64 L116.3,947.78 L118.3,947.92 L120.3,948.05 L122.3,948.18 L124.3,948.31 L126.3,948.43 L128.3,948.56 L130.3,948.68 L132.3,948.79 L134.3,948.91 L136.3,949.02 L138.3,949.13 L140.3,949.23 L142.3,949.34 L144.3,949.44 L146.3,949.54 L148.3,949.64 L150.3,949.73 L152.3,949.82 L154.3,949.91 L156.3,950 L158.3,950.08 L160.3,950.16 L162.3,950.24 L164.3,950.32 L166.3,950.39 L168.3,950.46 L170.3,950.53 L172.3,950.6 L174.3,950.66 L176.3,950.73 L178.3,950.79 L180.3,950.84 L182.3,950.9 L184.3,950.95 L186.3,951 L188.3,951.05 L190.3,951.09 L192.3,951.14 L194.3,951.18 L196.3,951.22 L198.3,951.25 L200.3,951.29 L202.3,951.32 L204.3,951.35 L206.3,951.38 L208.3,951.4 L210.3,951.42 L212.3,951.44 L214.3,951.46 L216.3,951.48 L218.3,951.49 L220.3,951.51 L222.3,951.52 L224.3,951.52 L226.3,951.53 L228.3,951.53 L230.3,951.53 L232.3,951.53 L234.3,951.53 L236.3,951.52 L238.3,951.52 L240.3,951.51 L242.3,951.5 L244.3,951.48 L246.3,951.47 L248.3,951.45 L250.3,951.43 L252.3,951.41 L254.3,951.39 L256.3,951.36 L258.3,951.33 L260.3,951.31 L262.3,951.27 L264.3,951.24 L266.3,951.21 L268.3,951.17 L270.3,951.13 L272.3,951.09 L274.3,951.05 L276.3,951 L278.3,950.96 L280.3,950.91 L282.3,950.86 L284.3,950.8 L286.3,950.75 L288.3,950.69 L290.3,950.64 L292.3,950.58 L294.3,950.52 L296.3,950.45 L298.3,950.39 L300.3,950.32 L302.3,950.25 L304.3,950.18 L306.3,950.11 L308.3,950.04 L310.3,949.96 L312.3,949.89 L314.3,949.81 L316.3,949.73 L318.3,949.65 L320.3,949.56 L322.3,949.48 L324.3,949.39 L326.3,949.3 L328.3,949.21 L330.3,949.12 L332.3,949.03 L334.3,948.93 L336.3,948.84 L338.3,948.74 L340.3,948.64 L342.3,948.54 L344.3,948.43 L346.3,948.33 L348.3,948.22 L350.3,948.12 L352.3,948.01 L354.3,947.9 L356.3,947.79 L358.3,947.67 L360.3,947.56 L362.3,947.44 L364.3,947.33 L366.3,947.21 L368.3,947.09 L370.3,946.96 L372.3,946.84 L374.3,946.72 L376.3,946.59 L378.3,946.46 L380.3,946.33 L382.3,946.2 L384.3,946.07 L386.3,945.94 L388.3,945.81 L390.3,945.67 L392.3,945.53 L394.3,945.4 L396.3,945.26 L398.3,945.12 L400.3,944.98 L402.3,944.83 L404.3,944.69 L406.3,944.54 L408.3,944.4 L410.3,944.25 L412.3,944.1 L414.3,943.95 L416.3,943.8 L418.3,943.64 L420.3,943.49 L422.3,943.34 L424.3,943.18 L426.3,943.02 L428.3,942.87 L430.3,942.71 L432.3,942.55 L434.3,942.38 L436.3,942.22 L438.3,942.06 L440.3,941.89 L442.3,941.73 L444.3,941.56 L446.3,941.39 L448.3,941.22 L450.3,941.05 L452.3,940.88 L454.3,940.71 L456.3,940.54 L458.3,940.37 L460.3,940.19 L462.3,940.01 L464.3,939.84 L466.3,939.66 L468.3,939.48 L470.3,939.3 L472.3,939.12 L474.3,938.94 L476.3,938.76 L478.3,938.58 L480.3,938.39 L482.3,938.21 L484.3,938.02 L486.3,937.84 L488.3,937.65 L490.3,937.46 L492.3,937.28 L494.3,937.09 L496.3,936.9 L498.3,936.7 L500.3,936.51 L502.3,936.32 L504.3,936.13 L506.3,935.93 L508.3,935.74 L510.3,935.54 L512.3,935.35 L514.3,935.15 L516.3,934.96 L518.3,934.76 L520.3,934.56 L522.3,934.36 L524.3,934.16 L526.3,933.96 L528.3,933.76 L530.3,933.56 L532.3,933.36 L534.3,933.15 L536.3,932.95 L538.3,932.75 L540.3,932.54 L542.3,932.34 L544.3,932.13 L546.3,931.92 L548.3,931.72 L550.3,931.51 L552.3,931.3 L554.3,931.1 L556.3,930.89 L558.3,930.68 L560.3,930.47 L562.3,930.26 L564.3,930.05 L566.3,929.84 L568.3,929.63 L570.3,929.42 L572.3,929.21 L574.3,929 L576.3,928.79 L578.3,928.58 L580.3,928.37 L582.3,928.15 L584.3,927.94 L586.3,927.73 L588.3,927.52 L590.3,927.3 L592.3,927.09 L594.3,926.88 L596.3,926.67 L598.3,926.45 L600.3,926.24 L602.3,926.03 L604.3,925.81 L606.3,925.6 L608.3,925.39 L610.3,925.18 L612.3,924.96 L614.3,924.75 L616.3,924.54 L618.3,924.32 L620.3,924.11 L622.3,923.9 L624.3,923.69 L626.3,923.47 L628.3,923.26 L630.3,923.05 L632.3,922.84 L634.3,922.63 L636.3,922.42 L638.3,922.2 L640.3,921.99 L642.3,921.78 L644.3,921.57 L646.3,921.36 L648.3,921.15 L650.3,920.94 L652.3,920.74 L654.3,920.53 L656.3,920.32 L658.3,920.11 L660.3,919.9 L662.3,919.7 L664.3,919.49 L666.3,919.29 L668.3,919.08 L670.3,918.88 L672.3,918.67 L674.3,918.47 L676.3,918.26 L678.3,918.06 L680.3,917.86 L682.3,917.66 L684.3,917.46 L686.3,917.26 L688.3,917.06 L690.3,916.86 L692.3,916.66 L694.3,916.46 L696.3,916.27 L698.3,916.07 L700.3,915.87 L702.3,915.68 L704.3,915.49 L706.3,915.29 L708.3,915.1 L710.3,914.91 L712.3,914.72 L714.3,914.53 L716.3,914.34 L718.3,914.15 L720.3,913.96 L722.3,913.78 L724.3,913.59 L726.3,913.41 L728.3,913.23 L730.3,913.04 L732.3,912.86 L734.3,912.68 L736.3,912.5 L738.3,912.33 L740.3,912.15 L742.3,911.97 L744.3,911.8 L746.3,911.62 L748.3,911.45 L750.3,911.28 L752.3,911.11 L754.3,910.94 L756.3,910.77 L758.3,910.61 L760.3,910.44 L762.3,910.28 L764.3,910.11 L766.3,909.95 L768.3,909.79 L770.3,909.63 L772.3,909.47 L774.3,909.32 L776.3,909.16 L778.3,909.01 L780.3,908.86 L782.3,908.7 L784.3,908.55 L786.3,908.41 L788.3,908.26 L790.3,908.11 L792.3,907.97 L794.3,907.83 L796.3,907.69 L798.3,907.55 L800.3,907.41 L802.3,907.28 L804.3,907.14 L806.3,907.01 L808.3,906.88 L810.3,906.75 L812.3,906.62 L814.3,906.49 L816.3,906.37 L818.3,906.25 L820.3,906.12 L822.3,906 L824.3,905.89 L826.3,905.77 L828.3,905.65 L830.3,905.54 L832.3,905.43 L834.3,905.32 L836.3,905.21 L838.3,905.11 L840.3,905 L842.3,904.9 L844.3,904.8 L846.3,904.7 L848.3,904.6 L850.3,904.5 L852.3,904.4 L854.3,904.31 L856.3,904.22 L858.3,904.13 L860.3,904.04 L862.3,903.95 L864.3,903.86 L866.3,903.78 L868.3,903.7 L870.3,903.61 L872.3,903.53 L874.3,903.45 L876.3,903.38 L878.3,903.3 L880.3,903.23 L882.3,903.15 L884.3,903.08 L886.3,903.01 L888.3,902.94 L890.3,902.88 L892.3,902.81 L894.3,902.75 L896.3,902.68 L898.3,902.62 L900.3,902.56 L902.3,902.5 L904.3,902.45 L906.3,902.39 L908.3,902.34 L910.3,902.28 L912.3,902.23 L914.3,902.18 L916.3,902.13 L918.3,902.09 L920.3,902.04 L922.3,901.99 L924.3,901.95 L926.3,901.91 L928.3,901.87 L930.3,901.83 L932.3,901.79 L934.3,901.75 L936.3,901.72 L938.3,901.68 L940.3,901.65 L942.3,901.62 L944.3,901.59 L946.3,901.56 L948.3,901.53 L950.3,901.5 L952.3,901.48 L954.3,901.45 L956.3,901.43 L958.3,901.41 L960.3,901.38 L962.3,901.36 L964.3,901.35 L966.3,901.33 L968.3,901.31 L970.3,901.3 L972.3,901.28 L974.3,901.27 L976.3,901.26 L978.3,901.25 L980.3,901.24 L982.3,901.23 L984.3,901.23 L986.3,901.22 L988.3,901.21 L990.3,901.21 L992.3,901.21 L994.3,901.21 L996.3,901.21 L998.3,901.21 L1000.3,901.21 L1002.3,901.21 L1004.3,901.22 L1006.3,901.22 L1008.3,901.23 L1010.3,901.23 L1012.3,901.24 L1014.3,901.25 L1016.3,901.26 L1018.3,901.27 L1020.3,901.28 L1022.3,901.3 L1024.3,901.31 L1026.3,901.33 L1028.3,901.34 L1030.3,901.36 L1032.3,901.38 L1034.3,901.4 L1036.3,901.42 L1038.3,901.44 L1040.3,901.46 L1042.3,901.48 L1044.3,901.51 L1046.3,901.53 L1048.3,901.56 L1050.3,901.58 L1052.3,901.61 L1054.3,901.64 L1056.3,901.67 L1058.3,901.7 L1060.3,901.73 L1062.3,901.76 L1064.3,901.79 L1066.3,901.83 L1068.3,901.86 L1070.3,901.9 L1072.3,901.93 L1074.3,901.97 L1076.3,902.01 L1078.3,902.05 L1080.3,902.09 L1082.3,902.13 L1084.3,902.17 L1086.3,902.21 L1088.3,902.25 L1090.3,902.29 L1092.3,902.34 L1094.3,902.38 L1096.3,902.43 L1098.3,902.48 L1100.3,902.52 L1102.3,902.57 L1104.3,902.62 L1106.3,902.67 L1108.3,902.72 L1110.3,902.77 L1112.3,902.82 L1114.3,902.87 L1116.3,902.93 L1118.3,902.98 L1120.3,903.03 L1122.3,903.09 L1124.3,903.14 L1126.3,903.2 L1128.3,903.26 L1130.3,903.31 L1132.3,903.37 L1134.3,903.43 L1136.3,903.49 L1138.3,903.55 L1140.3,903.61 L1142.3,903.67 L1144.3,903.73 L1146.3,903.8 L1148.3,903.86 L1150.3,903.92 L1152.3,903.99 L1154.3,904.05 L1156.3,904.12 L1158.3,904.18 L1160.3,904.25 L1162.3,904.31 L1164.3,904.38 L1166.3,904.45 L1168.3,904.52 L1170.3,904.59 L1172.3,904.66 L1174.3,904.73 L1176.3,904.8 L1178.3,904.87 L1180.3,904.94 L1182.3,905.01 L1184.3,905.08 L1186.3,905.16 L1188.3,905.23 L1190.3,905.3 L1192.3,905.38 L1194.3,905.45 L1196.3,905.53 L1198.3,905.6 L1200.3,905.68 L1202.3,905.75 L1204.3,905.83 L1206.3,905.91 L1208.3,905.98 L1210.3,906.06 L1212.3,906.14 L1214.3,906.22 L1216.3,906.3 L1218.3,906.38 L1220.3,906.46 L1222.3,906.54 L1224.3,906.62 L1226.3,906.7 L1228.3,906.78 L1230.3,906.86 L1232.3,906.94 L1234.3,907.02 L1236.3,907.1 L1238.3,907.19 L1240.3,907.27 L1242.3,907.35 L1244.3,907.43 L1246.3,907.52 L1248.3,907.6 L1250.3,907.68 L1252.3,907.77 L1254.3,907.85 L1256.3,907.94 L1258.3,908.02 L1260.3,908.11 L1262.3,908.19 L1264.3,908.28 L1266.3,908.36 L1268.3,908.45 L1270.3,908.54 L1272.3,908.62 L1274.3,908.71 L1276.3,908.79 L1278.3,908.88 L1280.3,908.97 L1282.3,909.06 L1284.3,909.14 L1286.3,909.23 L1288.3,909.32 L1290.3,909.4 L1292.3,909.49 L1294.3,909.58 L1296.3,909.67 L1298.3,909.76 L1300.3,909.84 L1302.3,909.93 L1304.3,910.02 L1306.3,910.11 L1308.3,910.2 L1310.3,910.28 L1312.3,910.37 L1314.3,910.46 L1316.3,910.55 L1318.3,910.64 L1320.3,910.72 L1322.3,910.81 L1324.3,910.9 L1326.3,910.99 L1328.3,911.08 L1330.3,911.17 L1332.3,911.25 L1334.3,911.34 L1336.3,911.43 L1338.3,911.52 L1340.3,911.61 L1342.3,911.7 L1344.3,911.78 L1346.3,911.87 L1348.3,911.96 L1350.3,912.05 L1352.3,912.13 L1354.3,912.22 L1356.3,912.31 L1358.3,912.4 L1360.3,912.48 L1362.3,912.57 L1364.3,912.66 L1366.3,912.75 L1368.3,912.83 L1370.3,912.92 L1372.3,913 L1374.3,913.09 L1376.3,913.18 L1378.3,913.26 L1380.3,913.35 L1382.3,913.43 L1384.3,913.52 L1386.3,913.6 L1388.3,913.69 L1390.3,913.77 L1392.3,913.86 L1394.3,913.94 L1396.3,914.03 L1398.3,914.11 L1400.3,914.19 L1402.3,914.28 L1404.3,914.36 L1406.3,914.44 L1408.3,914.53 L1410.3,914.61 L1412.3,914.69 L1414.3,914.77 L1416.3,914.85 L1418.3,914.93 L1420.3,915.01 L1422.3,915.09 L1424.3,915.17 L1426.3,915.25 L1428.3,915.33 L1430.3,915.41 L1432.3,915.49 L1434.3,915.57 L1436.3,915.65 L1438.3,915.72 L1440.3,915.8 L1442.3,915.88 L1444.3,915.95 L1446.3,916.03 L1448.3,916.11 L1450.3,916.18 L1452.3,916.25 L1454.3,916.33 L1456.3,916.4 L1458.3,916.48 L1460.3,916.55 L1462.3,916.62 L1464.3,916.69 L1466.3,916.76 L1468.3,916.84 L1470.3,916.91 L1472.3,916.98 L1474.3,917.05 L1476.3,917.12 L1478.3,917.18 L1480.3,917.25 L1482.3,917.32 L1484.3,917.39 L1486.3,917.45 L1488.3,917.52 L1490,917.57" stroke="#000" stroke-dasharray="17.5 17.5" stroke-linecap="butt" stroke-linejoin="round"/>
<path d="M104.3,919.13 L106.3,919.05 L108.3,918.96 L110.3,918.88 L112.3,918.8 L114.3,918.71 L116.3,918.63 L118.3,918.55 L120.3,918.46 L122.3,918.38 L124.3,918.29 L126.3,918.21 L128.3,918.12 L130.3,918.04 L132.3,917.95 L134.3,917.87 L136.3,917.78 L138.3,917.69 L140.3,917.61 L142.3,917.52 L144.3,917.43 L146.3,917.35 L148.3,917.26 L150.3,917.17 L152.3,917.09 L154.3,917 L156.3,916.91 L158.3,916.82 L160.3,916.73 L162.3,916.65 L164.3,916.56 L166.3,916.47 L168.3,916.38 L170.3,916.29 L172.3,916.2 L174.3,916.12 L176.3,916.03 L178.3,915.94 L180.3,915.85 L182.3,915.76 L184.3,915.67 L186.3,915.58 L188.3,915.49 L190.3,915.4 L192.3,915.31 L194.3,915.22 L196.3,915.13 L198.3,915.04 L200.3,914.95 L202.3,914.86 L204.3,914.78 L206.3,914.69 L208.3,914.6 L210.3,914.51 L212.3,914.42 L214.3,914.33 L216.3,914.24 L218.3,914.15 L220.3,914.06 L222.3,913.97 L224.3,913.88 L226.3,913.79 L228.3,913.7 L230.3,913.61 L232.3,913.52 L234.3,913.43 L236.3,913.34 L238.3,913.25 L240.3,913.16 L242.3,913.07 L244.3,912.98 L246.3,912.89 L248.3,912.8 L250.3,912.71 L252.3,912.63 L254.3,912.54 L256.3,912.45 L258.3,912.36 L260.3,912.27 L262.3,912.18 L264.3,912.09 L266.3,912.01 L268.3,911.92 L270.3,911.83 L272.3,911.74 L274.3,911.65 L276.3,911.57 L278.3,911.48 L280.3,911.39 L282.3,911.3 L284.3,911.22 L286.3,911.13 L288.3,911.04 L290.3,910.96 L292.3,910.87 L294.3,910.79 L296.3,910.7 L298.3,910.61 L300.3,910.53 L302.3,910.44 L304.3,910.36 L306.3,910.27 L308.3,910.19 L310.3,910.11 L312.3,910.02 L314.3,909.94 L316.3,909.85 L318.3,909.77 L320.3,909.69 L322.3,909.6 L324.3,909.52 L326.3,909.44 L328.3,909.36 L330.3,909.28 L332.3,909.19 L334.3,909.11 L336.3,909.03 L338.3,908.95 L340.3,908.87 L342.3,908.79 L344.3,908.71 L346.3,908.63 L348.3,908.55 L350.3,908.47 L352.3,908.4 L354.3,908.32 L356.3,908.24 L358.3,908.16 L360.3,908.09 L362.3,908.01 L364.3,907.93 L366.3,907.86 L368.3,907.78 L370.3,907.71 L372.3,907.63 L374.3,907.56 L376.3,907.48 L378.3,907.41 L380.3,907.34 L382.3,907.26 L384.3,907.19 L386.3,907.12 L388.3,907.05 L390.3,906.98 L392.3,906.91 L394.3,906.84 L396.3,906.77 L398.3,906.7 L400.3,906.63 L402.3,906.56 L404.3,906.49 L406.3,906.42 L408.3,906.36 L410.3,906.29 L412.3,906.22 L414.3,906.16 L416.3,906.09 L418.3,906.03 L420.3,905.97 L422.3,905.9 L424.3,905.84 L426.3,905.78 L428.3,905.71 L430.3,905.65 L432.3,905.59 L434.3,905.53 L436.3,905.47 L438.3,905.41 L440.3,905.35 L442.3,905.29 L444.3,905.24 L446.3,905.18 L448.3,905.12 L450.3,905.07 L452.3,905.01 L454.3,904.96 L456.3,904.9 L458.3,904.85 L460.3,904.79 L462.3,904.74 L464.3,904.69 L466.3,904.64 L468.3,904.59 L470.3,904.54 L472.3,904.49 L474.3,904.44 L476.3,904.39 L478.3,904.34 L480.3,904.3 L482.3,904.25 L484.3,904.21 L486.3,904.16 L488.3,904.12 L490.3,904.07 L492.3,904.03 L494.3,903.99 L496.3,903.95 L498.3,903.91 L500.3,903.87 L502.3,903.83 L504.3,903.79 L506.3,903.75 L508.3,903.71 L510.3,903.68 L512.3,903.64 L514.3,903.6 L516.3,903.57 L518.3,903.54 L520.3,903.5 L522.3,903.47 L524.3,903.44 L526.3,903.41 L528.3,903.38 L530.3,903.35 L532.3,903.32 L534.3,903.29 L536.3,903.27 L538.3,903.24 L540.3,903.22 L542.3,903.19 L544.3,903.17 L546.3,903.15 L548.3,903.12 L550.3,903.1 L552.3,903.08 L554.3,903.06 L556.3,903.04 L558.3,903.03 L560.3,903.01 L562.3,902.99 L564.3,902.98 L566.3,902.96 L568.3,902.95 L570.3,902.94 L572.3,902.93 L574.3,902.91 L576.3,902.9 L578.3,902.9 L580.3,902.89 L582.3,902.88 L584.3,902.87 L586.3,902.87 L588.3,902.86 L590.3,902.86 L592.3,902.86 L594.3,902.85 L596.3,902.85 L598.3,902.85 L600.3,902.85 L602.3,902.86 L604.3,902.86 L606.3,902.86 L608.3,902.87 L610.3,902.87 L612.3,902.88 L614.3,902.89 L616.3,902.9 L618.3,902.91 L620.3,902.92 L622.3,902.93 L624.3,902.94 L626.3,902.95 L628.3,902.97 L630.3,902.98 L632.3,903 L634.3,903.02 L636.3,903.04 L638.3,903.06 L640.3,903.08 L642.3,903.1 L644.3,903.12 L646.3,903.15 L648.3,903.17 L650.3,903.2 L652.3,903.22 L654.3,903.25 L656.3,903.28 L658.3,903.31 L660.3,903.34 L662.3,903.38 L664.3,903.41 L666.3,903.44 L668.3,903.48 L670.3,903.52 L672.3,903.55 L674.3,903.59 L676.3,903.63 L678.3,903.68 L680.3,903.72 L682.3,903.76 L684.3,903.81 L686.3,903.85 L688.3,903.9 L690.3,903.95 L692.3,904 L694.3,904.05 L696.3,904.1 L698.3,904.15 L700.3,904.21 L702.3,904.26 L704.3,904.32 L706.3,904.38 L708.3,904.44 L710.3,904.5 L712.3,904.56 L714.3,904.62 L716.3,904.68 L718.3,904.75 L720.3,904.81 L722.3,904.88 L724.3,904.95 L726.3,905.02 L728.3,905.09 L730.3,905.17 L732.3,905.24 L734.3,905.31 L736.3,905.39 L738.3,905.47 L740.3,905.55 L742.3,905.63 L744.3,905.71 L746.3,905.79 L748.3,905.88 L750.3,905.96 L752.3,906.05 L754.3,906.14 L756.3,906.23 L758.3,906.32 L760.3,906.41 L762.3,906.5 L764.3,906.6 L766.3,906.69 L768.3,906.79 L770.3,906.89 L772.3,906.99 L774.3,907.09 L776.3,907.19 L778.3,907.3 L780.3,907.4 L782.3,907.51 L784.3,907.62 L786.3,907.73 L788.3,907.84 L790.3,907.95 L792.3,908.07 L794.3,908.18 L796.3,908.3 L798.3,908.42 L800.3,908.54 L802.3,908.66 L804.3,908.78 L806.3,908.9 L808.3,909.03 L810.3,909.16 L812.3,909.29 L814.3,909.42 L816.3,909.55 L818.3,909.68 L820.3,909.81 L822.3,909.95 L824.3,910.09 L826.3,910.23 L828.3,910.37 L830.3,910.51 L832.3,910.65 L834.3,910.8 L836.3,910.94 L838.3,911.09 L840.3,911.24 L842.3,911.39 L844.3,911.54 L846.3,911.7 L848.3,911.85 L850.3,912.01 L852.3,912.17 L854.3,912.33 L856.3,912.49 L858.3,912.65 L860.3,912.82 L862.3,912.99 L864.3,913.15 L866.3,913.32 L868.3,913.49 L870.3,913.67 L872.3,913.84 L874.3,914.02 L876.3,914.2 L878.3,914.38 L880.3,914.56 L882.3,914.74 L884.3,914.92 L886.3,915.11 L888.3,915.3 L890.3,915.49 L892.3,915.68 L894.3,915.87 L896.3,916.06 L898.3,916.26 L900.3,916.46 L902.3,916.66 L904.3,916.86 L906.3,917.06 L908.3,917.26 L910.3,917.47 L912.3,917.68 L914.3,917.89 L916.3,918.1 L918.3,918.31 L920.3,918.53 L922.3,918.74 L924.3,918.96 L926.3,919.18 L928.3,919.4 L930.3,919.62 L932.3,919.84 L934.3,920.07 L936.3,920.29 L938.3,920.52 L940.3,920.75 L942.3,920.98 L944.3,921.21 L946.3,921.45 L948.3,921.68 L950.3,921.92 L952.3,922.15 L954.3,922.39 L956.3,922.63 L958.3,922.87 L960.3,923.11 L962.3,923.36 L964.3,923.6 L966.3,923.85 L968.3,924.09 L970.3,924.34 L972.3,924.59 L974.3,924.84 L976.3,925.09 L978.3,925.34 L980.3,925.59 L982.3,925.85 L984.3,926.1 L986.3,926.36 L988.3,926.62 L990.3,926.87 L992.3,927.13 L994.3,927.39 L996.3,927.65 L998.3,927.91 L1000.3,928.17 L1002.3,928.44 L1004.3,928.7 L1006.3,928.96 L1008.3,929.23 L1010.3,929.49 L1012.3,929.76 L1014.3,930.03 L1016.3,930.3 L1018.3,930.56 L1020.3,930.83 L1022.3,931.1 L1024.3,931.37 L1026.3,931.64 L1028.3,931.91 L1030.3,932.18 L1032.3,932.46 L1034.3,932.73 L1036.3,933 L1038.3,933.27 L1040.3,933.55 L1042.3,933.82 L1044.3,934.1 L1046.3,934.37 L1048.3,934.65 L1050.3,934.92 L1052.3,935.2 L1054.3,935.47 L1056.3,935.75 L1058.3,936.03 L1060.3,936.3 L1062.3,936.58 L1064.3,936.86 L1066.3,937.13 L1068.3,937.41 L1070.3,937.69 L1072.3,937.97 L1074.3,938.24 L1076.3,938.52 L1078.3,938.8 L1080.3,939.08 L1082.3,939.35 L1084.3,939.63 L1086.3,939.91 L1088.3,940.19 L1090.3,940.46 L1092.3,940.74 L1094.3,941.02 L1096.3,941.3 L1098.3,941.57 L1100.3,941.85 L1102.3,942.13 L1104.3,942.4 L1106.3,942.68 L1108.3,942.95 L1110.3,943.23 L1112.3,943.5 L1114.3,943.78 L1116.3,944.05 L1118.3,944.33 L1120.3,944.6 L1122.3,944.87 L1124.3,945.15 L1126.3,945.42 L1128.3,945.69 L1130.3,945.96 L1132.3,946.23 L1134.3,946.5 L1136.3,946.77 L1138.3,947.04 L1140.3,947.31 L1142.3,947.58 L1144.3,947.85 L1146.3,948.11 L1148.3,948.38 L1150.3,948.64 L1152.3,948.91 L1154.3,949.17 L1156.3,949.44 L1158.3,949.7 L1160.3,949.96 L1162.3,950.22 L1164.3,950.48 L1166.3,950.74 L1168.3,951 L1170.3,951.26 L1172.3,951.51 L1174.3,951.77 L1176.3,952.02 L1178.3,952.28 L1180.3,952.53 L1182.3,952.78 L1184.3,953.03 L1186.3,953.28 L1188.3,953.53 L1190.3,953.78 L1192.3,954.03 L1194.3,954.27 L1196.3,954.52 L1198.3,954.76 L1200.3,955 L1202.3,955.24 L1204.3,955.48 L1206.3,955.72 L1208.3,955.96 L1210.3,956.2 L1212.3,956.43 L1214.3,956.67 L1216.3,956.9 L1218.3,957.13 L1220.3,957.36 L1222.3,957.59 L1224.3,957.82 L1226.3,958.05 L1228.3,958.28 L1230.3,958.5 L1232.3,958.73 L1234.3,958.95 L1236.3,959.17 L1238.3,959.39 L1240.3,959.62 L1242.3,959.83 L1244.3,960.05 L1246.3,960.27 L1248.3,960.48 L1250.3,960.7 L1252.3,960.91 L1254.3,961.12 L1256.3,961.33 L1258.3,961.54 L1260.3,961.75 L1262.3,961.96 L1264.3,962.16 L1266.3,962.37 L1268.3,962.57 L1270.3,962.78 L1272.3,962.98 L1274.3,963.18 L1276.3,963.38 L1278.3,963.57 L1280.3,963.77 L1282.3,963.97 L1284.3,964.16 L1286.3,964.35 L1288.3,964.54 L1290.3,964.73 L1292.3,964.92 L1294.3,965.11 L1296.3,965.3 L1298.3,965.48 L1300.3,965.67 L1302.3,965.85 L1304.3,966.03 L1306.3,966.21 L1308.3,966.39 L1310.3,966.57 L1312.3,966.74 L1314.3,966.92 L1316.3,967.09 L1318.3,967.27 L1320.3,967.44 L1322.3,967.61 L1324.3,967.78 L1326.3,967.94 L1328.3,968.11 L1330.3,968.28 L1332.3,968.44 L1334.3,968.6 L1336.3,968.76 L1338.3,968.92 L1340.3,969.08 L1342.3,969.24 L1344.3,969.39 L1346.3,969.55 L1348.3,969.7 L1350.3,969.85 L1352.3,970 L1354.3,970.15 L1356.3,970.3 L1358.3,970.44 L1360.3,970.59 L1362.3,970.73 L1364.3,970.88 L1366.3,971.02 L1368.3,971.16 L1370.3,971.29 L1372.3,971.43 L1374.3,971.57 L1376.3,971.7 L1378.3,971.83 L1380.3,971.96 L1382.3,972.09 L1384.3,972.22 L1386.3,972.35 L1388.3,972.47 L1390.3,972.6 L1392.3,972.72 L1394.3,972.84 L1396.3,972.96 L1398.3,973.08 L1400.3,973.2 L1402.3,973.31 L1404.3,973.43 L1406.3,973.54 L1408.3,973.65 L1410.3,973.76 L1412.3,973.87 L1414.3,973.98 L1416.3,974.08 L1418.3,974.19 L1420.3,974.29 L1422.3,974.39 L1424.3,974.49 L1426.3,974.59 L1428.3,974.68 L1430.3,974.78 L1432.3,974.87 L1434.3,974.97 L1436.3,975.06 L1438.3,975.15 L1440.3,975.23 L1442.3,975.32 L1444.3,975.4 L1446.3,975.49 L1448.3,975.57 L1450.3,975.65 L1452.3,975.73 L1454.3,975.81 L1456.3,975.88 L1458.3,975.96 L1460.3,976.03 L1462.3,976.1 L1464.3,976.17 L1466.3,976.24 L1468.3,976.3 L1470.3,976.37 L1472.3,976.43 L1474.3,976.49 L1476.3,976.55 L1478.3,976.61 L1480.3,976.67 L1482.3,976.72 L1484.3,976.78 L1486.3,976.83 L1488.3,976.88 L1490,976.92" stroke="#000" stroke-dasharray="14.5 11 0.01 11" stroke-linecap="round" stroke-linejoin="round"/>
<path d="M104.3,935.38 L106.3,935.46 L108.3,935.55 L110.3,935.62 L112.3,935.7 L114.3,935.78 L116.3,935.85 L118.3,935.93 L120.3,936 L122.3,936.07 L124.3,936.14 L126.3,936.21 L128.3,936.28 L130.3,936.34 L132.3,936.41 L134.3,936.47 L136.3,936.53 L138.3,936.6 L140.3,936.66 L142.3,936.72 L144.3,936.78 L146.3,936.83 L148.3,936.89 L150.3,936.95 L152.3,937 L154.3,937.06 L156.3,937.11 L158.3,937.17 L160.3,937.22 L162.3,937.27 L164.3,937.32 L166.3,937.38 L168.3,937.43 L170.3,937.48 L172.3,937.53 L174.3,937.57 L176.3,937.62 L178.3,937.67 L180.3,937.72 L182.3,937.77 L184.3,937.81 L186.3,937.86 L188.3,937.91 L190.3,937.95 L192.3,938 L194.3,938.05 L196.3,938.09 L198.3,938.14 L200.3,938.18 L202.3,938.23 L204.3,938.28 L206.3,938.32 L208.3,938.37 L210.3,938.42 L212.3,938.46 L214.3,938.51 L216.3,938.55 L218.3,938.6 L220.3,938.65 L222.3,938.7 L224.3,938.74 L226.3,938.79 L228.3,938.84 L230.3,938.89 L232.3,938.94 L234.3,938.99 L236.3,939.04 L238.3,939.09 L240.3,939.14 L242.3,939.19 L244.3,939.25 L246.3,939.3 L248.3,939.35 L250.3,939.41 L252.3,939.46 L254.3,939.52 L256.3,939.58 L258.3,939.64 L260.3,939.69 L262.3,939.75 L264.3,939.81 L266.3,939.88 L268.3,939.94 L270.3,940 L272.3,940.07 L274.3,940.13 L276.3,940.2 L278.3,940.27 L280.3,940.34 L282.3,940.41 L284.3,940.48 L286.3,940.55 L288.3,940.63 L290.3,940.7 L292.3,940.78 L294.3,940.86 L296.3,940.94 L298.3,941.02 L300.3,941.1 L302.3,941.19 L304.3,941.27 L306.3,941.36 L308.3,941.45 L310.3,941.54 L312.3,941.64 L314.3,941.73 L316.3,941.83 L318.3,941.92 L320.3,942.02 L322.3,942.13 L324.3,942.23 L326.3,942.33 L328.3,942.44 L330.3,942.55 L332.3,942.66 L334.3,942.78 L336.3,942.89 L338.3,943.01 L340.3,943.13 L342.3,943.25 L344.3,943.37 L346.3,943.5 L348.3,943.63 L350.3,943.76 L352.3,943.89 L354.3,944.03 L356.3,944.16 L358.3,944.3 L360.3,944.45 L362.3,944.59 L364.3,944.74 L366.3,944.89 L368.3,945.04 L370.3,945.2 L372.3,945.36 L374.3,945.52 L376.3,945.68 L378.3,945.84 L380.3,946.01 L382.3,946.18 L384.3,946.36 L386.3,946.54 L388.3,946.72 L390.3,946.9 L392.3,947.08 L394.3,947.27 L396.3,947.46 L398.3,947.66 L400.3,947.86 L402.3,948.06 L404.3,948.26 L406.3,948.47 L408.3,948.68 L410.3,948.89 L412.3,949.11 L414.3,949.33 L416.3,949.55 L418.3,949.78 L420.3,950.01 L422.3,950.24 L424.3,950.48 L426.3,950.72 L428.3,950.96 L430.3,951.21 L432.3,951.46 L434.3,951.72 L436.3,951.97 L438.3,952.24 L440.3,952.5 L442.3,952.77 L444.3,953.04 L446.3,953.32 L448.3,953.6 L450.3,953.88 L452.3,954.17 L454.3,954.46 L456.3,954.76 L458.3,955.06 L460.3,955.36 L462.3,955.67 L464.3,955.98 L466.3,956.3 L468.3,956.62 L470.3,956.94 L472.3,957.27 L474.3,957.6 L476.3,957.94 L478.3,958.28 L480.3,958.63 L482.3,958.98 L484.3,959.33 L486.3,959.69 L488.3,960.05 L490.3,960.42 L492.3,960.79 L494.3,961.17 L496.3,961.55 L498.3,961.94 L500.3,962.33 L502.3,962.72 L504.3,963.12 L506.3,963.52 L508.3,963.93 L510.3,964.35 L512.3,964.76 L514.3,965.19 L516.3,965.62 L518.3,966.05 L520.3,966.49 L522.3,966.93 L524.3,967.38 L526.3,967.83 L528.3,968.29 L530.3,968.75 L532.3,969.22 L534.3,969.69 L536.3,970.17 L538.3,970.65 L540.3,971.14 L542.3,971.64 L544.3,972.14 L546.3,972.64 L548.3,973.15 L550.3,973.67 L552.3,974.19 L554.3,974.72 L556.3,975.25 L558.3,975.79 L560.3,976.34 L562.3,976.89 L564.3,977.45 L566.3,978.01 L568.3,978.59 L570.3,979.16 L572.3,979.75 L574.3,980.34 L576.3,980.94 L578.3,981.54 L580.3,982.16 L582.3,982.78 L584.3,983.41 L586.3,984.04 L588.3,984.68 L590.3,985.33 L592.3,985.99 L594.3,986.66 L596.3,987.33 L598.3,988.01 L600.3,988.7 L602.3,989.4 L604.3,990.1 L606.3,990.82 L608.3,991.54 L610.3,992.27 L612.3,993.02 L614.3,993.77 L616.3,994.53 L618.3,995.3 L620.3,996.08 L622.3,996.87 L624.3,997.67 L626.3,998.48 L628.3,999.3 L630.3,1000.13 L632.3,1000.97 L634.3,1001.82 L636.3,1002.69 L638.3,1003.56 L640.3,1004.45 L642.3,1005.35 L644.3,1006.26 L646.3,1007.18 L648.3,1008.11 L650.3,1009.06 L652.3,1010.02 L654.3,1010.99 L656.3,1011.98 L658.3,1012.98 L660.3,1013.99 L662.3,1015.01 L664.3,1016.05 L666.3,1017.11 L668.3,1018.17 L670.3,1019.25 L672.3,1020.35 L674.3,1021.46 L676.3,1022.58 L678.3,1023.72 L680.3,1024.87 L682.3,1026.04 L684.3,1027.23 L686.3,1028.43 L688.3,1029.64 L690.3,1030.87 L692.3,1032.12 L694.3,1033.39 L696.3,1034.67 L698.3,1035.96 L700.3,1037.28 L702.3,1038.61 L704.3,1039.95 L706.3,1041.32 L708.3,1042.7 L710.3,1044.1 L712.3,1045.52 L714.3,1046.95 L716.3,1048.41 L718.3,1049.88 L720.3,1051.37 L722.3,1052.88 L724.3,1054.41 L726.3,1055.96 L728.3,1057.52 L730.3,1059.11 L732.3,1060.71 L734.3,1062.34 L736.3,1063.99 L738.3,1065.65 L740.3,1067.34 L742.3,1069.04 L744.3,1070.77 L746.3,1072.52 L748.3,1074.29 L750.3,1076.07 L752.3,1077.84 L754.3,1079.6 L756.3,1081.33 L758.3,1083.02 L760.3,1084.66 L762.3,1086.22 L764.3,1087.71 L766.3,1089.12 L768.3,1090.44 L770.3,1091.65 L772.3,1092.76 L774.3,1093.74 L776.3,1094.61 L778.3,1095.34 L780.3,1095.92 L782.3,1096.36 L784.3,1096.64 L786.3,1096.75 L788.3,1096.69 L790.3,1096.44 L792.3,1096.01 L794,1095.48 L796,1094.28 L798,1092.98 L800,1091.66 L802,1090.33 L804,1088.99 L806,1087.64 L808,1086.28 L810,1084.92 L812,1083.54 L814,1082.16 L816,1080.78 L818,1079.38 L820,1077.99 L822,1076.59 L824,1075.18 L826,1073.78 L828,1072.37 L830,1070.97 L832,1069.56 L834,1068.15 L836,1066.75 L838,1065.35 L840,1063.95 L842,1062.56 L844,1061.17 L846,1059.78 L848,1058.4 L850,1057.02 L852,1055.65 L854,1054.28 L856,1052.92 L858,1051.56 L860,1050.21 L862,1048.86 L864,1047.52 L866,1046.19 L868,1044.86 L870,1043.54 L872,1042.22 L874,1040.92 L876,1039.61 L878,1038.32 L880,1037.03 L882,1035.76 L884,1034.49 L886,1033.22 L888,1031.97 L890,1030.72 L892,1029.48 L894,1028.26 L896,1027.04 L898,1025.83 L900,1024.63 L902,1023.43 L904,1022.25 L906,1021.08 L908,1019.92 L910,1018.77 L912,1017.63 L914,1016.5 L916,1015.38 L918,1014.27 L920,1013.18 L922,1012.09 L924,1011.02 L926,1009.96 L928,1008.91 L930,1007.88 L932,1006.85 L934,1005.84 L936,1004.84 L938,1003.86 L940,1002.89 L942,1001.93 L944,1000.98 L946,1000.05 L948,999.13 L950,998.22 L952,997.32 L954,996.44 L956,995.56 L958,994.7 L960,993.86 L962,993.02 L964,992.19 L966,991.38 L968,990.58 L970,989.78 L972,989 L974,988.24 L976,987.48 L978,986.73 L980,985.99 L982,985.27 L984,984.55 L986,983.85 L988,983.15 L990,982.47 L992,981.79 L994,981.13 L996,980.47 L998,979.83 L1000,979.19 L1002,978.57 L1004,977.95 L1006,977.34 L1008,976.74 L1010,976.15 L1012,975.57 L1014,975 L1016,974.44 L1018,973.89 L1020,973.34 L1022,972.8 L1024,972.28 L1026,971.75 L1028,971.24 L1030,970.74 L1032,970.24 L1034,969.75 L1036,969.27 L1038,968.8 L1040,968.33 L1042,967.87 L1044,967.42 L1046,966.98 L1048,966.54 L1050,966.11 L1052,965.69 L1054,965.27 L1056,964.86 L1058,964.45 L1060,964.06 L1062,963.67 L1064,963.28 L1066,962.9 L1068,962.53 L1070,962.16 L1072,961.8 L1074,961.44 L1076,961.09 L1078,960.75 L1080,960.41 L1082,960.07 L1084,959.74 L1086,959.42 L1088,959.09 L1090,958.78 L1092,958.47 L1094,958.16 L1096,957.86 L1098,957.56 L1100,957.27 L1102,956.98 L1104,956.69 L1106,956.41 L1108,956.13 L1110,955.86 L1112,955.59 L1114,955.32 L1116,955.06 L1118,954.79 L1120,954.54 L1122,954.28 L1124,954.03 L1126,953.78 L1128,953.53 L1130,953.29 L1132,953.05 L1134,952.81 L1136,952.57 L1138,952.33 L1140,952.1 L1142,951.87 L1144,951.64 L1146,951.41 L1148,951.18 L1150,950.96 L1152,950.73 L1154,950.51 L1156,950.29 L1158,950.07 L1160,949.85 L1162,949.64 L1164,949.42 L1166,949.2 L1168,948.99 L1170,948.78 L1172,948.57 L1174,948.36 L1176,948.15 L1178,947.94 L1180,947.74 L1182,947.53 L1184,947.33 L1186,947.13 L1188,946.92 L1190,946.72 L1192,946.52 L1194,946.33 L1196,946.13 L1198,945.94 L1200,945.74 L1202,945.55 L1204,945.36 L1206,945.17 L1208,944.98 L1210,944.79 L1212,944.6 L1214,944.41 L1216,944.23 L1218,944.04 L1220,943.86 L1222,943.68 L1224,943.5 L1226,943.32 L1228,943.14 L1230,942.96 L1232,942.79 L1234,942.61 L1236,942.44 L1238,942.26 L1240,942.09 L1242,941.92 L1244,941.75 L1246,941.58 L1248,941.41 L1250,941.24 L1252,941.08 L1254,940.91 L1256,940.75 L1258,940.58 L1260,940.42 L1262,940.26 L1264,940.1 L1266,939.94 L1268,939.78 L1270,939.62 L1272,939.46 L1274,939.31 L1276,939.15 L1278,939 L1280,938.85 L1282,938.69 L1284,938.54 L1286,938.39 L1288,938.24 L1290,938.09 L1292,937.94 L1294,937.8 L1296,937.65 L1298,937.5 L1300,937.36 L1302,937.21 L1304,937.07 L1306,936.93 L1308,936.79 L1310,936.64 L1312,936.5 L1314,936.37 L1316,936.23 L1318,936.09 L1320,935.95 L1322,935.81 L1324,935.68 L1326,935.54 L1328,935.41 L1330,935.28 L1332,935.14 L1334,935.01 L1336,934.88 L1338,934.75 L1340,934.62 L1342,934.49 L1344,934.36 L1346,934.23 L1348,934.11 L1350,933.98 L1352,933.85 L1354,933.73 L1356,933.6 L1358,933.48 L1360,933.35 L1362,933.23 L1364,933.11 L1366,932.99 L1368,932.87 L1370,932.75 L1372,932.62 L1374,932.51 L1376,932.39 L1378,932.27 L1380,932.15 L1382,932.03 L1384,931.92 L1386,931.8 L1388,931.68 L1390,931.57 L1392,931.45 L1394,931.34 L1396,931.23 L1398,931.11 L1400,931 L1402,930.89 L1404,930.78 L1406,930.66 L1408,930.55 L1410,930.44 L1412,930.33 L1414,930.22 L1416,930.11 L1418,930 L1420,929.9 L1422,929.79 L1424,929.68 L1426,929.57 L1428,929.47 L1430,929.36 L1432,929.25 L1434,929.15 L1436,929.04 L1438,928.94 L1440,928.83 L1442,928.73 L1444,928.62 L1446,928.52 L1448,928.42 L1450,928.31 L1452,928.21 L1454,928.11 L1456,928.01 L1458,927.9 L1460,927.8 L1462,927.7 L1464,927.6 L1466,927.5 L1468,927.4 L1470,927.3 L1472,927.2 L1474,927.1 L1476,927 L1478,926.9 L1480,926.8 L1482,926.7 L1484,926.6 L1486,926.5 L1488,926.4 L1490,926.31" stroke="#000" stroke-dasharray="4.2 4.56" stroke-linecap="butt" stroke-linejoin="round"/>
<path d="M104.3,948.01 L106.3,948.06 L108.3,948.12 L110.3,948.17 L112.3,948.22 L114.3,948.28 L116.3,948.33 L118.3,948.38 L120.3,948.42 L122.3,948.47 L124.3,948.52 L126.3,948.56 L128.3,948.61 L130.3,948.65 L132.3,948.7 L134.3,948.74 L136.3,948.78 L138.3,948.82 L140.3,948.86 L142.3,948.9 L144.3,948.94 L146.3,948.98 L148.3,949.01 L150.3,949.05 L152.3,949.09 L154.3,949.12 L156.3,949.16 L158.3,949.19 L160.3,949.23 L162.3,949.26 L164.3,949.29 L166.3,949.33 L168.3,949.36 L170.3,949.39 L172.3,949.42 L174.3,949.45 L176.3,949.48 L178.3,949.51 L180.3,949.54 L182.3,949.57 L184.3,949.6 L186.3,949.63 L188.3,949.66 L190.3,949.69 L192.3,949.72 L194.3,949.75 L196.3,949.78 L198.3,949.81 L200.3,949.84 L202.3,949.87 L204.3,949.9 L206.3,949.93 L208.3,949.96 L210.3,949.98 L212.3,950.01 L214.3,950.04 L216.3,950.07 L218.3,950.1 L220.3,950.13 L222.3,950.16 L224.3,950.19 L226.3,950.22 L228.3,950.26 L230.3,950.29 L232.3,950.32 L234.3,950.35 L236.3,950.38 L238.3,950.42 L240.3,950.45 L242.3,950.49 L244.3,950.52 L246.3,950.55 L248.3,950.59 L250.3,950.63 L252.3,950.66 L254.3,950.7 L256.3,950.74 L258.3,950.78 L260.3,950.82 L262.3,950.86 L264.3,950.9 L266.3,950.94 L268.3,950.98 L270.3,951.03 L272.3,951.07 L274.3,951.11 L276.3,951.16 L278.3,951.21 L280.3,951.25 L282.3,951.3 L284.3,951.35 L286.3,951.4 L288.3,951.45 L290.3,951.51 L292.3,951.56 L294.3,951.62 L296.3,951.67 L298.3,951.73 L300.3,951.79 L302.3,951.85 L304.3,951.91 L306.3,951.97 L308.3,952.03 L310.3,952.1 L312.3,952.16 L314.3,952.23 L316.3,952.3 L318.3,952.37 L320.3,952.44 L322.3,952.51 L324.3,952.58 L326.3,952.66 L328.3,952.74 L330.3,952.82 L332.3,952.9 L334.3,952.98 L336.3,953.06 L338.3,953.15 L340.3,953.23 L342.3,953.32 L344.3,953.41 L346.3,953.5 L348.3,953.6 L350.3,953.69 L352.3,953.79 L354.3,953.89 L356.3,953.99 L358.3,954.09 L360.3,954.19 L362.3,954.3 L364.3,954.41 L366.3,954.52 L368.3,954.63 L370.3,954.74 L372.3,954.86 L374.3,954.98 L376.3,955.1 L378.3,955.22 L380.3,955.34 L382.3,955.47 L384.3,955.6 L386.3,955.73 L388.3,955.86 L390.3,956 L392.3,956.14 L394.3,956.28 L396.3,956.42 L398.3,956.56 L400.3,956.71 L402.3,956.86 L404.3,957.01 L406.3,957.17 L408.3,957.32 L410.3,957.48 L412.3,957.64 L414.3,957.81 L416.3,957.97 L418.3,958.14 L420.3,958.31 L422.3,958.49 L424.3,958.67 L426.3,958.85 L428.3,959.03 L430.3,959.21 L432.3,959.4 L434.3,959.59 L436.3,959.78 L438.3,959.98 L440.3,960.18 L442.3,960.38 L444.3,960.59 L446.3,960.79 L448.3,961 L450.3,961.22 L452.3,961.43 L454.3,961.65 L456.3,961.88 L458.3,962.1 L460.3,962.33 L462.3,962.56 L464.3,962.8 L466.3,963.04 L468.3,963.28 L470.3,963.52 L472.3,963.77 L474.3,964.02 L476.3,964.27 L478.3,964.53 L480.3,964.79 L482.3,965.06 L484.3,965.32 L486.3,965.59 L488.3,965.87 L490.3,966.14 L492.3,966.43 L494.3,966.71 L496.3,967 L498.3,967.29 L500.3,967.58 L502.3,967.88 L504.3,968.19 L506.3,968.49 L508.3,968.8 L510.3,969.11 L512.3,969.43 L514.3,969.75 L516.3,970.08 L518.3,970.4 L520.3,970.74 L522.3,971.07 L524.3,971.41 L526.3,971.75 L528.3,972.1 L530.3,972.45 L532.3,972.81 L534.3,973.17 L536.3,973.53 L538.3,973.9 L540.3,974.27 L542.3,974.64 L544.3,975.02 L546.3,975.4 L548.3,975.79 L550.3,976.18 L552.3,976.58 L554.3,976.98 L556.3,977.38 L558.3,977.79 L560.3,978.2 L562.3,978.62 L564.3,979.04 L566.3,979.47 L568.3,979.9 L570.3,980.33 L572.3,980.78 L574.3,981.22 L576.3,981.67 L578.3,982.13 L580.3,982.59 L582.3,983.06 L584.3,983.54 L586.3,984.02 L588.3,984.51 L590.3,985 L592.3,985.51 L594.3,986.01 L596.3,986.53 L598.3,987.05 L600.3,987.58 L602.3,988.12 L604.3,988.67 L606.3,989.22 L608.3,989.79 L610.3,990.36 L612.3,990.94 L614.3,991.53 L616.3,992.12 L618.3,992.73 L620.3,993.35 L622.3,993.97 L624.3,994.61 L626.3,995.25 L628.3,995.9 L630.3,996.57 L632.3,997.24 L634.3,997.93 L636.3,998.62 L638.3,999.33 L640.3,1000.05 L642.3,1000.78 L644.3,1001.52 L646.3,1002.27 L648.3,1003.03 L650.3,1003.8 L652.3,1004.59 L654.3,1005.39 L656.3,1006.2 L658.3,1007.02 L660.3,1007.86 L662.3,1008.71 L664.3,1009.57 L666.3,1010.45 L668.3,1011.33 L670.3,1012.24 L672.3,1013.15 L674.3,1014.08 L676.3,1015.02 L678.3,1015.98 L680.3,1016.95 L682.3,1017.94 L684.3,1018.94 L686.3,1019.96 L688.3,1020.99 L690.3,1022.03 L692.3,1023.1 L694.3,1024.17 L696.3,1025.26 L698.3,1026.37 L700.3,1027.5 L702.3,1028.64 L704.3,1029.8 L706.3,1030.97 L708.3,1032.16 L710.3,1033.37 L712.3,1034.59 L714.3,1035.83 L716.3,1037.09 L718.3,1038.37 L720.3,1039.66 L722.3,1040.97 L724.3,1042.3 L726.3,1043.65 L728.3,1045.02 L730.3,1046.41 L732.3,1047.81 L734.3,1049.24 L736.3,1050.68 L738.3,1052.15 L740.3,1053.63 L742.3,1055.13 L744.3,1056.66 L746.3,1058.2 L748.3,1059.77 L750.3,1061.36 L752.3,1062.97 L754.3,1064.6 L756.3,1066.25 L758.3,1067.93 L760.3,1069.62 L762.3,1071.34 L764.3,1073.09 L766.3,1074.85 L768.3,1076.64 L770.3,1078.45 L772.3,1080.29 L774.3,1082.15 L776.3,1084.04 L778.3,1085.95 L780.3,1087.88 L782.3,1089.84 L784.3,1091.81 L786.3,1093.78 L788.3,1095.75 L790.3,1097.71 L792.3,1099.64 L794.3,1101.54 L796.3,1103.39 L798.3,1105.19 L800.3,1106.93 L802.3,1108.6 L804.3,1110.18 L806.3,1111.67 L808.3,1113.07 L810.3,1114.35 L811.6,1115.12 L813.6,1115.53 L815.6,1115.95 L817.6,1116.38 L819.6,1116.8 L821.6,1117.23 L823.6,1117.66 L825.6,1117.31 L827.6,1116.87 L829.6,1116.44 L831.6,1116 L833.6,1115.57 L835.6,1115.13 L837.6,1114.7 L838.5,1114.5 L840.5,1113.05 L842.5,1111.49 L844.5,1109.89 L846.5,1108.26 L848.5,1106.59 L850.5,1104.89 L852.5,1103.16 L854.5,1101.4 L856.5,1099.63 L858.5,1097.83 L860.5,1096.02 L862.5,1094.2 L864.5,1092.37 L866.5,1090.53 L868.5,1088.7 L870.5,1086.86 L872.5,1085.03 L874.5,1083.21 L876.5,1081.39 L878.5,1079.6 L880.5,1077.81 L882.5,1076.04 L884.5,1074.29 L886.5,1072.56 L888.5,1070.86 L890.5,1069.18 L892.5,1067.52 L894.5,1065.89 L896.5,1064.28 L898.5,1062.7 L900.5,1061.14 L902.5,1059.6 L904.5,1058.08 L906.5,1056.59 L908.5,1055.12 L910.5,1053.67 L912.5,1052.24 L914.5,1050.83 L916.5,1049.44 L918.5,1048.07 L920.5,1046.72 L922.5,1045.39 L924.5,1044.07 L926.5,1042.77 L928.5,1041.49 L930.5,1040.22 L932.5,1038.97 L934.5,1037.74 L936.5,1036.52 L938.5,1035.31 L940.5,1034.12 L942.5,1032.95 L944.5,1031.79 L946.5,1030.64 L948.5,1029.51 L950.5,1028.39 L952.5,1027.28 L954.5,1026.19 L956.5,1025.11 L958.5,1024.05 L960.5,1023 L962.5,1021.96 L964.5,1020.94 L966.5,1019.92 L968.5,1018.93 L970.5,1017.94 L972.5,1016.97 L974.5,1016.01 L976.5,1015.06 L978.5,1014.12 L980.5,1013.2 L982.5,1012.29 L984.5,1011.39 L986.5,1010.5 L988.5,1009.62 L990.5,1008.76 L992.5,1007.9 L994.5,1007.06 L996.5,1006.23 L998.5,1005.41 L1000.5,1004.6 L1002.5,1003.8 L1004.5,1003.01 L1006.5,1002.24 L1008.5,1001.47 L1010.5,1000.71 L1012.5,999.97 L1014.5,999.23 L1016.5,998.51 L1018.5,997.79 L1020.5,997.08 L1022.5,996.39 L1024.5,995.7 L1026.5,995.02 L1028.5,994.35 L1030.5,993.7 L1032.5,993.04 L1034.5,992.4 L1036.5,991.77 L1038.5,991.15 L1040.5,990.53 L1042.5,989.92 L1044.5,989.32 L1046.5,988.73 L1048.5,988.15 L1050.5,987.58 L1052.5,987.01 L1054.5,986.45 L1056.5,985.9 L1058.5,985.35 L1060.5,984.82 L1062.5,984.29 L1064.5,983.76 L1066.5,983.25 L1068.5,982.74 L1070.5,982.23 L1072.5,981.74 L1074.5,981.25 L1076.5,980.77 L1078.5,980.29 L1080.5,979.82 L1082.5,979.35 L1084.5,978.89 L1086.5,978.44 L1088.5,977.99 L1090.5,977.55 L1092.5,977.11 L1094.5,976.68 L1096.5,976.25 L1098.5,975.83 L1100.5,975.42 L1102.5,975 L1104.5,974.6 L1106.5,974.19 L1108.5,973.79 L1110.5,973.4 L1112.5,973.01 L1114.5,972.62 L1116.5,972.24 L1118.5,971.86 L1120.5,971.49 L1122.5,971.12 L1124.5,970.75 L1126.5,970.39 L1128.5,970.02 L1130.5,969.67 L1132.5,969.31 L1134.5,968.96 L1136.5,968.62 L1138.5,968.28 L1140.5,967.94 L1142.5,967.6 L1144.5,967.27 L1146.5,966.94 L1148.5,966.61 L1150.5,966.29 L1152.5,965.97 L1154.5,965.65 L1156.5,965.34 L1158.5,965.03 L1160.5,964.73 L1162.5,964.42 L1164.5,964.12 L1166.5,963.83 L1168.5,963.54 L1170.5,963.25 L1172.5,962.96 L1174.5,962.68 L1176.5,962.39 L1178.5,962.12 L1180.5,961.84 L1182.5,961.57 L1184.5,961.3 L1186.5,961.04 L1188.5,960.78 L1190.5,960.52 L1192.5,960.26 L1194.5,960.01 L1196.5,959.76 L1198.5,959.51 L1200.5,959.27 L1202.5,959.02 L1204.5,958.79 L1206.5,958.55 L1208.5,958.32 L1210.5,958.09 L1212.5,957.86 L1214.5,957.63 L1216.5,957.41 L1218.5,957.19 L1220.5,956.98 L1222.5,956.76 L1224.5,956.55 L1226.5,956.34 L1228.5,956.14 L1230.5,955.93 L1232.5,955.73 L1234.5,955.54 L1236.5,955.34 L1238.5,955.15 L1240.5,954.96 L1242.5,954.77 L1244.5,954.59 L1246.5,954.4 L1248.5,954.22 L1250.5,954.04 L1252.5,953.87 L1254.5,953.7 L1256.5,953.52 L1258.5,953.36 L1260.5,953.19 L1262.5,953.03 L1264.5,952.87 L1266.5,952.71 L1268.5,952.55 L1270.5,952.4 L1272.5,952.24 L1274.5,952.09 L1276.5,951.95 L1278.5,951.8 L1280.5,951.66 L1282.5,951.52 L1284.5,951.38 L1286.5,951.24 L1288.5,951.1 L1290.5,950.97 L1292.5,950.84 L1294.5,950.71 L1296.5,950.59 L1298.5,950.46 L1300.5,950.34 L1302.5,950.22 L1304.5,950.1 L1306.5,949.98 L1308.5,949.87 L1310.5,949.75 L1312.5,949.64 L1314.5,949.53 L1316.5,949.42 L1318.5,949.32 L1320.5,949.21 L1322.5,949.11 L1324.5,949.01 L1326.5,948.91 L1328.5,948.82 L1330.5,948.72 L1332.5,948.63 L1334.5,948.54 L1336.5,948.45 L1338.5,948.36 L1340.5,948.27 L1342.5,948.19 L1344.5,948.1 L1346.5,948.02 L1348.5,947.94 L1350.5,947.86 L1352.5,947.78 L1354.5,947.71 L1356.5,947.63 L1358.5,947.56 L1360.5,947.49 L1362.5,947.42 L1364.5,947.35 L1366.5,947.28 L1368.5,947.21 L1370.5,947.15 L1372.5,947.08 L1374.5,947.02 L1376.5,946.96 L1378.5,946.9 L1380.5,946.84 L1382.5,946.79 L1384.5,946.73 L1386.5,946.67 L1388.5,946.62 L1390.5,946.57 L1392.5,946.52 L1394.5,946.47 L1396.5,946.42 L1398.5,946.37 L1400.5,946.32 L1402.5,946.28 L1404.5,946.23 L1406.5,946.19 L1408.5,946.14 L1410.5,946.1 L1412.5,946.06 L1414.5,946.02 L1416.5,945.98 L1418.5,945.94 L1420.5,945.91 L1422.5,945.87 L1424.5,945.83 L1426.5,945.8 L1428.5,945.77 L1430.5,945.73 L1432.5,945.7 L1434.5,945.67 L1436.5,945.64 L1438.5,945.61 L1440.5,945.58 L1442.5,945.55 L1444.5,945.52 L1446.5,945.49 L1448.5,945.47 L1450.5,945.44 L1452.5,945.41 L1454.5,945.39 L1456.5,945.36 L1458.5,945.34 L1460.5,945.32 L1462.5,945.29 L1464.5,945.27 L1466.5,945.25 L1468.5,945.23 L1470.5,945.21 L1472.5,945.19 L1474.5,945.16 L1476.5,945.14 L1478.5,945.12 L1480.5,945.11 L1482.5,945.09 L1484.5,945.07 L1486.5,945.05 L1488.5,945.03 L1490,945.02" stroke="#000" stroke-linecap="butt" stroke-linejoin="round"/>
</g>
<path d="M104.3,1165.35 V1151.35 M104.3,877.6 V891.6 M242.87,1165.35 V1151.35 M242.87,877.6 V891.6 M381.44,1165.35 V1151.35 M381.44,877.6 V891.6 M520.01,1165.35 V1151.35 M520.01,877.6 V891.6 M658.58,1165.35 V1151.35 M658.58,877.6 V891.6 M797.15,1165.35 V1151.35 M797.15,877.6 V891.6 M935.72,1165.35 V1151.35 M935.72,877.6 V891.6 M1074.29,1165.35 V1151.35 M1074.29,877.6 V891.6 M1212.86,1165.35 V1151.35 M1212.86,877.6 V891.6 M1351.43,1165.35 V1151.35 M1351.43,877.6 V891.6 M1490,1165.35 V1151.35 M1490,877.6 V891.6 M104.3,877.6 H118.3 M1490,877.6 H1476 M104.3,973.52 H118.3 M1490,973.52 H1476 M104.3,1069.43 H118.3 M1490,1069.43 H1476 M104.3,1165.35 H118.3 M1490,1165.35 H1476" stroke="#262626" stroke-width="1.3" fill="none"/>
<rect x="104.3" y="877.6" width="1385.7" height="287.75" stroke="#262626" stroke-width="1.4" fill="none"/>
<text x="104.3" y="1210.35" font-size="34" text-anchor="middle">1</text>
<text x="242.87" y="1210.35" font-size="34" text-anchor="middle">1.1</text>
<text x="381.44" y="1210.35" font-size="34" text-anchor="middle">1.2</text>
<text x="520.01" y="1210.35" font-size="34" text-anchor="middle">1.3</text>
<text x="658.58" y="1210.35" font-size="34" text-anchor="middle">1.4</text>
<text x="797.15" y="1210.35" font-size="34" text-anchor="middle">1.5</text>
<text x="935.72" y="1210.35" font-size="34" text-anchor="middle">1.6</text>
<text x="1074.29" y="1210.35" font-size="34" text-anchor="middle">1.7</text>
<text x="1212.86" y="1210.35" font-size="34" text-anchor="middle">1.8</text>
<text x="1351.43" y="1210.35" font-size="34" text-anchor="middle">1.9</text>
<text x="1490" y="1210.35" font-size="34" text-anchor="middle">2</text>
<text x="90.3" y="889.4" font-size="34" text-anchor="end">0</text>
<text x="90.3" y="985.32" font-size="34" text-anchor="end">-10</text>
<text x="90.3" y="1081.23" font-size="34" text-anchor="end">-20</text>
<text x="90.3" y="1177.15" font-size="34" text-anchor="end">-30</text>
<text x="797" y="1255.35" font-size="37.5" text-anchor="middle">Frequency [GHz]</text>
<text transform="translate(29,1021.47) rotate(-90)" font-size="37.5" text-anchor="middle">S-parameters [dB]</text>
<rect x="1321.3" y="939.5" width="149.6" height="209.2" fill="#fff" stroke="#262626" stroke-width="1.3"/>
<line x1="1328.7" y1="967.9" x2="1402.3" y2="967.9" stroke="#000" stroke-width="4.6" stroke-dasharray="4.2 4.56"/>
<line x1="1328.7" y1="1018.8" x2="1402.3" y2="1018.8" stroke="#000" stroke-width="4.6" stroke-dasharray="17.5 17.5"/>
<line x1="1328.7" y1="1069.5" x2="1402.3" y2="1069.5" stroke="#000" stroke-width="4.6" stroke-dasharray="17.5 17.5"/>
<line x1="1328.7" y1="1120.7" x2="1402.3" y2="1120.7" stroke="#000" stroke-width="4.6"/>
<path d="M1410.6,951.4 v28 M1459,951.4 v28" stroke="#000" stroke-width="1.3"/>
<text transform="translate(1414.1,973.3) scale(1.22,1)" font-size="31" font-style="italic" fill="#000">S</text>
<text x="1432.1" y="987.5" font-size="23.5" fill="#000">11</text>
<path d="M1410.6,1002.3 v28 M1459,1002.3 v28" stroke="#000" stroke-width="1.3"/>
<text transform="translate(1414.1,1024.2) scale(1.22,1)" font-size="31" font-style="italic" fill="#000">S</text>
<text x="1432.1" y="1038.4" font-size="23.5" fill="#000">21</text>
<path d="M1410.6,1053 v28 M1459,1053 v28" stroke="#000" stroke-width="1.3"/>
<text transform="translate(1414.1,1074.9) scale(1.22,1)" font-size="31" font-style="italic" fill="#000">S</text>
<text x="1432.1" y="1089.1" font-size="23.5" fill="#000">31</text>
<path d="M1410.6,1104.2 v28 M1459,1104.2 v28" stroke="#000" stroke-width="1.3"/>
<text transform="translate(1414.1,1126.1) scale(1.22,1)" font-size="31" font-style="italic" fill="#000">S</text>
<text x="1432.1" y="1140.3" font-size="23.5" fill="#000">41</text>
<line x1="199.64" y1="429.3" x2="199.64" y2="707.7" stroke="#c4c4c4" stroke-width="1.1" stroke-dasharray="1 1"/>
<line x1="323.93" y1="429.3" x2="323.93" y2="707.7" stroke="#c4c4c4" stroke-width="1.1" stroke-dasharray="1 1"/>
<line x1="448.22" y1="429.3" x2="448.22" y2="707.7" stroke="#c4c4c4" stroke-width="1.1" stroke-dasharray="1 1"/>
<line x1="572.51" y1="429.3" x2="572.51" y2="707.7" stroke="#c4c4c4" stroke-width="1.1" stroke-dasharray="1 1"/>
<line x1="137.5" y1="614.9" x2="696.8" y2="614.9" stroke="#c4c4c4" stroke-width="1.1" stroke-dasharray="1 1"/>
<line x1="137.5" y1="522.1" x2="696.8" y2="522.1" stroke="#c4c4c4" stroke-width="1.1" stroke-dasharray="1 1"/>
<path d="M137.5,451 L199.64,563 L261.79,603.6 L323.93,650 L386.08,616.8 L448.22,651.1 L510.37,682 L572.51,671.2 L634.66,671.8 L696.8,672.9" stroke="#000" stroke-width="4.5" fill="none" stroke-linejoin="round"/>
<circle cx="137.5" cy="451" r="6.3" stroke="#000" stroke-width="4" fill="none"/>
<circle cx="199.64" cy="563" r="6.3" stroke="#000" stroke-width="4" fill="none"/>
<circle cx="261.79" cy="603.6" r="6.3" stroke="#000" stroke-width="4" fill="none"/>
<circle cx="323.93" cy="650" r="6.3" stroke="#000" stroke-width="4" fill="none"/>
<circle cx="386.08" cy="616.8" r="6.3" stroke="#000" stroke-width="4" fill="none"/>
<circle cx="448.22" cy="651.1" r="6.3" stroke="#000" stroke-width="4" fill="none"/>
<circle cx="510.37" cy="682" r="6.3" stroke="#000" stroke-width="4" fill="none"/>
<circle cx="572.51" cy="671.2" r="6.3" stroke="#000" stroke-width="4" fill="none"/>
<circle cx="634.66" cy="671.8" r="6.3" stroke="#000" stroke-width="4" fill="none"/>
<circle cx="696.8" cy="672.9" r="6.3" stroke="#000" stroke-width="4" fill="none"/>
<path d="M199.64,707.7 V701.7 M199.64,429.3 V435.3 M323.93,707.7 V701.7 M323.93,429.3 V435.3 M448.22,707.7 V701.7 M448.22,429.3 V435.3 M572.51,707.7 V701.7 M572.51,429.3 V435.3 M696.8,707.7 V701.7 M696.8,429.3 V435.3 M137.5,707.7 H143.5 M696.8,707.7 H690.8 M137.5,614.9 H143.5 M696.8,614.9 H690.8 M137.5,522.1 H143.5 M696.8,522.1 H690.8 M137.5,429.3 H143.5 M696.8,429.3 H690.8" stroke="#262626" stroke-width="1.3" fill="none"/>
<rect x="137.5" y="429.3" width="559.3" height="278.4" stroke="#262626" stroke-width="1.4" fill="none"/>
<text x="199.64" y="747.9" font-size="31" text-anchor="middle">2</text>
<text x="323.93" y="747.9" font-size="31" text-anchor="middle">4</text>
<text x="448.22" y="747.9" font-size="31" text-anchor="middle">6</text>
<text x="572.51" y="747.9" font-size="31" text-anchor="middle">8</text>
<text x="696.8" y="747.9" font-size="31" text-anchor="middle">10</text>
<text x="127.4" y="720.3" font-size="31" text-anchor="end">320</text>
<text x="127.4" y="627.5" font-size="31" text-anchor="end">330</text>
<text x="127.4" y="534.7" font-size="31" text-anchor="end">340</text>
<text x="127.4" y="441.9" font-size="31" text-anchor="end">350</text>
<text x="417.15" y="786.3" font-size="34" text-anchor="middle">Iteration index <tspan font-style="italic">i</tspan></text>
<text transform="translate(66.8,567.5) rotate(-90)" font-size="34" text-anchor="middle">Circuit size [mm<tspan dy="-15.5" font-size="25">2</tspan><tspan dy="15.5">]</tspan></text>
<line x1="925.97" y1="429.4" x2="925.97" y2="707.9" stroke="#c4c4c4" stroke-width="1.1" stroke-dasharray="1 1"/>
<line x1="1053.5" y1="429.4" x2="1053.5" y2="707.9" stroke="#c4c4c4" stroke-width="1.1" stroke-dasharray="1 1"/>
<line x1="1181.03" y1="429.4" x2="1181.03" y2="707.9" stroke="#c4c4c4" stroke-width="1.1" stroke-dasharray="1 1"/>
<line x1="1308.57" y1="429.4" x2="1308.57" y2="707.9" stroke="#c4c4c4" stroke-width="1.1" stroke-dasharray="1 1"/>
<line x1="862.2" y1="682.58" x2="1436.1" y2="682.58" stroke="#c4c4c4" stroke-width="1.1" stroke-dasharray="1 1"/>
<line x1="862.2" y1="555.99" x2="1436.1" y2="555.99" stroke="#c4c4c4" stroke-width="1.1" stroke-dasharray="1 1"/>
<path d="M862.2,682.58 L925.97,551.94 L989.73,477.5 L1053.5,472.44 L1117.27,612.96 L1181.03,679.54 L1244.8,534.47 L1308.57,627.39 L1372.33,683.34 L1436.1,683.34" stroke="#000" stroke-width="4.5" fill="none" stroke-dasharray="13 13.5"/>
<circle cx="862.2" cy="682.58" r="6.7" fill="#000"/>
<circle cx="925.97" cy="551.94" r="6.7" fill="#000"/>
<circle cx="989.73" cy="477.5" r="6.7" fill="#000"/>
<circle cx="1053.5" cy="472.44" r="6.7" fill="#000"/>
<circle cx="1117.27" cy="612.96" r="6.7" fill="#000"/>
<circle cx="1181.03" cy="679.54" r="6.7" fill="#000"/>
<circle cx="1244.8" cy="534.47" r="6.7" fill="#000"/>
<circle cx="1308.57" cy="627.39" r="6.7" fill="#000"/>
<circle cx="1372.33" cy="683.34" r="6.7" fill="#000"/>
<circle cx="1436.1" cy="683.34" r="6.7" fill="#000"/>
<path d="M862.2,682.58 L925.97,682.58 L989.73,682.58 L1053.5,682.58 L1117.27,682.58 L1181.03,679.29 L1244.8,682.08 L1308.57,673.72 L1372.33,678.28 L1436.1,681.57" stroke="#000" stroke-width="4.5" fill="none" stroke-linejoin="round"/>
<circle cx="862.2" cy="682.58" r="6.3" stroke="#000" stroke-width="4" fill="none"/>
<circle cx="925.97" cy="682.58" r="6.3" stroke="#000" stroke-width="4" fill="none"/>
<circle cx="989.73" cy="682.58" r="6.3" stroke="#000" stroke-width="4" fill="none"/>
<circle cx="1053.5" cy="682.58" r="6.3" stroke="#000" stroke-width="4" fill="none"/>
<circle cx="1117.27" cy="682.58" r="6.3" stroke="#000" stroke-width="4" fill="none"/>
<circle cx="1181.03" cy="679.29" r="6.3" stroke="#000" stroke-width="4" fill="none"/>
<circle cx="1244.8" cy="682.08" r="6.3" stroke="#000" stroke-width="4" fill="none"/>
<circle cx="1308.57" cy="673.72" r="6.3" stroke="#000" stroke-width="4" fill="none"/>
<circle cx="1372.33" cy="678.28" r="6.3" stroke="#000" stroke-width="4" fill="none"/>
<circle cx="1436.1" cy="681.57" r="6.3" stroke="#000" stroke-width="4" fill="none"/>
<line x1="862.2" y1="682.78" x2="1436.1" y2="682.78" stroke="#d82c2c" stroke-width="1.6"/>
<path d="M925.97,707.9 V701.9 M925.97,429.4 V435.4 M1053.5,707.9 V701.9 M1053.5,429.4 V435.4 M1181.03,707.9 V701.9 M1181.03,429.4 V435.4 M1308.57,707.9 V701.9 M1308.57,429.4 V435.4 M1436.1,707.9 V701.9 M1436.1,429.4 V435.4 M862.2,682.58 H868.2 M1436.1,682.58 H1430.1 M862.2,555.99 H868.2 M1436.1,555.99 H1430.1 M862.2,429.4 H868.2 M1436.1,429.4 H1430.1" stroke="#262626" stroke-width="1.3" fill="none"/>
<rect x="862.2" y="429.4" width="573.9" height="278.5" stroke="#262626" stroke-width="1.4" fill="none"/>
<text x="925.97" y="748.1" font-size="31" text-anchor="middle">2</text>
<text x="1053.5" y="748.1" font-size="31" text-anchor="middle">4</text>
<text x="1181.03" y="748.1" font-size="31" text-anchor="middle">6</text>
<text x="1308.57" y="748.1" font-size="31" text-anchor="middle">8</text>
<text x="1436.1" y="748.1" font-size="31" text-anchor="middle">10</text>
<text x="850.2" y="695.18" font-size="31" text-anchor="end">0</text>
<text x="850.2" y="568.59" font-size="31" text-anchor="end">0.5</text>
<text x="850.2" y="442" font-size="31" text-anchor="end">1</text>
<text x="1149.15" y="786.5" font-size="34" text-anchor="middle">Iteration index <tspan font-style="italic">i</tspan></text>
<text transform="translate(798,569.15) rotate(-90)" font-size="34" text-anchor="middle">Constraint viol. [dB]</text>
<rect x="1185.9" y="444" width="232.6" height="97" fill="#fff" stroke="#262626" stroke-width="1.3"/>
<line x1="1192.7" y1="469.2" x2="1258" y2="469.2" stroke="#000" stroke-width="4.5"/>
<circle cx="1225.4" cy="469.2" r="6.3" stroke="#000" stroke-width="4" fill="none"/>
<path d="M1192.7,515 h13.1 M1244.9,515 h13.1" stroke="#000" stroke-width="4.5"/>
<circle cx="1225.4" cy="515" r="6.7" fill="#000"/>
<text x="1264" y="475.4" font-size="29.5" textLength="112.5" lengthAdjust="spacingAndGlyphs" fill="#000">Constraint</text>
<text x="1384" y="475.4" font-size="29.5" font-style="italic" fill="#000">g</text>
<text x="1401.5" y="487.9" font-size="21" fill="#000">1</text>
<text x="1264" y="519.6" font-size="29.5" textLength="112.5" lengthAdjust="spacingAndGlyphs" fill="#000">Constraint</text>
<text x="1384" y="519.6" font-size="29.5" font-style="italic" fill="#000">g</text>
<text x="1401.5" y="532.1" font-size="21" fill="#000">2</text>
<line x1="174.79" y1="1293" x2="174.79" y2="1571.4" stroke="#c4c4c4" stroke-width="1.1" stroke-dasharray="1 1"/>
<line x1="249.36" y1="1293" x2="249.36" y2="1571.4" stroke="#c4c4c4" stroke-width="1.1" stroke-dasharray="1 1"/>
<line x1="323.93" y1="1293" x2="323.93" y2="1571.4" stroke="#c4c4c4" stroke-width="1.1" stroke-dasharray="1 1"/>
<line x1="398.51" y1="1293" x2="398.51" y2="1571.4" stroke="#c4c4c4" stroke-width="1.1" stroke-dasharray="1 1"/>
<line x1="473.08" y1="1293" x2="473.08" y2="1571.4" stroke="#c4c4c4" stroke-width="1.1" stroke-dasharray="1 1"/>
<line x1="547.65" y1="1293" x2="547.65" y2="1571.4" stroke="#c4c4c4" stroke-width="1.1" stroke-dasharray="1 1"/>
<line x1="622.23" y1="1293" x2="622.23" y2="1571.4" stroke="#c4c4c4" stroke-width="1.1" stroke-dasharray="1 1"/>
<line x1="137.5" y1="1491.86" x2="696.8" y2="1491.86" stroke="#c4c4c4" stroke-width="1.1" stroke-dasharray="1 1"/>
<line x1="137.5" y1="1412.31" x2="696.8" y2="1412.31" stroke="#c4c4c4" stroke-width="1.1" stroke-dasharray="1 1"/>
<line x1="137.5" y1="1332.77" x2="696.8" y2="1332.77" stroke="#c4c4c4" stroke-width="1.1" stroke-dasharray="1 1"/>
<path d="M137.5,1302.4 L174.79,1440.4 L212.07,1472 L249.36,1499.6 L286.65,1498 L323.93,1508.4 L361.22,1519 L398.51,1513.5 L435.79,1509 L473.08,1519.4 L510.37,1510.6 L547.65,1520.6 L584.94,1519.4 L622.23,1519 L659.51,1519 L696.8,1519.4" stroke="#000" stroke-width="4.5" fill="none" stroke-linejoin="round"/>
<circle cx="137.5" cy="1302.4" r="6.3" stroke="#000" stroke-width="4" fill="none"/>
<circle cx="174.79" cy="1440.4" r="6.3" stroke="#000" stroke-width="4" fill="none"/>
<circle cx="212.07" cy="1472" r="6.3" stroke="#000" stroke-width="4" fill="none"/>
<circle cx="249.36" cy="1499.6" r="6.3" stroke="#000" stroke-width="4" fill="none"/>
<circle cx="286.65" cy="1498" r="6.3" stroke="#000" stroke-width="4" fill="none"/>
<circle cx="323.93" cy="1508.4" r="6.3" stroke="#000" stroke-width="4" fill="none"/>
<circle cx="361.22" cy="1519" r="6.3" stroke="#000" stroke-width="4" fill="none"/>
<circle cx="398.51" cy="1513.5" r="6.3" stroke="#000" stroke-width="4" fill="none"/>
<circle cx="435.79" cy="1509" r="6.3" stroke="#000" stroke-width="4" fill="none"/>
<circle cx="473.08" cy="1519.4" r="6.3" stroke="#000" stroke-width="4" fill="none"/>
<circle cx="510.37" cy="1510.6" r="6.3" stroke="#000" stroke-width="4" fill="none"/>
<circle cx="547.65" cy="1520.6" r="6.3" stroke="#000" stroke-width="4" fill="none"/>
<circle cx="584.94" cy="1519.4" r="6.3" stroke="#000" stroke-width="4" fill="none"/>
<circle cx="622.23" cy="1519" r="6.3" stroke="#000" stroke-width="4" fill="none"/>
<circle cx="659.51" cy="1519" r="6.3" stroke="#000" stroke-width="4" fill="none"/>
<circle cx="696.8" cy="1519.4" r="6.3" stroke="#000" stroke-width="4" fill="none"/>
<path d="M174.79,1571.4 V1565.4 M174.79,1293 V1299 M249.36,1571.4 V1565.4 M249.36,1293 V1299 M323.93,1571.4 V1565.4 M323.93,1293 V1299 M398.51,1571.4 V1565.4 M398.51,1293 V1299 M473.08,1571.4 V1565.4 M473.08,1293 V1299 M547.65,1571.4 V1565.4 M547.65,1293 V1299 M622.23,1571.4 V1565.4 M622.23,1293 V1299 M696.8,1571.4 V1565.4 M696.8,1293 V1299 M137.5,1571.4 H143.5 M696.8,1571.4 H690.8 M137.5,1491.86 H143.5 M696.8,1491.86 H690.8 M137.5,1412.31 H143.5 M696.8,1412.31 H690.8 M137.5,1332.77 H143.5 M696.8,1332.77 H690.8" stroke="#262626" stroke-width="1.3" fill="none"/>
<rect x="137.5" y="1293" width="559.3" height="278.4" stroke="#262626" stroke-width="1.4" fill="none"/>
<text x="174.79" y="1611.6" font-size="31" text-anchor="middle">2</text>
<text x="249.36" y="1611.6" font-size="31" text-anchor="middle">4</text>
<text x="323.93" y="1611.6" font-size="31" text-anchor="middle">6</text>
<text x="398.51" y="1611.6" font-size="31" text-anchor="middle">8</text>
<text x="473.08" y="1611.6" font-size="31" text-anchor="middle">10</text>
<text x="547.65" y="1611.6" font-size="31" text-anchor="middle">12</text>
<text x="622.23" y="1611.6" font-size="31" text-anchor="middle">14</text>
<text x="696.8" y="1611.6" font-size="31" text-anchor="middle">16</text>
<text x="127.4" y="1584" font-size="31" text-anchor="end">280</text>
<text x="127.4" y="1504.46" font-size="31" text-anchor="end">300</text>
<text x="127.4" y="1424.91" font-size="31" text-anchor="end">320</text>
<text x="127.4" y="1345.37" font-size="31" text-anchor="end">340</text>
<text x="417.15" y="1650" font-size="34" text-anchor="middle">Iteration index <tspan font-style="italic">i</tspan></text>
<text transform="translate(66.8,1431.2) rotate(-90)" font-size="34" text-anchor="middle">Circuit size [mm<tspan dy="-15.5" font-size="25">2</tspan><tspan dy="15.5">]</tspan></text>
<line x1="900.46" y1="1293.1" x2="900.46" y2="1571.5" stroke="#c4c4c4" stroke-width="1.1" stroke-dasharray="1 1"/>
<line x1="976.98" y1="1293.1" x2="976.98" y2="1571.5" stroke="#c4c4c4" stroke-width="1.1" stroke-dasharray="1 1"/>
<line x1="1053.5" y1="1293.1" x2="1053.5" y2="1571.5" stroke="#c4c4c4" stroke-width="1.1" stroke-dasharray="1 1"/>
<line x1="1130.02" y1="1293.1" x2="1130.02" y2="1571.5" stroke="#c4c4c4" stroke-width="1.1" stroke-dasharray="1 1"/>
<line x1="1206.54" y1="1293.1" x2="1206.54" y2="1571.5" stroke="#c4c4c4" stroke-width="1.1" stroke-dasharray="1 1"/>
<line x1="1283.06" y1="1293.1" x2="1283.06" y2="1571.5" stroke="#c4c4c4" stroke-width="1.1" stroke-dasharray="1 1"/>
<line x1="1359.58" y1="1293.1" x2="1359.58" y2="1571.5" stroke="#c4c4c4" stroke-width="1.1" stroke-dasharray="1 1"/>
<line x1="862.2" y1="1546.19" x2="1436.1" y2="1546.19" stroke="#c4c4c4" stroke-width="1.1" stroke-dasharray="1 1"/>
<line x1="862.2" y1="1419.65" x2="1436.1" y2="1419.65" stroke="#c4c4c4" stroke-width="1.1" stroke-dasharray="1 1"/>
<path d="M862.2,1546.19 L900.46,1464.95 L938.72,1546.19 L976.98,1366.24 L1015.24,1501.39 L1053.5,1493.55 L1091.76,1371.81 L1130.02,1387.76 L1168.28,1508.73 L1206.54,1470.77 L1244.8,1527.72 L1283.06,1427.49 L1321.32,1381.68 L1359.58,1403.19 L1397.84,1439.89 L1436.1,1470.01" stroke="#000" stroke-width="4.5" fill="none" stroke-dasharray="13 13.5"/>
<circle cx="862.2" cy="1546.19" r="6.7" fill="#000"/>
<circle cx="900.46" cy="1464.95" r="6.7" fill="#000"/>
<circle cx="938.72" cy="1546.19" r="6.7" fill="#000"/>
<circle cx="976.98" cy="1366.24" r="6.7" fill="#000"/>
<circle cx="1015.24" cy="1501.39" r="6.7" fill="#000"/>
<circle cx="1053.5" cy="1493.55" r="6.7" fill="#000"/>
<circle cx="1091.76" cy="1371.81" r="6.7" fill="#000"/>
<circle cx="1130.02" cy="1387.76" r="6.7" fill="#000"/>
<circle cx="1168.28" cy="1508.73" r="6.7" fill="#000"/>
<circle cx="1206.54" cy="1470.77" r="6.7" fill="#000"/>
<circle cx="1244.8" cy="1527.72" r="6.7" fill="#000"/>
<circle cx="1283.06" cy="1427.49" r="6.7" fill="#000"/>
<circle cx="1321.32" cy="1381.68" r="6.7" fill="#000"/>
<circle cx="1359.58" cy="1403.19" r="6.7" fill="#000"/>
<circle cx="1397.84" cy="1439.89" r="6.7" fill="#000"/>
<circle cx="1436.1" cy="1470.01" r="6.7" fill="#000"/>
<path d="M862.2,1546.19 L900.46,1535.81 L938.72,1546.19 L976.98,1527.97 L1015.24,1513.29 L1053.5,1546.19 L1091.76,1546.19 L1130.02,1546.19 L1168.28,1546.19 L1206.54,1544.93 L1244.8,1546.19 L1283.06,1546.19 L1321.32,1546.19 L1359.58,1546.19 L1397.84,1546.19 L1436.1,1546.19" stroke="#000" stroke-width="4.5" fill="none" stroke-linejoin="round"/>
<circle cx="862.2" cy="1546.19" r="6.3" stroke="#000" stroke-width="4" fill="none"/>
<circle cx="900.46" cy="1535.81" r="6.3" stroke="#000" stroke-width="4" fill="none"/>
<circle cx="938.72" cy="1546.19" r="6.3" stroke="#000" stroke-width="4" fill="none"/>
<circle cx="976.98" cy="1527.97" r="6.3" stroke="#000" stroke-width="4" fill="none"/>
<circle cx="1015.24" cy="1513.29" r="6.3" stroke="#000" stroke-width="4" fill="none"/>
<circle cx="1053.5" cy="1546.19" r="6.3" stroke="#000" stroke-width="4" fill="none"/>
<circle cx="1091.76" cy="1546.19" r="6.3" stroke="#000" stroke-width="4" fill="none"/>
<circle cx="1130.02" cy="1546.19" r="6.3" stroke="#000" stroke-width="4" fill="none"/>
<circle cx="1168.28" cy="1546.19" r="6.3" stroke="#000" stroke-width="4" fill="none"/>
<circle cx="1206.54" cy="1544.93" r="6.3" stroke="#000" stroke-width="4" fill="none"/>
<circle cx="1244.8" cy="1546.19" r="6.3" stroke="#000" stroke-width="4" fill="none"/>
<circle cx="1283.06" cy="1546.19" r="6.3" stroke="#000" stroke-width="4" fill="none"/>
<circle cx="1321.32" cy="1546.19" r="6.3" stroke="#000" stroke-width="4" fill="none"/>
<circle cx="1359.58" cy="1546.19" r="6.3" stroke="#000" stroke-width="4" fill="none"/>
<circle cx="1397.84" cy="1546.19" r="6.3" stroke="#000" stroke-width="4" fill="none"/>
<circle cx="1436.1" cy="1546.19" r="6.3" stroke="#000" stroke-width="4" fill="none"/>
<line x1="862.2" y1="1546.39" x2="1436.1" y2="1546.39" stroke="#d82c2c" stroke-width="1.6"/>
<path d="M900.46,1571.5 V1565.5 M900.46,1293.1 V1299.1 M976.98,1571.5 V1565.5 M976.98,1293.1 V1299.1 M1053.5,1571.5 V1565.5 M1053.5,1293.1 V1299.1 M1130.02,1571.5 V1565.5 M1130.02,1293.1 V1299.1 M1206.54,1571.5 V1565.5 M1206.54,1293.1 V1299.1 M1283.06,1571.5 V1565.5 M1283.06,1293.1 V1299.1 M1359.58,1571.5 V1565.5 M1359.58,1293.1 V1299.1 M1436.1,1571.5 V1565.5 M1436.1,1293.1 V1299.1 M862.2,1546.19 H868.2 M1436.1,1546.19 H1430.1 M862.2,1419.65 H868.2 M1436.1,1419.65 H1430.1 M862.2,1293.1 H868.2 M1436.1,1293.1 H1430.1" stroke="#262626" stroke-width="1.3" fill="none"/>
<rect x="862.2" y="1293.1" width="573.9" height="278.4" stroke="#262626" stroke-width="1.4" fill="none"/>
<text x="900.46" y="1611.7" font-size="31" text-anchor="middle">2</text>
<text x="976.98" y="1611.7" font-size="31" text-anchor="middle">4</text>
<text x="1053.5" y="1611.7" font-size="31" text-anchor="middle">6</text>
<text x="1130.02" y="1611.7" font-size="31" text-anchor="middle">8</text>
<text x="1206.54" y="1611.7" font-size="31" text-anchor="middle">10</text>
<text x="1283.06" y="1611.7" font-size="31" text-anchor="middle">12</text>
<text x="1359.58" y="1611.7" font-size="31" text-anchor="middle">14</text>
<text x="1436.1" y="1611.7" font-size="31" text-anchor="middle">16</text>
<text x="850.2" y="1558.79" font-size="31" text-anchor="end">0</text>
<text x="850.2" y="1432.25" font-size="31" text-anchor="end">0.5</text>
<text x="850.2" y="1305.7" font-size="31" text-anchor="end">1</text>
<text x="1149.15" y="1650.1" font-size="34" text-anchor="middle">Iteration index <tspan font-style="italic">i</tspan></text>
<text transform="translate(798,1432.8) rotate(-90)" font-size="34" text-anchor="middle">Constraint viol. [dB]</text>
<rect x="1185.9" y="1307.6" width="232.6" height="97" fill="#fff" stroke="#262626" stroke-width="1.3"/>
<line x1="1192.7" y1="1332.8" x2="1258" y2="1332.8" stroke="#000" stroke-width="4.5"/>
<circle cx="1225.4" cy="1332.8" r="6.3" stroke="#000" stroke-width="4" fill="none"/>
<path d="M1192.7,1378.6 h13.1 M1244.9,1378.6 h13.1" stroke="#000" stroke-width="4.5"/>
<circle cx="1225.4" cy="1378.6" r="6.7" fill="#000"/>
<text x="1264" y="1339" font-size="29.5" textLength="112.5" lengthAdjust="spacingAndGlyphs" fill="#000">Constraint</text>
<text x="1384" y="1339" font-size="29.5" font-style="italic" fill="#000">g</text>
<text x="1401.5" y="1351.5" font-size="21" fill="#000">1</text>
<text x="1264" y="1383.2" font-size="29.5" textLength="112.5" lengthAdjust="spacingAndGlyphs" fill="#000">Constraint</text>
<text x="1384" y="1383.2" font-size="29.5" font-style="italic" fill="#000">g</text>
<text x="1401.5" y="1395.7" font-size="21" fill="#000">2</text>
<text x="765.8" y="836.5" font-size="47" text-anchor="middle">(a)</text>
<text x="765.8" y="1700.8" font-size="47" text-anchor="middle">(b)</text>
</svg></body></html>
